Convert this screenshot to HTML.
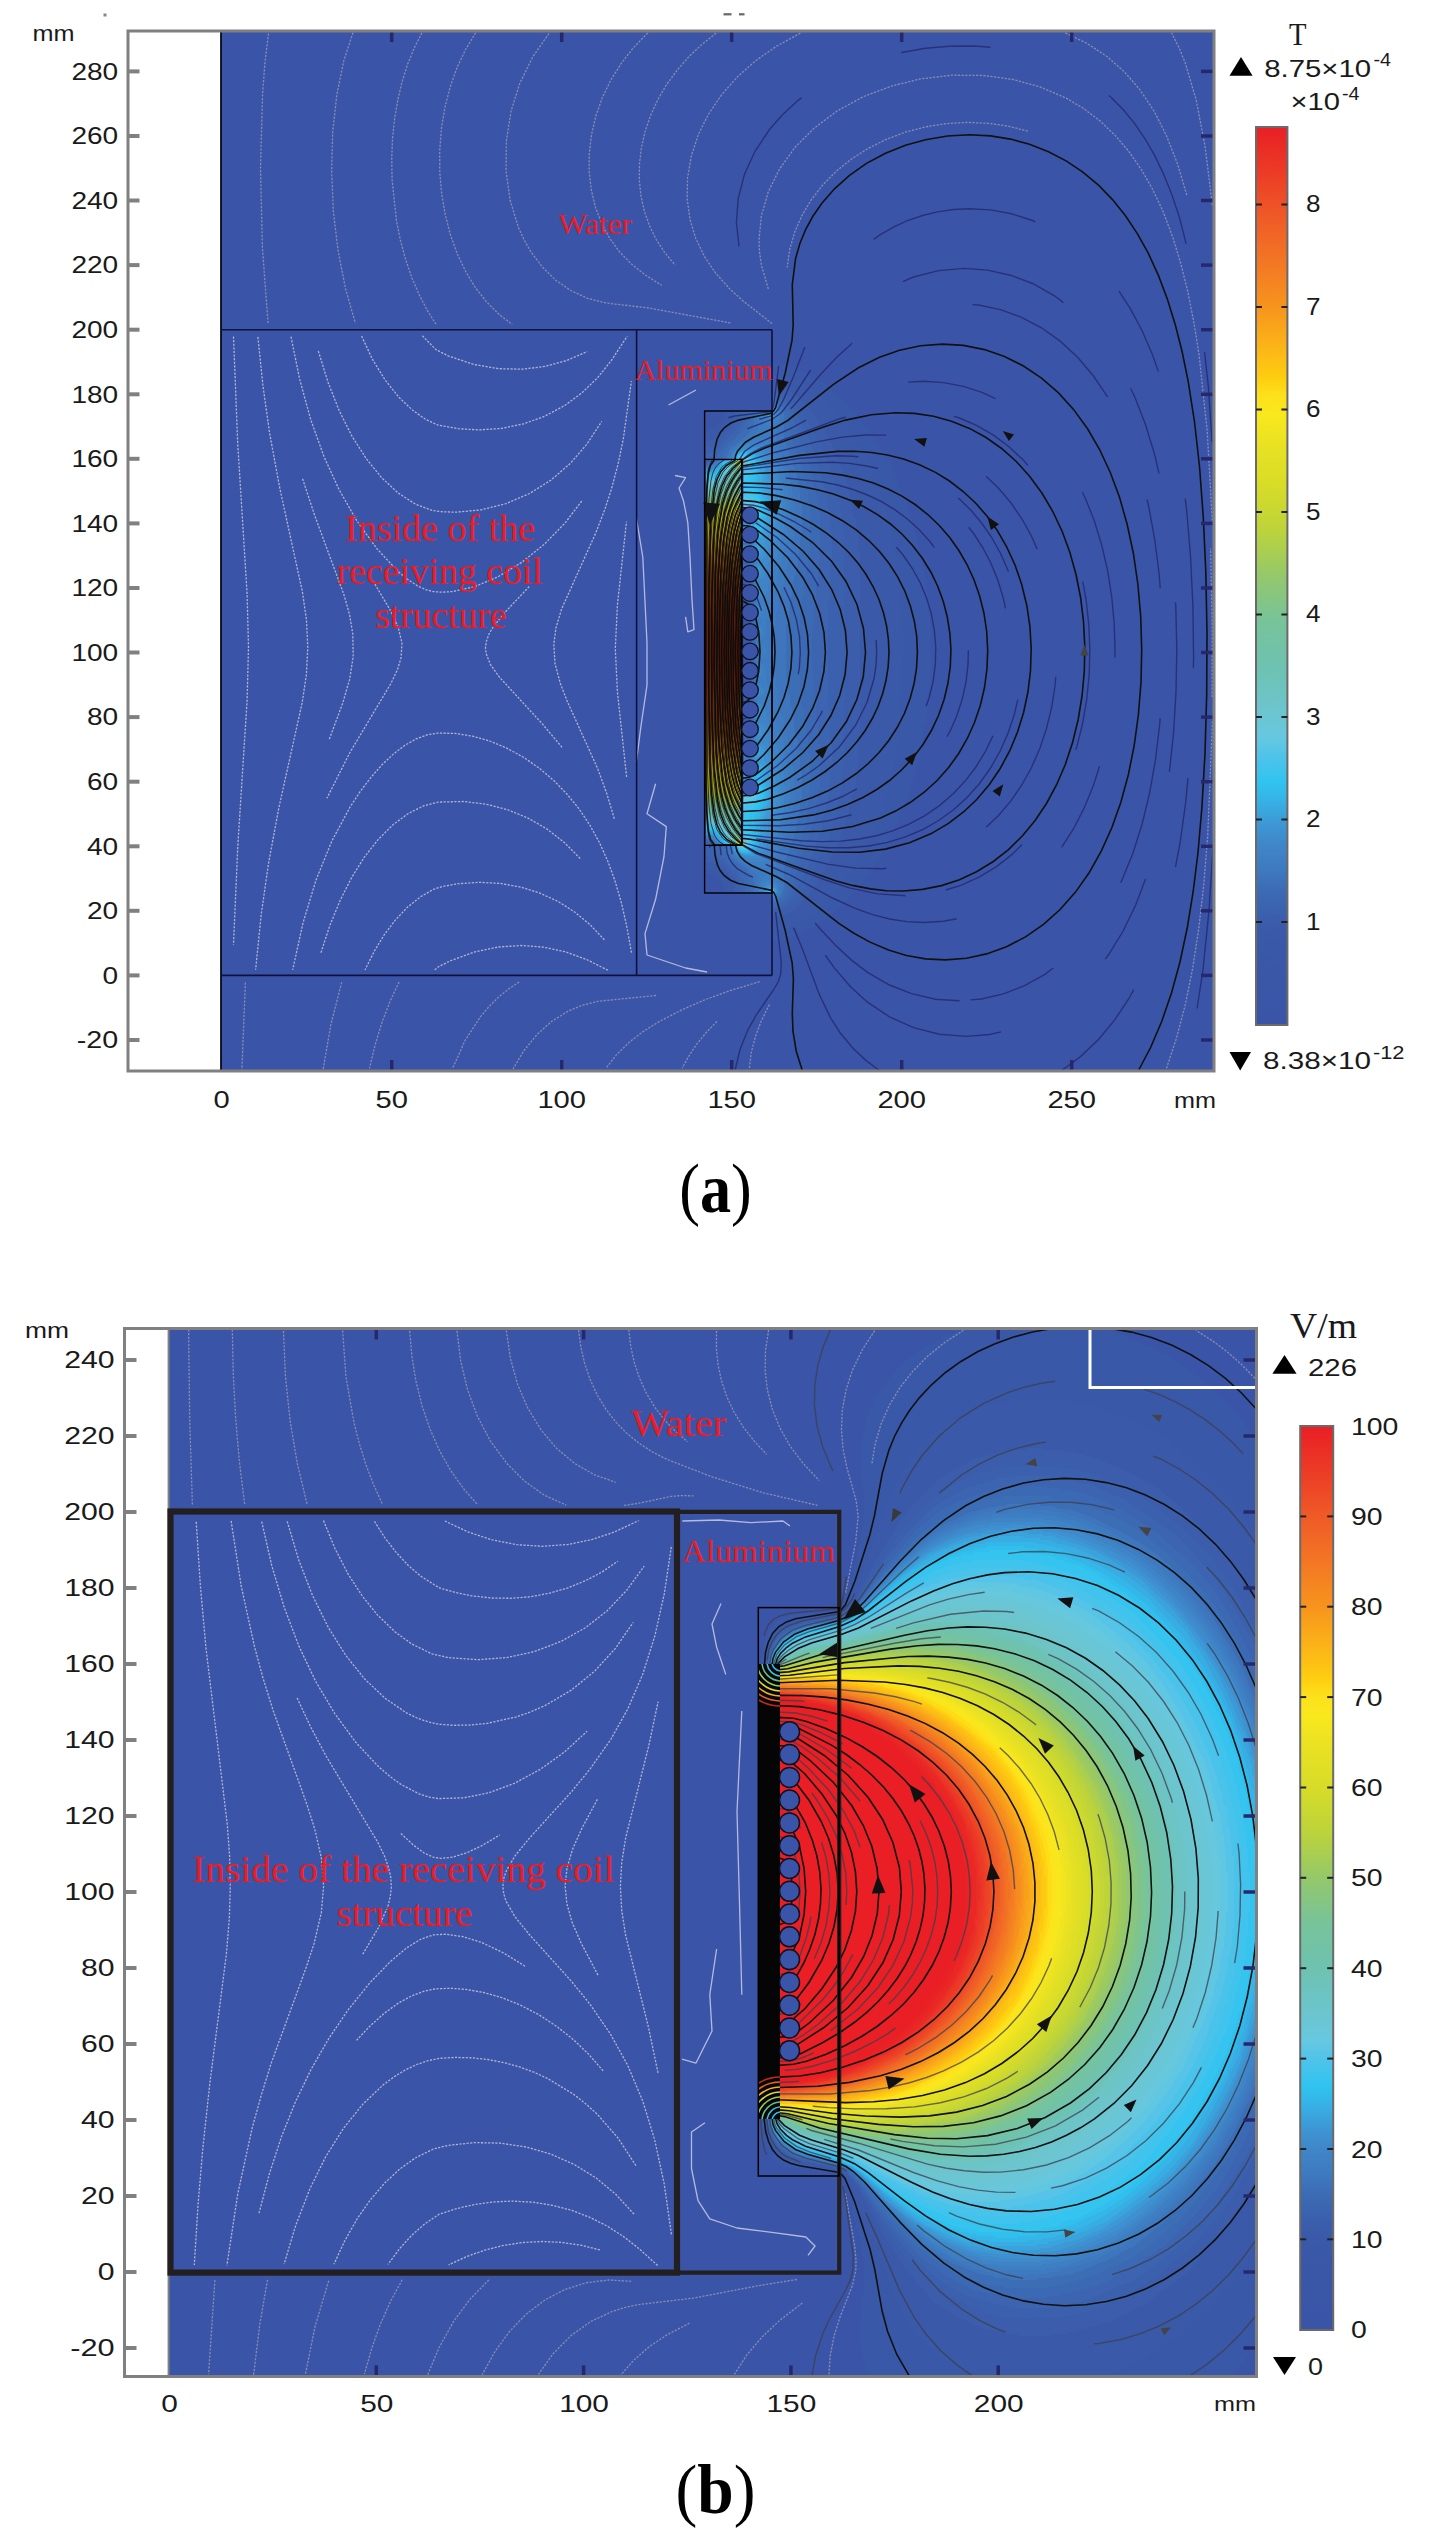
<!DOCTYPE html>
<html><head><meta charset="utf-8"><style>
html,body{margin:0;padding:0;background:#fff;width:1434px;height:2540px;overflow:hidden}
svg{position:absolute;left:0;top:0;display:block}
</style></head><body>
<svg width="1434" height="2540" viewBox="0 0 1434 2540">
<clipPath id="cpa"><rect x="220.5" y="31.0" width="993.5" height="1040.0"/></clipPath>
<rect x="220.5" y="31.0" width="993.5" height="1040.0" fill="#3a55a7" stroke="none" stroke-width="0.0"/>
<g clip-path="url(#cpa)">
<path fill="#3a58a8" fill-rule="evenodd" d="M772 974L772 976 774 976ZM776 362L772 362 772 410 772 412 728 412 724 412 722 420 716 426 706 430 706 434 706 434 706 868 708 874 710 874 720 880 722 884 724 892 732 892 734 892 772 892 772 894 772 942 774 940 780 940 796 936 814 926 832 914 840 908 858 888 868 876 884 850 900 816 908 794 910 792 910 788 916 772 916 768 920 756 920 752 922 746 922 742 922 742 924 726 926 724 928 702 928 702 928 692 930 690 930 676 930 676 930 628 930 626 930 612 928 612 928 594 926 592 926 586 926 584 924 568 922 566 920 552 918 548 916 536 912 524 912 522 906 500 896 480 896 478 886 456 868 430 852 410 836 394 822 382 812 376 794 368ZM744 700L748 702 748 704 746 708 744 706 744 702ZM746 678L748 682 748 686 748 688 744 692 742 688 742 682 744 680ZM746 628L748 630 748 634 748 634 748 642 748 644 748 648 748 650 748 652 748 654 748 668 748 670 748 672 744 676 742 670 742 660 744 660 744 654 742 654 742 650 744 648 742 632 744 630ZM744 612L748 614 748 620 746 624 744 624 742 620 742 616ZM746 596L748 598 748 600 746 602 744 602 744 596ZM772 328L772 332 774 330Z"/>
<path fill="#3a59a8" fill-rule="evenodd" d="M772 374L772 410 772 412 732 412 730 412 728 412 726 418 722 424 716 430 710 432 706 432 706 438 706 440 706 458 706 460 706 462 706 844 706 844 706 846 706 864 706 864 706 870 710 870 714 872 724 882 728 888 728 892 738 892 738 892 772 892 772 894 772 930 778 930 778 930 782 930 792 926 806 920 818 912 836 892 856 864 862 852 864 850 874 832 874 830 880 816 888 792 888 788 892 772 892 768 894 766 894 762 896 756 896 752 896 750 896 744 898 744 898 738 898 736 898 730 900 730 900 722 900 720 902 696 902 696 904 630 902 630 902 608 902 606 900 582 900 582 900 574 898 572 896 552 894 546 892 532 880 490 872 470 872 468 862 450 860 448 856 438 838 414 822 396 808 386 794 378 780 374ZM744 724L744 722 746 722 746 724 744 726ZM744 700L746 700 748 702 748 704 746 708 744 708 742 706ZM744 610L748 612 750 620 746 626 748 630 748 636 750 636 750 642 748 642 748 660 750 662 750 666 748 668 748 672 746 676 750 684 748 686 748 688 746 692 744 692 742 688 742 680 744 680 744 674 742 672 742 658 744 658 742 656 742 648 744 648 742 644 742 632 744 630 742 614ZM744 594L748 598 748 600 746 604 744 604 742 600 742 598ZM744 578L744 578 746 580 744 582Z"/>
<path fill="#3a5aa9" fill-rule="evenodd" d="M772 380L772 410 772 412 736 412 734 412 732 412 730 414 730 418 728 424 718 432 710 436 706 436 706 444 706 446 706 458 706 460 706 462 706 842 706 844 706 846 706 856 706 858 706 866 712 868 720 872 726 878 730 886 730 890 732 892 772 892 772 894 772 922 778 922 792 918 804 912 808 908 824 892 836 874 840 864 842 862 852 842 852 840 856 836 864 814 864 810 866 804 866 800 870 792 870 788 872 782 872 778 872 778 874 760 876 758 876 752 876 750 876 742 878 742 878 732 878 730 880 690 880 690 880 612 880 612 880 588 878 586 878 562 876 560 876 552 876 552 876 544 874 544 872 526 872 524 872 520 870 520 870 512 866 500 866 496 858 476 850 456 850 454 840 438 828 418 820 408 808 396 800 390 788 384ZM744 720L746 720 748 722 746 726 744 726 744 722ZM744 698L750 702 748 706 744 710 742 706 742 702ZM746 610L750 614 750 622 748 626 750 630 750 672 748 674 750 688 748 692 744 694 742 690 742 680 744 678 744 674 742 674 742 630 744 630 742 614 744 610ZM744 592L748 594 750 598 748 602 744 606 742 602 742 596ZM744 576L748 580 746 582 744 582 744 578Z"/>
<path fill="#3b5dab" fill-rule="evenodd" d="M772 386L772 410 772 412 740 412 740 412 734 412 734 420 730 426 718 438 712 440 706 442 706 454 706 456 706 458 710 458 712 460 708 462 706 462 706 464 706 842 706 844 710 844 710 844 710 846 706 846 706 862 716 864 728 874 734 884 734 892 772 892 772 894 772 916 778 916 788 914 798 906 808 896 818 882 836 848 848 816 848 812 852 800 852 796 854 794 854 790 856 784 856 780 856 778 858 764 858 762 860 736 860 734 860 568 860 566 860 552 858 550 858 532 856 530 856 524 856 524 856 518 854 518 852 504 844 472 842 470 838 458 834 450 834 448 824 430 810 408 794 394 784 388ZM748 720L750 722 748 724 744 728 742 724 744 720 744 720ZM744 696L746 698 750 702 748 708 746 712 744 710 742 708 742 700ZM744 608L746 608 748 610 750 614 750 622 748 626 750 630 750 672 750 674 750 688 750 688 750 692 746 696 744 696 742 692 742 678 744 678 742 674 742 630 744 628 744 626 742 624 742 612ZM746 592L750 596 750 600 744 608 742 602 742 596 744 592ZM744 576L746 576 750 580 746 584 744 584 742 580 742 578Z"/>
<path fill="#3b60ad" fill-rule="evenodd" d="M776 392L772 392 772 410 772 412 744 412 744 412 738 412 738 420 732 428 718 442 712 446 706 446 706 458 716 458 718 460 712 462 708 462 706 462 706 464 706 840 706 842 714 844 714 844 714 846 706 846 706 856 716 860 728 870 734 876 736 882 738 892 772 892 772 894 772 912 786 908 798 900 806 888 818 864 818 862 822 854 822 852 828 840 838 810 838 806 838 804 840 796 840 794 840 790 842 788 842 782 842 782 844 758 844 758 844 704 844 702 844 544 844 544 844 530 842 530 842 522 842 520 840 502 830 466 820 446 820 444 808 420 798 406 788 396ZM744 744L744 740 748 742 746 744ZM744 718L748 718 750 722 748 726 744 730 742 726 742 722ZM746 590L750 594 752 598 752 600 748 604 748 608 752 616 752 622 750 626 752 632 752 642 750 644 752 646 752 656 750 656 750 660 752 660 752 672 750 672 752 686 748 696 748 698 750 700 750 706 750 710 744 714 742 708 742 700 744 698 744 694 742 692 742 610 744 610 742 594 744 592ZM746 574L750 580 744 586 742 582 742 578 744 574ZM744 562L744 558 748 560 746 562Z"/>
<path fill="#3c64b0" fill-rule="evenodd" d="M772 396L772 410 772 412 748 412 748 412 742 412 742 420 736 430 718 448 710 454 706 454 706 458 720 458 722 460 716 462 708 462 706 464 706 466 706 838 706 842 712 844 716 844 718 844 716 846 710 846 712 846 714 852 736 874 740 882 742 890 742 892 772 892 772 894 772 908 776 908 784 906 792 898 802 880 802 878 808 868 820 832 820 830 822 826 822 822 826 810 828 800 828 798 830 784 830 782 830 768 832 766 832 742 830 742 830 720 830 720 828 686 828 684 828 620 828 618 828 602 830 600 830 584 830 584 830 564 832 564 832 534 830 532 830 520 830 518 830 510 828 510 826 494 826 492 822 478 808 436 794 408 786 400 776 396ZM744 746L744 740 744 740 748 740 750 742 748 744 744 746ZM744 716L748 718 752 722 750 728 746 730 744 730 742 726 742 720ZM744 588L746 588 750 592 752 600 750 604 752 610 752 614 752 616 752 622 750 626 752 632 752 638 752 638 752 640 752 646 752 648 752 654 752 656 752 660 752 662 752 664 752 666 752 680 752 682 752 682 752 692 750 696 752 700 752 708 746 714 744 714 742 710 742 698 744 696 742 694 742 610 744 608 742 606 742 592ZM744 572L746 572 752 580 752 582 746 586 744 586 742 582 742 576ZM744 562L744 558 744 558 750 560 746 564Z"/>
<path fill="#3c69b3" fill-rule="evenodd" d="M776 398L772 398 772 410 772 412 754 412 752 412 746 412 746 414 746 420 742 428 738 434 722 448 718 454 716 458 724 458 724 460 724 460 710 462 706 464 706 468 706 836 706 838 706 840 708 840 714 844 718 844 720 844 718 846 714 846 718 846 720 846 720 850 722 856 740 874 746 886 746 890 746 892 772 892 772 894 772 906 780 904 788 898 792 888 796 876 796 874 812 828 812 824 816 816 816 812 816 810 816 806 818 798 818 790 820 790 820 744 818 744 818 732 818 732 818 722 816 720 816 712 816 710 816 702 814 700 814 690 814 688 814 674 812 674 812 630 814 630 814 616 814 614 814 604 816 602 816 594 816 592 816 584 818 582 818 572 818 572 818 562 820 560 820 542 820 540 820 512 818 512 818 498 816 496 816 492 816 492 816 488 814 486 812 476 804 448 802 446 792 416 788 406 782 402ZM748 738L750 740 750 742 744 748 742 744 742 742 744 738ZM744 572L746 572 752 576 752 582 748 586 752 594 752 600 754 600 750 606 752 610 752 616 754 616 752 620 754 622 752 624 752 626 752 632 754 632 754 636 752 636 752 640 754 642 752 642 752 648 754 648 754 654 752 654 752 660 754 662 752 664 752 668 754 668 752 670 752 676 752 678 752 680 752 692 750 696 752 700 752 708 748 716 752 720 752 726 750 730 746 732 744 732 742 728 742 718 744 718 744 712 742 712 742 592 744 590 742 576ZM744 556L744 556 746 556 750 562 748 564 744 564 742 562Z"/>
<path fill="#3c6eb6" fill-rule="evenodd" d="M774 400L772 400 772 410 772 412 750 412 750 420 746 428 724 450 722 454 722 458 722 458 726 458 726 460 720 462 714 462 706 466 706 468 706 836 706 836 706 840 708 840 716 844 720 844 722 844 718 846 722 846 724 846 724 852 728 856 746 874 748 880 750 890 750 892 772 892 772 894 772 904 778 902 784 898 788 886 788 882 790 880 790 874 790 874 792 866 802 836 802 834 806 822 806 818 806 816 806 812 808 806 810 788 810 786 810 754 808 754 808 736 806 736 806 730 806 728 806 722 804 722 804 716 804 714 804 708 802 708 802 700 802 700 802 692 800 692 800 682 800 680 800 668 798 666 800 622 800 622 800 612 802 612 802 596 804 596 804 590 804 588 804 582 806 582 806 576 806 574 806 568 808 568 808 552 810 550 810 540 810 538 810 502 808 502 808 496 808 494 808 490 806 490 806 486 806 484 804 474 792 440 790 432 790 430 790 426 788 424 788 418 786 412 784 408 780 404ZM744 736L750 738 752 740 750 744 746 748 744 748 742 746 742 740ZM746 570L750 572 754 580 754 582 750 586 754 594 754 602 752 606 754 610 754 618 754 620 754 622 752 624 754 626 754 632 754 634 754 636 754 640 754 640 754 644 754 648 754 650 754 660 754 662 754 664 754 676 752 676 754 680 754 692 752 696 754 700 754 708 750 716 750 718 752 720 752 726 750 730 746 734 744 734 742 730 742 718 744 716 742 714 742 590 744 590 742 586 742 574ZM746 554L752 560 752 562 744 566 742 564 742 558 744 556ZM744 540L746 540 746 542 744 542Z"/>
<path fill="#3e75bc" fill-rule="evenodd" d="M774 402L772 402 772 410 772 412 754 412 754 424 752 430 744 438 730 448 726 456 726 458 728 460 726 460 714 462 712 464 708 466 706 470 706 834 706 836 706 838 708 838 716 844 722 844 722 844 722 846 726 846 728 848 728 852 732 858 746 868 752 876 754 882 754 892 772 892 772 894 772 902 778 900 782 894 784 888 784 888 784 868 784 868 786 860 796 830 798 814 800 812 800 808 800 806 800 800 802 798 802 768 800 768 800 760 800 758 800 752 798 750 798 740 796 738 794 724 794 722 792 708 790 706 790 702 790 700 790 696 788 694 788 680 786 678 786 668 786 666 786 624 788 624 790 602 790 602 792 592 792 590 792 586 794 580 794 576 796 574 796 570 798 564 800 546 800 546 800 538 802 536 802 502 800 502 800 490 798 488 798 484 798 484 796 472 784 438 784 412 782 408ZM744 764L744 760 744 760 748 760 750 760 746 764ZM748 554L754 560 752 562 746 568 752 572 754 580 754 582 752 586 752 588 754 590 754 600 756 600 754 604 754 618 756 620 756 624 754 626 754 626 754 638 756 640 756 644 754 644 754 648 756 650 754 652 756 664 754 664 754 674 754 676 754 678 756 680 756 682 754 684 754 692 752 696 754 700 754 708 752 716 752 718 754 720 754 722 754 724 752 732 746 736 752 740 752 744 748 750 744 750 742 746 742 738 744 738 744 732 742 732 742 572 744 568 742 564 742 556 744 554ZM744 538L744 538 748 540 750 542 748 544 744 544 744 542Z"/>
<path fill="#3e7ac0" fill-rule="evenodd" d="M772 404L772 410 772 412 756 412 758 420 758 422 758 428 758 430 752 436 738 444 730 452 728 456 728 458 730 460 728 460 714 462 712 466 708 466 706 472 706 834 706 834 706 838 712 840 718 844 724 844 724 844 724 846 728 846 732 854 738 860 750 868 756 874 758 876 756 892 772 892 772 894 772 900 774 900 780 896 782 890 780 882 776 874 776 864 788 832 792 814 792 814 792 808 794 808 794 800 794 800 794 776 794 774 794 766 792 766 792 760 792 760 792 754 788 744 788 740 784 728 784 724 784 722 784 720 780 710 780 706 780 706 780 702 778 700 778 696 778 696 778 690 776 684 776 676 774 676 774 666 774 664 774 640 774 638 776 620 776 618 778 608 778 606 778 602 782 588 782 584 784 584 784 580 788 564 788 560 790 554 792 538 794 538 794 532 794 530 794 500 794 500 792 488 792 486 788 472 776 438 776 432 780 420 780 410 776 404ZM742 764L744 758 750 758 752 760 748 766 744 766ZM744 552L748 552 752 556 754 560 754 564 752 564 750 568 754 572 756 578 756 582 752 586 756 594 756 600 756 600 756 602 754 604 756 618 758 620 758 624 756 626 756 638 758 642 756 646 756 658 758 662 756 666 756 674 754 676 754 678 758 682 756 684 756 692 754 696 754 698 756 700 756 702 756 704 754 712 752 716 756 720 756 724 750 736 750 738 754 740 754 744 752 746 746 752 744 752 742 748 742 738 744 736 744 734 742 732 742 572 744 570 744 568 742 566 742 556ZM742 540L744 536 750 538 752 540 752 542 744 546 742 542Z"/>
<path fill="#3e7fc3" fill-rule="evenodd" d="M766 874L760 882 758 890 760 892 772 892 772 894 772 898 774 898 780 892 778 884 774 878 768 874ZM762 644L756 646 756 656 762 658 766 656 766 652 766 646ZM758 438L740 444 732 452 730 458 730 460 730 460 718 462 712 466 708 468 706 472 706 832 706 832 706 836 712 838 716 842 718 844 724 844 726 846 730 846 732 852 742 860 762 868 766 868 772 862 778 850 782 836 782 832 786 820 788 810 788 810 788 802 790 802 790 778 788 778 788 770 788 770 786 760 786 758 782 740 780 736 778 728 776 722 772 706 770 698 768 686 766 680 766 678 766 668 764 664 758 664 756 666 756 674 756 676 758 678 760 682 756 686 756 690 754 696 758 700 754 716 754 718 756 720 756 722 756 724 756 728 752 736 754 740 754 744 752 748 748 752 744 752 742 750 742 570 744 568 742 568 742 554 746 550 750 552 754 558 754 560 756 562 754 564 752 566 752 568 754 572 756 580 756 582 754 586 754 588 756 590 756 598 758 600 758 602 756 606 756 610 756 610 756 616 762 620 762 622 756 626 756 636 760 638 764 638 766 634 766 620 770 612 770 600 774 594 776 582 782 560 782 558 786 544 788 536 788 534 788 528 790 528 790 498 788 498 788 492 788 490 788 486 786 486 784 470 774 448 772 444 766 438ZM750 758L752 762 748 766 744 768 742 764 742 760 744 756ZM742 538L744 536 748 536 752 540 752 542 750 544 744 546 742 544ZM772 404L772 410 772 412 758 412 760 420 766 426 770 426 772 426 778 420 780 416 778 408Z"/>
<path fill="#3f84c6" fill-rule="evenodd" d="M764 882L762 886 760 892 772 892 772 894 772 898 774 898 778 892 778 886 776 884 770 880ZM758 686L756 696 756 696 760 696 764 694 764 690 760 686ZM758 668L758 674 756 674 760 676 762 674 762 670 760 668ZM760 648L758 648 758 656 760 654 762 652ZM758 626L758 634 760 636 762 634 762 628ZM756 606L758 616 760 616 762 614 764 608 762 606ZM752 442L752 444 744 444 738 448 732 454 732 456 732 458 732 460 732 460 720 462 714 466 710 468 706 468 706 472 706 474 706 830 706 832 706 836 712 838 718 842 726 844 726 846 730 846 732 848 734 852 740 858 750 862 762 862 766 860 770 854 776 840 776 838 778 834 778 830 782 818 782 814 784 812 784 798 786 796 786 786 784 786 784 776 784 776 784 772 782 770 782 766 782 766 782 762 780 758 778 750 774 738 774 734 770 726 768 720 766 710 762 704 758 704 758 706 756 712 754 716 758 720 754 732 752 736 756 740 756 744 752 752 748 754 744 754 742 750 742 554 744 550 748 550 754 556 756 562 752 568 756 572 756 578 760 582 754 588 756 592 758 598 760 598 766 596 768 590 768 584 774 570 774 566 778 556 778 554 780 550 780 546 784 534 784 522 786 520 786 502 784 500 784 494 784 494 784 488 782 484 780 476 778 472 778 466 770 450 762 444ZM744 756L750 758 754 760 754 762 748 768 746 768 744 768 742 766 742 758ZM742 538L744 536 748 536 754 540 754 542 750 546 744 548 742 544ZM772 406L772 410 772 412 760 412 764 420 766 422 772 422 774 420 778 416 778 414 778 412 776 408Z"/>
<path fill="#3f8aca" fill-rule="evenodd" d="M768 884L764 888 762 892 772 892 772 894 772 898 776 894 778 890 776 888 774 884ZM760 708L758 708 756 716 758 716 762 714 762 710ZM758 688L758 694 760 694 760 690ZM758 608L758 612 758 614 760 614 760 608ZM756 586L758 594 760 596 762 594 762 590 762 588 760 586ZM748 446L746 446 744 446 736 450 732 456 734 460 732 460 720 462 714 468 710 470 706 470 706 474 706 476 706 830 706 830 706 834 712 836 716 838 718 842 726 844 728 846 732 846 734 852 738 856 746 858 750 858 752 860 754 858 760 858 764 856 768 850 772 842 776 822 778 820 778 818 778 816 778 812 780 812 782 790 780 788 780 780 780 778 778 770 776 766 774 756 768 742 766 728 762 724 758 724 754 732 754 736 758 740 758 742 756 744 756 748 750 756 750 756 754 760 754 762 754 764 748 768 744 770 742 766 742 758 744 756 744 752 742 752 742 552 744 552 742 536 744 534 748 534 754 540 754 544 748 548 754 554 758 560 758 564 754 566 756 576 760 578 764 578 766 572 768 564 772 556 780 530 780 520 782 518 782 502 780 500 780 494 780 494 780 490 778 488 778 484 778 484 776 472 770 456 762 448 756 446ZM776 408L772 406 772 410 772 412 762 412 764 416 768 420 774 418 776 416 776 410Z"/>
<path fill="#3e90d0" fill-rule="evenodd" d="M766 886L764 892 772 892 772 894 772 896 774 896 776 894 776 888 772 886ZM760 728L758 728 756 732 756 736 760 736 762 734 762 730ZM758 710L758 714 760 712ZM758 588L758 592 760 592 760 590ZM756 566L754 568 758 574 760 576 762 572 762 568 760 566ZM746 448L738 450 734 454 734 458 734 460 734 460 720 462 714 468 710 470 706 470 706 476 706 476 706 828 706 830 706 834 714 836 720 842 728 844 730 846 734 846 734 846 734 850 740 854 744 856 756 856 764 850 770 838 772 826 774 816 776 808 776 806 776 802 778 800 778 788 776 786 776 780 776 780 774 772 766 748 762 744 758 744 752 754 752 756 756 760 756 764 750 770 744 770 742 768 742 756 744 754 742 752 742 552 744 550 744 548 742 546 742 536 744 534 750 534 754 538 756 542 750 548 760 560 762 560 766 556 776 524 776 520 778 518 778 500 776 498 776 494 776 492 776 488 774 488 770 468 766 456 756 448ZM744 782L744 780 748 780 748 780 746 782ZM744 520L744 520 746 520 748 520 750 522 748 524 746 524ZM774 408L772 406 772 410 772 412 764 412 768 418 772 418 776 412 776 410Z"/>
<path fill="#3d99d5" fill-rule="evenodd" d="M770 886L766 890 766 892 772 892 772 894 772 896 776 894 776 890 774 888ZM758 730L756 732 756 734 760 732ZM756 568L758 574 760 572 760 570 758 568ZM744 450L736 454 734 460 720 462 718 466 710 472 706 472 706 476 706 478 706 826 706 828 706 832 714 836 720 842 728 844 730 846 734 846 736 848 736 850 742 854 752 856 758 852 762 848 764 842 766 836 766 832 768 830 768 826 768 826 768 822 772 808 774 792 774 792 774 784 772 784 770 772 764 758 764 750 760 746 758 746 752 756 758 760 756 766 752 770 748 772 744 772 742 768 742 536 744 532 750 532 752 534 758 542 756 546 752 546 752 548 756 552 758 556 760 556 762 554 764 550 764 544 770 532 770 530 774 520 774 502 774 502 774 496 768 478 766 466 762 458 758 452 752 450ZM744 782L744 780 744 778 750 778 752 780 746 784ZM744 520L746 518 752 520 752 522 750 524 744 524 744 524ZM774 408L772 408 772 410 772 412 766 412 768 416 772 416 774 414 776 410Z"/>
<path fill="#3aa3dc" fill-rule="evenodd" d="M768 888L766 892 772 892 772 896 774 894 774 888 772 888ZM760 748L758 748 754 754 756 756 760 754ZM754 548L758 554 760 554 760 554 760 548 758 546ZM744 450L738 454 734 460 720 462 720 466 712 472 706 472 706 478 706 480 706 826 706 826 706 832 714 834 722 842 724 844 730 844 732 846 734 846 740 852 744 854 748 854 756 852 758 848 762 840 764 822 770 802 770 786 770 786 766 770 762 764 758 764 754 770 748 772 746 772 742 770 742 534 744 532 750 532 754 534 758 538 762 538 764 536 770 518 772 502 770 502 768 490 766 486 764 466 760 458 754 452 750 450ZM742 782L744 776 746 778 750 778 752 780 752 782 746 784 744 784ZM742 520L744 518 754 520 754 522 750 526 744 526 742 522ZM772 408L772 410 772 412 766 412 768 416 772 416 774 414 774 410Z"/>
<path fill="#37ade3" fill-rule="evenodd" d="M768 890L766 892 772 892 772 896 774 894 774 890 772 888ZM758 750L756 754 758 754 758 752ZM756 548L756 550 758 552 758 550ZM742 452L736 456 736 458 736 460 736 460 722 462 720 466 712 472 706 474 706 480 706 480 706 824 706 824 706 830 712 832 716 834 722 842 724 844 730 844 732 846 736 846 740 852 744 854 748 854 752 852 756 848 758 844 760 834 760 834 760 824 768 802 768 790 766 784 764 780 762 768 760 766 750 774 744 774 742 770 742 534 744 530 748 530 752 532 758 538 762 534 764 528 764 524 768 514 768 502 762 484 762 472 760 470 760 466 758 460 754 454 748 452ZM742 778L744 776 750 776 754 780 754 782 750 784 744 786 742 784ZM742 518L744 518 752 518 756 520 756 524 750 526 744 526 742 524ZM774 408L772 408 772 412 768 412 768 414 772 414 774 412Z"/>
<path fill="#34b6e8" fill-rule="evenodd" d="M768 892L772 892 772 894 774 894 774 892 772 890 768 890ZM742 452L738 454 736 460 722 462 722 466 714 472 710 474 706 474 706 480 706 482 706 822 706 824 706 830 716 832 722 838 724 842 726 844 732 844 734 846 736 846 740 852 748 852 752 850 756 844 756 840 758 840 758 830 756 828 758 820 764 804 764 800 766 800 766 788 764 784 760 780 760 770 758 768 750 776 758 778 758 780 758 782 754 784 748 786 746 786 744 786 742 784 742 778 744 776 744 772 742 772 742 532 744 530 750 528 754 530 758 536 762 532 762 528 760 524 752 526 748 526 744 528 742 526 742 518 744 516 750 516 756 518 760 522 766 516 766 506 758 482 758 468 758 466 758 462 754 456 748 452ZM772 408L772 412 768 412 770 414 772 414 774 410Z"/>
<path fill="#31c0ee" fill-rule="evenodd" d="M770 890L768 892 772 892 772 894 774 892 772 890ZM758 770L758 770 752 776 758 776ZM752 528L752 528 758 534 760 530 758 528 756 526ZM742 454L738 456 736 460 724 462 722 466 718 472 710 476 706 476 706 482 706 484 706 820 706 822 706 828 716 832 722 838 724 842 732 844 734 846 736 846 740 850 742 852 748 852 750 850 754 844 754 818 764 798 764 790 760 784 758 784 752 786 744 786 742 784 742 776 744 774 742 772 742 532 744 530 742 528 742 518 744 516 748 516 750 516 754 516 758 518 760 518 764 514 764 506 762 500 756 486 756 480 754 480 756 476 756 462 754 458 748 454ZM774 410L768 412 772 414 774 412Z"/>
<path fill="#35c4ef" fill-rule="evenodd" d="M770 890L768 892 772 892 772 894 774 892 772 890ZM754 528L758 532 758 530ZM744 454L740 454 738 458 736 460 724 462 722 468 716 474 710 476 706 476 706 484 706 484 706 820 706 820 706 828 712 828 718 832 724 838 724 842 734 844 734 846 736 846 740 850 742 850 748 850 752 848 754 842 752 834 748 826 748 822 750 814 756 808 762 798 762 788 758 786 754 788 744 788 742 786 742 516 744 516 754 516 758 518 762 512 762 506 758 496 754 490 750 482 750 480 754 470 754 460 748 454ZM774 410L772 410 772 412 768 412 772 414Z"/>
<path fill="#40c4ed" fill-rule="evenodd" d="M770 890L770 892 774 894 772 890ZM742 454L738 458 738 460 726 462 722 468 716 476 710 478 706 478 706 486 706 486 706 818 706 818 706 826 710 826 716 830 722 836 726 842 734 844 736 846 738 846 740 850 746 850 750 848 752 846 752 838 750 834 744 828 744 814 750 810 756 804 760 798 760 790 758 788 756 788 754 788 744 788 742 786 742 516 744 514 754 514 756 516 758 516 760 514 760 506 756 498 744 484 744 482 748 476 752 466 752 458 746 454ZM772 410L772 410 770 412 770 414 772 412 774 410Z"/>
<path fill="#4ac3eb" fill-rule="evenodd" d="M770 890L770 892 772 894 772 892ZM744 454L740 456 738 460 726 462 726 464 722 470 718 476 712 478 708 478 706 480 706 486 706 488 706 816 706 818 706 826 710 826 718 830 724 836 726 842 728 844 734 844 736 846 738 846 742 850 746 850 750 844 750 840 748 834 742 830 742 812 744 808 754 804 758 796 758 790 758 788 756 790 744 790 742 788 742 516 744 514 756 514 758 514 760 512 760 508 758 504 750 496 744 492 744 488 742 488 742 478 744 474 750 470 752 464 750 458ZM774 410L772 410 772 410 770 412 772 412Z"/>
<path fill="#56c4e8" fill-rule="evenodd" d="M770 890L770 892 772 894ZM742 456L738 460 726 462 726 464 724 470 716 478 706 480 706 488 706 490 706 814 706 816 706 824 710 824 718 828 724 834 726 840 726 842 734 844 736 846 738 846 740 848 746 850 750 846 750 840 748 838 742 834 742 808 746 804 750 804 756 798 758 796 758 790 744 790 742 788 742 514 746 512 758 512 758 510 756 504 750 500 746 498 742 494 742 474 750 466 750 458 746 456ZM772 410L770 412 772 412Z"/>
<path fill="#60c7e2" fill-rule="evenodd" d="M744 456L740 456 738 460 728 462 724 472 718 478 712 480 706 482 706 490 706 492 706 812 706 814 706 822 708 824 714 824 720 828 726 834 728 842 736 844 736 846 738 846 740 848 742 848 746 848 748 846 748 840 744 838 742 834 742 806 744 802 752 800 756 796 756 792 746 792 742 788 742 514 748 512 758 512 758 510 754 504 748 500 746 500 742 496 742 472 744 470 748 466 750 462 748 458ZM772 410L770 412 770 412 772 412Z"/>
<path fill="#67c8dd" fill-rule="evenodd" d="M770 892L772 892 772 894 772 892ZM742 456L738 460 728 462 728 466 726 470 726 472 718 480 710 482 706 482 706 492 706 492 706 812 706 812 706 822 716 824 722 828 726 834 728 842 730 844 736 844 742 848 746 848 748 846 748 840 742 836 742 802 746 800 752 798 756 794 756 792 746 792 742 790 742 514 748 510 756 510 756 510 754 506 744 502 742 500 742 470 746 466 748 464 748 460 746 456ZM742 822L742 822 742 830 742 830 740 830 740 822Z"/>
<path fill="#69c6d7" fill-rule="evenodd" d="M742 456L740 460 736 462 728 462 728 466 726 474 720 480 710 484 706 484 706 494 706 494 706 810 706 810 706 820 714 822 720 824 726 830 730 842 732 844 736 844 738 846 740 848 744 848 748 846 748 842 746 840 742 838 742 828 742 832 742 834 740 832 740 816 742 816 742 816 742 820 742 800 744 798 752 796 754 794 752 794 746 794 742 790 742 514 746 510 754 510 754 508 750 506 744 504 742 502 742 468 748 464 748 458 744 456ZM742 472L742 474 742 484 742 486 740 484 740 474Z"/>
<path fill="#6bc6d2" fill-rule="evenodd" d="M742 456L736 462 730 462 728 472 726 476 722 480 714 484 706 484 706 496 706 496 706 808 706 808 706 820 714 820 720 824 726 830 728 834 730 842 736 844 738 846 740 846 740 848 744 848 746 846 746 842 742 838 742 832 742 834 742 836 740 834 740 814 742 812 742 814 742 798 744 796 746 796 750 796 750 794 746 794 744 794 742 790 742 512 746 510 752 508 750 506 744 506 742 504 742 486 742 488 742 490 740 488 740 472 742 470 742 472 742 474 742 468 748 462 746 458Z"/>
<path fill="#6cc5cc" fill-rule="evenodd" d="M742 458L736 462 730 462 728 472 724 480 716 484 708 486 706 486 706 496 706 498 706 806 706 808 706 818 716 820 722 824 728 830 730 842 736 844 742 848 744 848 746 846 746 842 742 840 742 834 742 836 740 836 740 810 742 810 742 810 742 796 744 796 742 792 742 512 744 510 744 508 742 506 742 492 742 494 740 492 740 470 742 468 742 472 742 466 746 462 746 458 746 458Z"/>
<path fill="#6dc4c6" fill-rule="evenodd" d="M742 458L738 462 730 462 730 472 728 476 722 482 714 486 706 488 706 498 706 500 706 804 706 806 706 816 716 818 724 822 730 830 730 832 730 842 738 844 738 846 742 848 744 848 746 844 742 840 742 836 742 838 740 836 740 808 742 808 742 542 742 542 742 540 742 494 742 496 740 494 740 468 742 468 742 470 742 466 746 464 746 460 744 458Z"/>
<path fill="#6dc4c0" fill-rule="evenodd" d="M742 458L738 462 730 462 730 474 728 478 722 484 714 488 706 488 706 500 706 502 706 802 706 804 706 816 714 816 724 822 730 828 732 832 732 842 738 844 738 846 742 848 744 848 746 846 746 844 742 840 742 838 742 838 740 838 740 806 742 804 742 806 742 782 742 782 742 780 742 764 742 764 742 760 742 758 742 746 742 744 742 740 742 740 742 724 742 724 742 720 742 684 742 684 742 682 742 664 742 662 742 662 742 622 742 620 742 618 742 602 742 600 742 598 742 582 742 582 742 578 742 564 742 562 742 560 742 558 742 544 742 544 742 540 742 538 742 524 742 522 742 520 742 498 740 496 740 468 742 468 742 468 742 466 746 462 746 458 744 458Z"/>
<path fill="#6dc3b9" fill-rule="evenodd" d="M742 458L738 462 732 462 732 474 730 478 724 484 716 488 706 490 706 502 706 504 706 800 706 802 706 814 716 816 726 820 730 826 732 830 732 842 738 844 740 846 744 848 746 846 746 844 742 840 742 838 742 840 740 838 740 804 742 802 742 804 742 784 742 784 742 778 742 778 742 766 742 766 742 758 742 756 742 746 742 746 742 738 742 738 742 726 742 726 742 720 742 718 742 706 742 706 742 700 742 700 742 688 742 686 742 680 742 680 742 666 742 664 742 660 742 658 742 644 742 644 742 638 742 638 742 624 742 622 742 616 742 616 742 604 742 602 742 598 742 596 742 584 742 584 742 578 742 576 742 566 742 564 742 558 742 556 742 546 742 546 742 538 742 536 742 526 742 524 742 518 742 518 742 500 740 498 740 468 742 466 742 468 742 464 746 462 746 460Z"/>
<path fill="#6ec2b3" fill-rule="evenodd" d="M742 458L738 462 732 462 732 476 724 486 716 490 708 490 706 492 706 504 706 504 706 798 706 800 706 812 708 814 714 814 726 818 734 828 732 842 738 844 744 848 746 844 742 840 740 838 740 802 742 802 742 786 742 784 742 778 742 776 742 768 742 768 742 756 742 756 742 748 742 748 742 738 742 736 742 728 742 728 742 718 742 716 742 708 742 708 742 698 742 698 742 690 742 688 742 678 742 678 742 672 742 670 742 658 742 656 742 654 742 652 742 646 742 646 742 634 742 632 742 626 742 624 742 614 742 614 742 606 742 604 742 596 742 594 742 586 742 586 742 576 742 574 742 566 742 566 742 556 742 554 742 548 742 546 742 536 742 536 742 526 742 526 742 502 740 500 740 466 742 466 742 466 742 464 746 460Z"/>
<path fill="#6fc2ae" fill-rule="evenodd" d="M742 458L738 462 732 462 734 474 734 476 734 478 728 484 720 490 706 492 706 506 706 506 706 798 706 798 706 812 718 814 730 820 734 824 736 828 736 832 734 836 732 842 738 844 740 846 744 846 744 844 742 842 742 840 742 840 740 840 740 832 740 830 740 824 740 822 740 800 742 800 742 786 742 786 742 776 742 774 742 770 742 770 742 756 742 754 742 752 742 750 742 736 742 734 742 732 742 730 742 716 742 716 742 712 742 710 742 696 742 696 742 692 742 692 742 676 742 676 742 674 742 630 742 628 742 626 742 612 742 610 742 608 742 606 742 592 742 592 742 588 742 586 742 572 742 572 742 568 742 568 742 554 742 552 742 548 742 548 742 534 742 534 742 518 742 516 742 502 742 504 740 502 740 466 742 466 744 462 744 458Z"/>
<path fill="#71c2a9" fill-rule="evenodd" d="M742 458L738 462 734 462 734 468 736 472 736 478 734 480 728 486 722 490 712 494 706 494 706 508 706 508 706 796 706 796 706 810 712 810 722 814 732 820 738 826 738 830 734 836 734 842 738 844 740 846 742 846 744 846 744 844 742 840 740 840 740 834 740 832 740 800 742 798 742 788 742 786 742 774 742 772 742 772 742 532 742 532 742 528 742 516 742 514 742 504 740 504 740 474 740 472 740 466 742 464 742 466 742 464 744 462 744 458Z"/>
<path fill="#72c2a5" fill-rule="evenodd" d="M740 830L736 834 734 842 738 844 740 846 744 846 744 844 742 840 740 840ZM744 458L742 458 738 462 734 462 734 466 738 478 738 480 732 486 718 494 706 494 706 510 706 510 706 794 706 794 706 808 708 810 714 810 724 812 734 818 740 824 740 798 742 796 742 790 742 788 742 514 742 514 742 506 740 506 740 472 740 470 740 466 742 464 744 462Z"/>
<path fill="#74c3a1" fill-rule="evenodd" d="M740 834L736 838 734 842 738 844 740 846 744 846 744 844 742 840 742 842 740 840ZM740 482L732 488 722 494 706 496 706 512 706 512 706 792 706 792 706 808 712 808 712 808 716 808 734 816 740 820 740 796 742 796 742 790 742 790 742 514 742 512 742 508 740 506 740 490 740 488ZM744 458L742 458 738 462 734 462 736 470 740 474 740 466 742 464 744 462Z"/>
<path fill="#76c39c" fill-rule="evenodd" d="M738 836L736 838 734 842 738 844 740 846 744 846 744 844 742 842 740 840 740 838 740 836ZM740 486L726 494 712 498 706 498 706 514 706 514 706 790 706 790 706 806 714 806 714 808 722 808 740 816 740 812 740 810 740 796 742 794 742 784 740 782 740 780 742 778 742 524 740 524 740 520 742 518 742 510 740 508ZM744 458L742 458 738 462 734 462 736 468 740 472 740 464 742 464 742 464 744 460Z"/>
<path fill="#7ac495" fill-rule="evenodd" d="M738 836L736 840 734 842 738 844 740 846 744 846 744 844 742 842 740 840 740 838ZM724 496L714 498 708 498 706 500 706 516 706 516 706 788 706 788 706 804 720 806 740 814 740 810 740 808 740 794 742 792 742 786 740 786 740 778 742 776 742 526 740 526 740 518 742 516 742 510 740 510 740 494 740 494 740 488ZM744 458L742 458 740 460 734 462 736 466 738 470 740 470 740 468 740 464 742 464 744 460Z"/>
<path fill="#80c48c" fill-rule="evenodd" d="M740 836L736 840 736 842 738 844 740 846 744 846 744 844 742 842 740 840ZM740 490L716 500 706 500 706 518 706 518 706 786 706 786 706 804 712 804 714 804 722 806 740 812 740 808 740 806 740 776 742 774 742 528 740 528 740 496 740 494ZM744 458L736 462 736 464 738 468 740 468 740 464 742 464 744 460Z"/>
<path fill="#85c682" fill-rule="evenodd" d="M740 838L736 840 736 842 742 846 744 844 740 842 740 838ZM722 500L718 500 714 502 706 502 706 520 706 520 706 784 706 784 706 802 720 804 740 810 740 806 740 806 740 774 742 774 742 764 740 762 740 760 742 758 742 544 740 544 740 540 742 540 742 530 740 528 740 498 740 496 740 492ZM742 458L740 460 736 462 736 464 740 468 740 464 742 464 744 462Z"/>
<path fill="#8bc678" fill-rule="evenodd" d="M738 838L736 840 736 842 740 846 744 846 744 844 742 842 740 840ZM740 494L732 496 720 502 706 504 706 522 706 522 706 780 706 782 706 800 718 802 738 808 740 808 740 804 740 804 740 772 742 770 742 768 740 766 740 758 742 756 742 546 740 546 740 536 742 536 742 532 740 530 740 500 740 498ZM744 460L742 460 736 462 736 466 740 468 740 464 742 464Z"/>
<path fill="#91c86f" fill-rule="evenodd" d="M740 838L736 842 740 846 744 846ZM736 496L718 504 706 504 706 524 706 524 706 778 706 780 706 800 714 800 732 806 740 806 740 804 740 802 740 756 742 754 742 548 740 548 740 500 740 500 740 496ZM744 460L738 462 736 464 740 466 740 464 744 462Z"/>
<path fill="#98c965" fill-rule="evenodd" d="M738 840L736 842 740 846 744 846 742 842 740 842 740 840ZM720 504L706 506 706 526 706 528 706 776 706 778 706 798 716 798 740 806 740 802 740 802 740 754 742 754 742 744 740 742 740 740 742 738 742 564 740 564 740 560 742 560 742 550 740 548 740 502 740 500 740 498ZM744 460L742 460 736 462 738 466 740 466 740 464 744 462Z"/>
<path fill="#a0cb5c" fill-rule="evenodd" d="M738 840L736 842 740 846 744 846 742 842 742 842 740 840ZM736 500L718 506 706 508 706 528 706 530 706 774 706 776 706 796 714 796 736 804 740 804 740 800 740 800 740 752 742 750 742 746 740 746 740 738 742 736 742 566 740 566 740 558 742 556 742 552 740 552 740 504 740 502 740 500ZM744 460L742 460 736 462 738 464 740 466 740 464 742 462Z"/>
<path fill="#a8ce52" fill-rule="evenodd" d="M740 840L738 842 740 844 740 846 742 846 744 844ZM738 500L722 506 706 510 706 530 706 532 706 772 706 772 706 794 716 796 734 802 740 802 740 800 740 798 740 736 742 734 742 568 740 568 740 504 740 504 740 500ZM744 460L736 462 738 464 740 466 740 464 742 462Z"/>
<path fill="#b0d049" fill-rule="evenodd" d="M738 840L738 842 740 844 740 846 742 846 744 844 742 842 742 842 740 840ZM718 510L706 510 706 534 706 534 706 770 706 770 706 794 714 794 740 802 740 798 740 798 740 734 742 734 742 726 740 724 740 718 742 718 742 586 740 584 742 570 740 570 740 506 740 504 740 502ZM742 460L738 462 740 466 740 464 742 462 744 460Z"/>
<path fill="#b8d240" fill-rule="evenodd" d="M740 840L738 842 740 844 740 846 742 846 744 844 742 842ZM740 502L726 508 722 510 706 512 706 536 706 538 706 766 706 768 706 792 712 792 712 792 720 794 740 800 740 798 740 796 740 716 742 716 742 588 740 586 740 506 740 506ZM744 460L742 460 738 462 738 464 740 464Z"/>
<path fill="#bfd439" fill-rule="evenodd" d="M740 840L738 842 738 842 740 846 742 846 744 844 742 842ZM736 504L726 510 718 512 706 514 706 538 706 540 706 764 706 764 706 790 722 792 726 794 740 800 740 796 740 796 740 714 742 714 742 706 740 704 740 698 742 698 742 606 740 606 742 590 740 588 740 508 740 504ZM744 460L742 460 738 462 740 464Z"/>
<path fill="#c4d635" fill-rule="evenodd" d="M740 840L738 842 740 846 742 846 742 842ZM738 506L720 514 706 516 706 542 706 542 706 760 706 762 706 788 718 790 740 798 740 796 740 794 740 696 742 696 742 684 740 684 740 680 742 678 742 626 740 624 740 620 742 618 742 608 740 608 740 508 740 506ZM744 460L742 460 738 462 740 464 742 462Z"/>
<path fill="#c9d832" fill-rule="evenodd" d="M740 842L738 842 742 846 742 842ZM738 506L722 514 718 514 714 516 706 516 706 544 706 546 706 758 706 758 706 786 720 788 740 798 740 794 740 794 740 694 742 694 742 688 740 686 740 676 742 676 742 666 740 664 740 658 742 658 742 646 740 644 742 628 740 626 740 616 742 616 742 610 740 610 740 510 740 506ZM742 460L738 462 740 464 742 462Z"/>
<path fill="#cfd92e" fill-rule="evenodd" d="M740 842L738 842 742 846 742 842ZM740 506L726 514 716 518 706 518 706 548 706 548 706 754 706 756 706 786 718 786 724 790 726 790 740 796 740 794 740 674 742 674 742 668 740 668 740 656 742 656 742 648 740 648 740 636 742 634 742 630 740 630 740 510 740 510ZM742 460L740 460 738 464 742 462Z"/>
<path fill="#d4db2a" fill-rule="evenodd" d="M740 842L738 842 742 846 742 844ZM740 508L724 516 714 520 706 520 706 550 706 552 706 752 706 752 706 784 712 784 712 784 716 784 724 786 740 796 740 792 740 510ZM742 460L738 462 740 464 742 462Z"/>
<path fill="#d9dd27" fill-rule="evenodd" d="M740 842L738 842 742 846 742 844ZM740 508L724 518 714 522 706 522 706 554 706 556 706 748 706 750 706 782 722 784 740 794 740 792 740 512 740 512ZM742 460L738 462 740 464 742 462Z"/>
<path fill="#ddde26" fill-rule="evenodd" d="M740 842L740 844 742 846 742 844ZM740 510L726 520 712 524 706 524 706 558 706 558 706 744 706 746 706 780 708 780 714 780 726 784 740 794 740 790 740 790 740 514 740 512ZM742 460L738 462 740 464 742 462Z"/>
<path fill="#e1df25" fill-rule="evenodd" d="M740 842L740 844 742 846 742 844ZM740 510L730 518 722 522 716 524 712 524 710 526 706 526 706 562 706 562 706 740 706 742 706 778 714 778 724 782 732 786 740 792 740 788 740 786 740 784 740 782 740 778 740 778 740 526 740 524ZM742 460L740 462 740 464 742 462Z"/>
<path fill="#e5e024" fill-rule="evenodd" d="M740 842L742 846 742 844ZM740 512L730 520 724 524 716 526 706 528 706 566 706 566 706 736 706 738 706 776 712 776 714 778 724 780 732 784 740 792 740 778 740 776 740 528 740 526ZM742 460L740 462 740 462 742 462Z"/>
<path fill="#e9e123" fill-rule="evenodd" d="M740 842L742 846 742 844ZM740 512L736 518 730 522 718 528 706 530 706 570 706 572 706 732 706 734 706 774 716 776 726 778 732 782 740 790 740 776 740 774 740 528 740 528ZM742 460L740 462 740 462 742 462Z"/>
<path fill="#ede321" fill-rule="evenodd" d="M740 842L742 846 742 844ZM740 514L738 518 732 524 718 530 708 530 706 532 706 574 706 576 706 728 706 728 706 772 716 774 730 778 738 786 740 790 740 774 740 774 740 530 740 528ZM742 460L740 462 740 462 742 462Z"/>
<path fill="#f2e520" fill-rule="evenodd" d="M740 842L742 844 742 844ZM740 516L738 522 734 524 718 532 706 532 706 580 706 580 706 722 706 724 706 770 716 772 732 778 738 784 740 788 740 774 740 772 740 530 740 530ZM742 460L740 462 742 462Z"/>
<path fill="#f7e71e" fill-rule="evenodd" d="M740 842L742 844 742 844 742 844 740 842ZM724 532L714 534 708 534 706 536 706 586 706 586 706 718 706 718 706 768 716 770 726 772 740 780 740 772 740 772 740 532 740 530 740 524ZM742 460L740 462 742 462Z"/>
<path fill="#fae61c" fill-rule="evenodd" d="M740 842L742 844 742 844 742 844 740 842ZM740 526L736 528 724 534 714 536 708 536 706 538 706 592 706 592 706 766 712 766 712 768 720 768 736 776 740 776 740 770 740 770 740 764 740 762 740 760 740 758 740 546 740 544 740 534 740 532ZM742 460L740 462 740 462 742 460 742 462Z"/>
<path fill="#fce31c" fill-rule="evenodd" d="M738 528L722 536 706 540 706 704 706 706 706 764 718 766 740 776 740 758 740 756 740 548 740 546 740 528ZM742 460L740 462 740 462 742 460 742 462Z"/>
<path fill="#fddc18" fill-rule="evenodd" d="M724 538L716 540 712 540 712 542 706 542 706 696 706 698 706 762 714 762 724 766 740 774 740 756 740 754 740 548 740 548 740 530Z"/>
<path fill="#fed313" fill-rule="evenodd" d="M738 530L730 538 724 540 714 542 714 544 706 544 706 686 706 688 706 760 716 760 726 764 732 768 736 772 740 772 740 754 740 754 740 550 740 548 740 530Z"/>
<path fill="#feca11" fill-rule="evenodd" d="M740 532L732 540 726 542 716 546 706 546 706 630 706 632 706 758 712 758 726 762 734 766 740 772 740 754 740 752 740 550 740 550Z"/>
<path fill="#fdc314" fill-rule="evenodd" d="M740 532L736 540 732 542 718 548 706 548 706 754 708 756 716 756 726 758 734 762 740 770 740 752 740 752 740 742 740 742 740 740 740 564 740 564 740 560 740 552 740 552Z"/>
<path fill="#fcbc16" fill-rule="evenodd" d="M734 544L720 550 706 552 706 752 718 754 734 760 738 762 740 768 740 750 740 748 740 746 740 744 740 738 740 736 740 566 740 566 740 558 740 556 740 554 740 544 738 544Z"/>
<path fill="#fcb418" fill-rule="evenodd" d="M734 546L718 552 706 554 706 750 716 750 734 758 738 758 740 756 740 736 740 736 740 568 740 568 740 546Z"/>
<path fill="#faad19" fill-rule="evenodd" d="M740 548L734 548 722 554 714 556 712 556 706 556 706 746 720 748 736 756 740 756 740 736 740 734 740 570 740 568Z"/>
<path fill="#faa61a" fill-rule="evenodd" d="M738 550L722 558 714 558 712 560 706 560 706 744 708 744 720 746 740 754 740 734 740 732 740 722 740 722 740 720 740 584 740 582 740 580 740 570 740 570 740 550Z"/>
<path fill="#f89f1b" fill-rule="evenodd" d="M738 550L732 556 724 560 718 562 714 562 712 562 706 562 706 740 708 742 716 742 726 744 740 752 740 732 740 730 740 726 740 724 740 718 740 716 740 586 740 586 740 580 740 578 740 572 740 572 740 550Z"/>
<path fill="#f8981c" fill-rule="evenodd" d="M740 552L732 560 728 562 714 566 706 566 706 738 716 738 726 742 732 744 740 752 740 716 740 716 740 588 740 586Z"/>
<path fill="#f7911e" fill-rule="evenodd" d="M740 554L738 560 734 562 730 564 724 566 706 570 706 734 718 736 730 740 738 744 738 746 740 750 740 716 740 714 740 604 740 602 740 600 740 590 740 588 740 564 738 562 740 560Z"/>
<path fill="#f68b1f" fill-rule="evenodd" d="M734 566L722 570 718 570 714 572 706 572 706 730 724 734 732 738 738 738 740 736 740 714 740 712 740 706 740 704 740 698 740 698 740 606 740 606 740 590 740 590 740 566Z"/>
<path fill="#f58520" fill-rule="evenodd" d="M738 568L720 574 712 576 712 576 706 576 706 728 714 728 716 728 722 730 736 736 740 736 740 696 740 696 740 624 740 622 740 620 740 596 740 594 740 594 740 568Z"/>
<path fill="#f47f22" fill-rule="evenodd" d="M738 570L726 576 716 580 706 580 706 724 714 724 716 724 722 726 732 730 738 734 740 734 740 696 740 694 740 686 740 684 740 678 740 678 740 662 740 662 740 660 740 642 740 642 740 640 740 626 740 626 740 618 740 618 740 610 740 608 740 570Z"/>
<path fill="#f37923" fill-rule="evenodd" d="M740 570L732 578 728 580 714 584 706 584 706 718 716 720 728 724 740 732 740 694 740 692 740 688 740 686 740 676 740 676 740 666 740 664 740 658 740 658 740 646 740 644 740 638 740 638 740 628 740 626 740 616 740 616 740 612 740 610Z"/>
<path fill="#f37324" fill-rule="evenodd" d="M738 724L740 730 740 724ZM734 582L720 588 706 590 706 714 718 716 736 722 740 718 740 676 740 674 740 668 740 666 740 656 740 656 740 638 740 636 740 630 740 628 740 586 736 582ZM740 572L738 576 740 580Z"/>
<path fill="#f26e25" fill-rule="evenodd" d="M734 586L720 592 712 594 712 594 706 594 706 710 718 710 734 716 740 716 740 654 740 654 740 650 740 648 740 588 738 586Z"/>
<path fill="#f16826" fill-rule="evenodd" d="M738 588L724 596 714 600 706 600 706 704 716 704 728 708 734 714 740 714 740 588Z"/>
<path fill="#f06226" fill-rule="evenodd" d="M740 590L736 594 734 598 730 600 716 606 706 606 706 698 712 698 726 702 732 706 740 714 740 604 738 602 740 600Z"/>
<path fill="#ef5d27" fill-rule="evenodd" d="M740 706L738 706 740 712ZM732 606L720 612 706 614 706 690 714 690 728 696 736 698 740 698 740 606 738 606ZM740 592L738 594 740 598Z"/>
<path fill="#ef5727" fill-rule="evenodd" d="M736 608L726 618 712 624 706 624 706 680 710 680 718 682 726 688 734 694 740 696 740 608Z"/>
<path fill="#ee5127" fill-rule="evenodd" d="M738 684L736 686 736 688 738 692 740 694 740 686ZM732 624L714 636 706 640 706 666 712 666 730 680 734 680 740 678 740 626ZM740 610L736 614 736 616 738 618 740 618Z"/>
<path fill="#ee4a26" fill-rule="evenodd" d="M740 628L736 628 734 632 732 634 734 640 728 648 728 654 732 662 732 670 734 672 738 676 740 676 740 666 736 664 734 662 740 658 740 646 738 644 734 640 738 638 740 638Z"/>
<path fill="#ed4426" fill-rule="evenodd" d="M740 668L738 670 740 674ZM740 648L738 648 736 652 738 656 740 656ZM740 630L738 630 740 636Z"/>
<path d="M257.9 336.9L263.0 386.2 269.7 433.7 279.8 488.3 302.5 592.3 306.5 620.5 307.8 647.5 306.4 674.4 302.2 702.6 278.8 808.0 268.4 864.1 261.2 914.6 255.6 969.8M631.5 952.7L626.7 926.2 621.4 902.8 615.1 881.2 607.9 861.4 599.3 842.3 589.9 825.2 579.1 809.0 567.8 795.0 554.3 781.0 539.4 768.3 523.4 757.2 506.3 747.9 489.7 741.0 472.4 736.1 454.6 733.4 438.1 733.1 427.8 734.7 416.5 738.7 404.8 745.4 394.0 753.5 382.0 764.8 371.1 777.2 360.2 791.5 350.3 806.6 331.9 840.9 316.1 879.8 303.0 922.9 292.7 969.8M614.3 818.7L607.0 794.2 597.8 768.9 567.5 701.9 560.4 683.8 555.0 663.5 553.8 644.0 556.0 627.7 561.6 609.0 596.0 532.4 604.6 510.0 611.6 488.6 618.1 464.0 623.3 439.0 631.4 381.1M291.0 336.7L299.7 379.4 310.8 419.9 324.0 456.6 338.9 489.3 356.7 520.6 376.8 548.6 398.2 571.6 408.7 580.2 417.5 585.9 425.7 589.6 432.9 591.6 441.8 592.2 452.3 591.6 474.3 586.8 497.8 576.9 522.1 562.1 544.3 544.3 565.2 522.8 582.4 500.1M604.4 939.8L590.0 924.6 574.9 912.2 558.5 901.7 539.4 892.9 520.8 887.1 500.2 883.4 479.2 882.3 458.3 883.7 442.0 886.6 433.5 889.3 420.5 896.8 407.6 907.1 395.3 920.1 384.4 934.5 374.3 951.2 365.0 970.0M361.6 336.1L372.4 359.2 384.9 379.7 398.9 397.3 413.1 410.6 425.4 419.2 437.5 425.0 458.2 428.7 479.1 429.9 501.6 428.4 523.6 423.9 544.7 416.2 564.6 405.6 581.5 393.2 597.7 377.6 611.7 360.0 627.2 336.2M422.4 335.8L436.0 349.7 448.0 355.8 473.6 364.4 498.7 368.7 522.7 369.2 545.0 366.4 566.7 360.5 587.3 351.5M580.2 858.5L564.3 842.5 546.6 828.8 528.4 818.3 507.6 809.7 485.8 804.1 463.5 801.5 438.0 802.1 423.5 805.9 408.8 813.2 393.0 824.7 378.2 839.5 364.3 857.2 351.6 877.6 340.2 900.3 329.9 925.3 320.6 953.8M318.3 351.0L328.1 382.5 339.1 410.4 351.8 435.9 366.3 458.7 381.3 477.3 397.7 492.7 415.3 504.1 432.2 510.4 441.1 511.7 456.0 512.2 481.4 509.8 506.1 503.6 529.5 493.5 551.1 480.0 570.4 463.3 587.0 444.0 601.7 421.4M373.1 581.1L389.9 609.5 398.1 627.1 402.0 643.1 401.0 658.0 397.5 669.5 391.1 683.1 349.8 752.7 326.9 798.3M233.5 336.5L237.7 443.0 247.1 594.2 248.5 646.6 247.1 700.6 237.8 845.8 233.5 944.7M302.6 478.8L314.8 515.8 343.9 594.6 349.6 614.8 352.8 634.0 353.2 656.5 349.8 678.7 342.7 703.2 329.1 739.7M607.9 970.2L586.4 959.4 565.3 951.8 543.3 947.1 520.8 945.5 498.4 947.0 474.9 951.9 451.0 960.5 438.9 966.5 434.2 970.2M562.0 747.3L542.7 724.3 499.1 676.8 490.5 664.6 486.1 653.5 485.5 647.5 486.3 641.6 488.8 634.5 492.5 628.0 504.6 612.7 529.3 586.5M626.6 776.9L617.4 691.9 615.3 648.4 617.4 605.0 626.5 521.5" fill="none" stroke="#cfc8e0" stroke-width="1.3" stroke-dasharray="2.2 1.4" opacity="0.8"/><path d="M341.7 982.3L330.9 1024.4 323.2 1068.8M800.4 33.1L776.7 46.1 755.8 60.6 737.8 76.5 721.9 94.4 708.4 114.3 698.4 134.4 691.4 155.7 687.5 177.9 687.2 198.9 690.0 219.6 695.7 238.3 704.8 257.2 715.8 273.3 729.8 288.9 743.1 301.0 772.7 324.0M268.5 33.5L265.0 61.8 262.6 93.2 260.5 168.1 262.4 247.6 268.1 323.9M548.9 33.5L532.7 56.9 519.6 83.8 511.1 111.0 506.4 140.6 506.0 170.6 510.1 200.3 518.5 227.5 524.1 239.8 530.7 251.5 542.4 267.1 556.3 280.7 571.2 290.8 587.6 298.3 606.4 303.1 648.1 307.9 730.8 323.0M1212.5 524.0L1207.2 431.1 1199.1 355.1 1193.9 322.5 1187.8 291.6 1180.5 262.5 1172.6 236.7 1163.0 211.4 1152.8 189.7 1141.7 170.1 1129.0 151.6 1115.4 135.6 1100.2 121.1 1083.5 108.4 1066.7 98.4 1040.6 87.1 1013.2 79.5 983.5 75.5 952.0 75.2 920.7 78.9 891.6 86.0 863.6 96.6 837.2 110.9 814.4 127.9 795.3 147.0 779.6 168.9 768.3 191.8 761.3 216.2 759.0 240.1 759.5 252.1 761.5 265.4 768.6 289.9M421.9 32.9L414.4 47.6 407.6 64.2 402.2 81.4 398.0 98.9 394.7 118.1 392.6 137.5 391.7 158.5 392.1 179.5 396.3 219.7 400.4 240.3 405.5 259.1 411.8 277.6 418.9 294.1 427.1 310.1 435.9 324.1M759.6 981.7L729.5 990.8 705.5 999.5 682.1 1009.7 659.5 1021.4 642.9 1031.7 628.7 1042.7 615.9 1055.4 605.9 1068.4M519.1 982.1L509.1 988.6 498.5 997.1 489.0 1006.6 480.3 1016.9 464.9 1040.8 452.7 1068.2M1166.5 1068.3L1176.4 1038.4 1185.2 1005.1 1192.7 968.3 1198.8 928.3 1203.7 885.1 1207.7 835.8 1212.5 720.4M353.0 32.6L343.7 61.1 336.8 94.9 332.7 132.2 331.6 171.2 333.4 211.6 338.0 250.3 345.5 288.6 355.4 323.2M656.0 995.5L597.8 1001.3 581.8 1005.4 568.0 1011.2 551.5 1021.5 537.0 1034.5 523.8 1050.8 513.1 1068.8M1212.4 205.3L1205.0 145.8 1196.2 100.1 1185.2 62.7 1178.9 47.4 1171.5 32.7M647.8 32.9L633.2 48.0 621.2 63.4 610.9 79.9 602.4 97.4 595.9 115.8 591.5 134.8 589.2 154.2 589.2 172.1 591.3 190.0 595.5 207.5 602.0 224.3 609.9 238.7 619.7 252.0 631.2 263.8 645.3 275.0 661.8 285.4M475.6 32.8L465.6 49.5 457.2 67.1 450.2 86.9 445.0 107.2 441.5 127.9 439.7 150.4 439.8 172.9 441.7 193.8 445.2 214.5 450.4 234.8 457.5 254.5 466.0 272.1 475.3 287.5 486.4 301.7 499.1 314.4 512.2 324.4M769.4 1004.6L761.4 1020.8 755.5 1036.2 751.4 1052.1 749.3 1068.5M245.4 982.5L241.9 1069.5M399.1 982.0L390.2 1001.0 382.1 1022.0 375.1 1044.9 369.5 1068.3M1212.0 697.0L1212.2 625.0 1210.6 548.5M716.0 33.2L701.9 44.4 688.8 56.8 677.0 70.3 666.4 84.9 657.4 100.4 650.6 115.5 645.2 131.1 641.5 147.1 639.5 163.5 639.3 180.0 641.0 196.4 644.3 211.0 649.8 226.6 656.5 240.0 664.7 252.5 675.2 265.2M1027.8 131.2L1009.0 126.3 988.2 123.3 967.2 122.4 946.3 123.6 925.5 126.9 905.2 132.2 885.6 139.6 868.2 148.4 851.7 158.8 836.5 171.0 822.8 184.9 810.9 200.3 801.8 215.8 794.6 232.3 789.7 249.6 787.2 267.4M716.9 1021.5L706.4 1032.3 696.9 1043.9 688.6 1056.3 682.2 1068.2M1186.8 195.1L1177.4 163.5 1166.4 135.6 1154.3 111.5 1140.3 90.2 1124.6 72.0 1106.6 56.2 1086.5 43.1 1064.9 32.8" fill="none" stroke="#a8a2bc" stroke-width="1.3" stroke-dasharray="2.2 1.4" opacity="0.7"/>
<path d="M668.5 405.0 L696.0 390.0M675.0 475.5 L685.6 477.7 L679.0 488.0 L683.5 501.0 L687.8 522.6 L690.0 557.0 L692.0 599.7 L694.0 629.6 L687.8 631.8 L685.6 616.8M636.4 518.0 L642.8 557.0 L647.0 642.5 L647.0 685.0 L640.7 728.0 L636.4 762.0M655.6 783.7 L647.0 813.7 L666.3 826.6 L664.0 856.5 L655.6 899.3 L645.0 933.6 L647.0 955.0 L685.6 968.0 L707.0 972.0" fill="none" stroke="#d4d2ec" stroke-width="1.3" stroke-linejoin="round" opacity="0.8"/>
<linearGradient id="coreA" x1="0" y1="0" x2="0" y2="1"><stop offset="0" stop-color="#000" stop-opacity="0"/><stop offset="0.09" stop-color="#000" stop-opacity="0.05"/><stop offset="0.2" stop-color="#000" stop-opacity="0.3"/><stop offset="0.35" stop-color="#000" stop-opacity="0.42"/><stop offset="0.7" stop-color="#000" stop-opacity="0.38"/><stop offset="0.85" stop-color="#000" stop-opacity="0.22"/><stop offset="0.93" stop-color="#000" stop-opacity="0.05"/><stop offset="1" stop-color="#000" stop-opacity="0"/></linearGradient>
<rect x="704.6" y="459.4" width="37.4" height="386.0" fill="url(#coreA)" stroke="none" stroke-width="0.0"/>
<path d="M742.5 702.8L741.2 692.5 740.2 651.5 741.2 610.5 742.5 601.5 743.5 601.4 750.5 605.7 754.6 612.5 758.7 631.5 760.0 651.5 758.7 671.5 755.1 689.5 750.5 698.0 746.5 701.7Z" fill="none" stroke="#111" stroke-width="1.6"/>
<path d="M742.5 733.2L741.5 730.1 739.7 709.5 737.8 651.5 739.7 593.5 741.5 573.3 742.5 570.3 748.5 571.5 753.1 575.5 764.2 597.5 768.8 610.5 772.3 624.5 774.3 637.5 775.0 651.5 774.3 665.5 772.4 678.5 769.2 691.5 764.4 705.5 753.5 727.5 748.5 732.0Z" fill="none" stroke="#111" stroke-width="1.6"/>
<path d="M742.5 753.3L741.2 749.5 737.3 713.5 735.3 652.5 737.4 589.5 741.1 554.5 742.5 550.2 750.5 551.8 755.5 555.9 767.9 573.5 777.9 591.5 784.1 606.5 788.5 621.5 791.0 636.5 791.9 652.5 790.9 668.5 788.1 683.5 784.0 697.5 777.7 712.5 768.3 729.5 755.6 747.5 750.5 751.6Z" fill="none" stroke="#111" stroke-width="1.6"/>
<path d="M742.5 768.2L741.3 765.5 736.0 728.5 733.7 691.5 733.0 652.5 733.7 612.5 736.0 575.5 741.5 537.5 742.5 535.3 748.5 536.2 752.5 538.1 764.5 549.5 778.9 566.5 790.6 584.5 798.4 600.5 804.1 617.5 807.5 634.5 808.6 652.5 807.4 669.5 804.0 686.5 798.2 703.5 790.3 719.5 778.5 737.5 764.0 754.5 752.5 765.4 748.5 767.3Z" fill="none" stroke="#111" stroke-width="1.6"/>
<path d="M743.5 778.1L741.5 776.8 739.1 767.5 734.1 733.5 731.6 694.5 730.8 652.5 731.6 609.5 734.1 570.5 739.2 535.5 741.5 526.8 743.5 525.5 748.5 526.0 754.5 528.1 769.2 539.5 787.6 557.5 802.9 577.5 812.4 594.5 819.7 613.5 824.0 632.5 825.4 652.5 823.9 671.5 819.6 690.5 812.6 708.5 802.6 726.5 788.9 744.5 770.9 762.5 755.5 774.7 749.5 777.3Z" fill="none" stroke="#111" stroke-width="1.6"/>
<path d="M743.5 789.5L741.5 788.5 737.2 773.5 732.4 744.5 729.4 703.5 728.3 652.5 729.3 600.5 732.4 559.5 737.1 530.5 741.5 515.0 743.5 513.9 750.5 514.7 755.5 516.5 783.4 534.5 803.4 551.5 819.1 569.5 831.7 589.5 840.2 609.5 845.4 630.5 847.1 652.5 845.1 674.5 839.7 695.5 830.9 715.5 818.8 734.5 802.9 752.5 782.7 769.5 755.5 786.9 750.5 788.7Z" fill="none" stroke="#111" stroke-width="1.6"/>
<path d="M743.5 795.7L741.3 794.5 736.8 782.5 733.4 767.5 730.7 749.5 727.5 707.5 726.3 652.5 727.5 596.5 730.8 553.5 733.7 534.5 737.0 520.5 741.5 508.5 743.5 507.7 752.5 508.4 759.0 510.5 776.2 518.5 790.4 526.5 812.7 542.5 831.8 561.5 846.0 581.5 857.0 604.5 863.5 628.5 865.5 652.5 863.3 676.5 856.9 699.5 846.4 721.5 831.4 742.5 812.1 761.5 789.7 777.5 775.2 785.5 759.5 792.7 751.5 795.1Z" fill="none" stroke="#111" stroke-width="1.6"/>
<path d="M743.5 803.0L741.5 802.2 735.4 788.5 731.8 774.5 729.0 757.5 725.3 712.5 724.1 652.5 725.3 592.5 728.8 547.5 731.5 530.5 735.2 515.5 741.4 501.5 743.5 500.6 755.5 501.6 767.5 504.4 783.5 509.8 799.5 516.9 813.5 524.5 826.5 533.1 838.3 542.5 848.8 552.5 858.3 563.5 866.1 574.5 873.0 586.5 879.0 599.5 883.4 612.5 886.5 625.5 888.4 639.5 889.0 652.5 888.2 666.5 886.0 680.5 882.7 693.5 878.0 706.5 872.3 718.5 865.2 730.5 857.1 741.5 847.4 752.5 836.7 762.5 825.1 771.5 812.5 779.7 798.5 787.2 783.5 793.7 767.5 799.2 755.5 801.9Z" fill="none" stroke="#111" stroke-width="1.6"/>
<path d="M743.5 811.5L741.5 810.8 733.3 793.5 729.7 780.5 726.9 764.5 723.0 718.5 721.6 652.5 723.0 586.5 726.8 539.5 729.6 523.5 733.1 510.5 741.5 492.8 743.5 492.2 759.5 493.0 776.5 495.6 794.5 500.0 812.5 506.0 827.5 512.5 842.5 520.7 856.5 530.2 868.5 540.3 879.5 551.5 889.1 563.5 897.5 576.6 905.0 591.5 910.5 606.5 914.4 621.5 916.7 636.5 917.4 652.5 916.5 668.5 914.1 683.5 910.1 698.5 904.4 713.5 897.2 727.5 888.8 740.5 879.1 752.5 868.3 763.5 856.3 773.5 842.5 782.9 827.5 791.1 812.5 797.6 795.5 803.3 777.5 807.8 760.5 810.5Z" fill="none" stroke="#111" stroke-width="1.6"/>
<path d="M813.5 814.9L780.5 819.7 742.5 820.8 738.5 815.1 732.8 803.5 726.7 783.5 722.2 750.5 719.8 702.5 719.2 634.5 720.9 573.5 723.5 540.5 727.5 516.5 733.5 498.5 739.2 487.5 742.5 483.0 782.5 484.2 800.5 486.4 817.5 489.7 833.5 494.1 849.5 499.9 863.6 506.5 877.5 514.6 890.5 524.0 902.4 534.5 912.6 545.5 922.5 558.5 931.1 572.5 937.8 586.5 943.3 601.5 947.2 616.5 949.9 633.5 950.9 649.5 950.3 666.5 947.9 683.5 944.1 699.5 938.5 715.5 931.4 730.5 923.0 744.5 913.2 757.5 902.0 769.5 889.5 780.5 876.8 789.5 863.0 797.5 847.5 804.6 831.5 810.2Z" fill="none" stroke="#111" stroke-width="1.6"/>
<path d="M880.5 817.9L852.7 826.5 822.5 831.2 789.5 832.2 742.5 829.8 736.0 820.5 730.1 808.5 725.8 795.5 722.6 780.5 718.6 738.5 716.7 663.5 717.9 581.5 720.4 540.5 724.6 512.5 731.7 491.5 737.1 481.5 742.5 474.3 791.5 471.5 825.5 472.8 842.5 475.1 858.2 478.5 873.5 483.1 887.5 488.8 901.5 495.9 915.1 504.5 927.8 514.5 939.3 525.5 949.7 537.5 958.9 550.5 967.0 564.5 973.9 579.5 979.8 596.5 984.0 613.5 986.7 631.5 987.7 650.5 987.0 668.5 984.5 687.5 980.3 705.5 974.5 722.5 967.3 738.5 958.7 753.5 948.6 767.5 937.1 780.5 924.5 792.0 910.5 802.3 895.5 811.1Z" fill="none" stroke="#111" stroke-width="1.6"/>
<path d="M932.5 832.9L909.5 842.8 885.5 849.1 859.5 852.2 832.5 852.0 798.5 848.2 750.5 839.2 742.5 838.4 735.3 829.5 729.9 820.5 724.6 807.5 720.8 792.5 718.2 774.5 716.3 751.5 714.2 668.5 715.4 573.5 717.9 531.5 722.5 503.5 725.9 492.5 729.9 483.5 734.8 475.5 742.5 465.9 799.5 455.4 837.5 451.4 854.5 451.3 871.5 452.5 887.5 455.0 903.5 459.0 919.5 464.7 935.5 472.4 949.5 481.0 963.2 491.5 976.0 503.5 987.3 516.5 997.5 530.9 1006.5 546.5 1015.2 565.5 1021.7 584.5 1026.8 605.5 1029.9 626.5 1031.2 648.5 1030.5 670.5 1028.0 691.5 1023.6 712.5 1017.7 731.5 1009.9 750.5 1000.2 768.5 989.4 784.5 976.7 799.5 963.5 812.0 948.5 823.4Z" fill="none" stroke="#111" stroke-width="1.6"/>
<path d="M903.5 891.0L886.5 890.7 870.5 888.9 852.5 885.4 835.5 880.7 758.5 853.4 743.5 845.5 735.4 838.5 729.0 831.5 724.2 823.5 720.5 813.5 717.5 800.8 713.8 767.5 711.9 711.5 711.6 610.5 713.7 537.5 715.5 516.3 718.2 499.5 721.7 486.5 726.5 476.5 732.8 468.5 743.5 459.1 753.5 452.9 765.5 447.7 823.5 427.0 845.5 420.1 871.5 414.7 895.5 412.7 914.5 413.4 933.5 416.3 951.5 421.2 969.5 428.4 986.1 437.5 1001.6 448.5 1016.3 461.5 1029.8 476.5 1042.2 493.5 1052.8 511.5 1062.2 531.5 1069.9 552.5 1076.0 574.5 1080.6 597.5 1083.5 621.5 1084.8 646.5 1084.3 671.5 1082.1 695.5 1078.2 719.5 1072.6 742.5 1065.3 764.5 1056.7 784.5 1046.5 803.5 1035.1 820.5 1022.5 835.8 1008.5 849.6 993.3 861.5 976.5 871.8 959.5 879.7 941.5 885.6 922.5 889.4Z" fill="none" stroke="#111" stroke-width="1.6"/>
<path d="M945.5 959.9L925.5 958.9 906.5 955.5 888.5 950.1 869.5 941.9 853.5 933.0 838.5 923.1 786.8 882.5 776.5 876.7 751.5 865.5 745.5 861.6 740.5 856.9 737.1 851.5 735.4 844.5 726.8 839.5 720.5 832.4 716.9 824.5 714.2 813.5 711.8 795.5 710.2 770.5 708.7 684.5 709.0 583.5 710.7 523.5 714.3 489.5 717.0 479.5 720.9 471.5 726.4 465.5 734.9 460.5 735.6 455.5 737.5 451.1 745.5 442.2 753.5 437.2 776.5 427.0 787.7 420.5 833.5 384.3 858.5 367.8 879.5 357.3 899.5 350.3 920.5 345.7 942.5 344.1 963.5 345.4 984.5 349.6 1004.5 356.5 1023.5 366.0 1041.5 378.1 1058.5 392.9 1073.5 409.4 1087.4 428.5 1099.6 449.5 1110.3 472.5 1119.6 497.5 1127.2 524.5 1133.4 553.5 1137.9 584.5 1140.7 616.5 1141.7 649.5 1141.0 682.5 1138.4 714.5 1134.2 745.5 1128.4 774.5 1120.8 802.5 1111.9 827.5 1101.5 850.7 1089.3 872.5 1075.5 892.1 1060.1 909.5 1043.5 924.4 1025.5 936.9 1006.5 946.7 986.5 953.9 966.5 958.3Z" fill="none" stroke="#111" stroke-width="1.6"/>
<path d="M802.3 1070.5L796.3 1051.5 793.0 1031.5 792.3 1013.5 793.4 978.5 792.1 962.5 785.2 930.5 775.8 896.5 773.7 892.5 770.5 890.1 738.5 883.5 730.5 880.2 724.1 875.5 720.1 870.5 717.3 864.5 715.1 855.5 714.2 844.5 710.6 839.5 708.5 831.5 707.0 814.5 706.1 783.5 705.5 646.5 706.1 517.5 707.0 488.5 708.5 472.5 710.5 465.4 713.9 460.5 714.7 449.5 717.0 439.5 720.4 432.5 724.5 427.6 730.5 423.3 738.5 420.1 770.5 413.4 773.5 411.2 775.6 407.5 785.1 373.5 792.0 340.5 793.2 324.5 792.3 284.5 795.6 258.5 799.9 243.5 805.5 229.9 812.7 216.5 821.7 203.5 834.5 188.8 849.5 175.3 866.5 163.4 885.5 153.2 905.5 145.2 925.5 139.7 947.5 136.0 969.5 134.8 990.5 135.9 1010.5 139.1 1029.5 144.3 1048.5 151.7 1066.5 161.1 1082.5 171.8 1098.5 185.2 1112.5 199.6 1125.5 215.8 1137.5 233.8 1148.5 253.7 1158.5 275.6 1167.5 299.5 1175.2 324.5 1182.1 351.5 1188.2 381.5 1194.6 422.5 1199.6 467.5 1203.3 517.5 1205.8 571.5 1207.0 632.5 1206.7 694.5 1205.0 753.5 1201.9 807.5 1198.1 851.5 1193.2 891.5 1187.3 927.5 1180.1 961.5 1171.5 992.9 1161.7 1021.5 1150.6 1047.5 1138.5 1070.5" fill="none" stroke="#111" stroke-width="1.6"/>
<path d="M742.5 719.2L742.4 651.5 742.5 584.3 750.5 586.9 753.5 590.0 756.0 594.5 761.8 611.5 765.0 625.5 767.5 651.5 765.1 677.5 761.9 691.5 756.6 707.5 754.1 712.5 750.6 716.5Z" fill="none" stroke="#262a70" stroke-width="1.4" stroke-dasharray="170 110 90 130" opacity="0.85"/>
<path d="M742.5 760.5L742.3 652.5 742.5 543.1 751.5 545.4 759.1 551.5 773.9 570.5 784.1 587.5 791.0 602.5 796.4 619.5 799.5 636.5 800.3 652.5 799.3 668.5 796.0 685.5 790.8 701.5 783.9 716.5 773.5 733.5 759.5 751.5 750.5 758.8Z" fill="none" stroke="#262a70" stroke-width="1.4" stroke-dasharray="170 110 90 130" opacity="0.85"/>
<path d="M742.5 784.7L742.2 651.5 742.5 519.0 748.5 519.4 753.5 521.2 777.0 537.5 795.6 554.5 811.2 573.5 821.9 591.5 830.1 611.5 834.8 631.5 836.4 652.5 834.8 672.5 830.0 692.5 821.7 712.5 810.9 730.5 796.1 748.5 777.6 765.5 753.5 782.3 748.5 784.1Z" fill="none" stroke="#262a70" stroke-width="1.4" stroke-dasharray="170 110 90 130" opacity="0.85"/>
<path d="M742.5 799.2L742.0 652.5 742.5 504.3 753.5 505.2 763.5 507.9 778.5 513.8 794.0 521.5 807.3 529.5 819.5 538.3 830.3 547.5 840.0 557.5 855.7 578.5 861.9 589.5 867.6 602.5 874.3 626.5 876.1 639.5 876.7 652.5 876.0 665.5 874.0 678.5 867.0 702.5 855.5 725.5 839.5 746.7 819.3 765.5 806.7 774.5 793.5 782.3 778.9 789.5 763.7 795.5 753.5 798.3Z" fill="none" stroke="#262a70" stroke-width="1.4" stroke-dasharray="170 110 90 130" opacity="0.85"/>
<path d="M742.5 816.7L742.5 487.0 762.5 487.6 782.5 489.7 801.5 493.3 819.5 498.2 836.5 504.5 851.5 511.7 866.1 520.5 879.5 530.5 891.5 541.7 902.7 554.5 912.4 568.5 920.1 582.5 926.4 597.5 931.2 613.5 934.4 630.5 935.8 647.5 935.3 664.5 933.1 681.5 929.2 697.5 923.5 713.5 916.3 728.5 906.9 743.5 896.6 756.5 884.8 768.5 871.5 779.4 857.6 788.5 842.4 796.5 826.5 803.0 808.5 808.6 789.5 812.8 770.5 815.4Z" fill="none" stroke="#262a70" stroke-width="1.4" stroke-dasharray="170 110 90 130" opacity="0.85"/>
<path d="M851.5 814.7L828.5 820.7 803.5 824.3 778.5 825.7 742.5 825.3 741.8 651.5 742.5 478.7 787.5 478.3 821.5 481.7 837.5 485.0 853.1 489.5 867.5 495.0 881.5 501.7 895.5 510.2 908.0 519.5 919.5 530.0 929.9 541.5 939.5 554.4 947.4 567.5 954.2 581.5 959.8 596.5 964.2 612.5 967.1 629.5 968.4 647.5 968.0 664.5 966.1 681.5 962.4 698.5 956.9 715.5 950.4 730.5 942.6 744.5 932.9 758.5 921.6 771.5 909.9 782.5 896.9 792.5 882.5 801.4 867.5 808.7Z" fill="none" stroke="#262a70" stroke-width="1.4" stroke-dasharray="170 110 90 130" opacity="0.85"/>
<path d="M908.5 824.4L892.5 830.9 876.5 835.7 859.5 839.0 840.5 841.1 821.5 841.6 801.5 840.8 742.5 834.5 741.8 652.5 742.5 469.7 796.5 463.4 832.5 462.3 849.5 463.4 865.5 465.7 881.5 469.3 896.5 474.2 911.5 480.7 925.6 488.5 938.7 497.5 951.7 508.5 963.3 520.5 973.6 533.5 982.7 547.5 990.6 562.5 998.0 580.5 1003.4 598.5 1007.4 617.5 1009.6 637.5 1010.0 657.5 1008.7 676.5 1005.5 696.5 1000.5 715.5 994.0 733.5 985.9 750.5 976.2 766.5 965.5 780.6 953.5 793.5 939.5 805.6 924.5 815.9Z" fill="none" stroke="#262a70" stroke-width="1.4" stroke-dasharray="170 110 90 130" opacity="0.85"/>
<path d="M922.8 829.5L905.5 836.9 887.5 842.4 868.5 846.0 848.5 847.7 828.5 847.7 806.5 846.1 742.5 836.9 741.8 652.5 742.5 467.3 798.5 458.5 835.5 455.8 852.5 456.2 869.5 457.8 885.5 460.8 901.5 465.4 917.1 471.5 931.5 478.8 945.5 487.8 958.9 498.5 971.2 510.5 982.0 523.5 991.7 537.5 1000.6 553.5 1008.4 571.5 1014.6 590.5 1019.2 610.5 1022.0 631.5 1022.9 652.5 1021.9 673.5 1019.0 694.5 1014.3 714.5 1007.9 733.5 999.9 751.5 990.2 768.5 979.5 783.5 967.0 797.5 953.5 809.8 938.7 820.5Z" fill="none" stroke="#262a70" stroke-width="1.4" stroke-dasharray="170 110 90 130" opacity="0.85"/>
<path d="M882.5 868.7L855.5 868.1 827.5 864.1 775.5 851.7 742.5 842.3 741.7 633.5 742.5 462.3 775.5 452.2 816.5 441.9 842.5 437.1 865.5 435.0 884.5 435.1 903.5 437.2 921.5 441.2 938.5 447.0 954.7 454.5 970.5 464.1 985.3 475.5 998.8 488.5 1011.4 503.5 1022.3 519.5 1031.6 536.5 1039.9 555.5 1046.5 575.5 1051.6 596.5 1055.1 618.5 1056.8 640.5 1056.8 663.5 1055.1 685.5 1051.6 707.5 1046.5 728.5 1039.8 748.5 1031.5 767.5 1021.5 785.5 1010.5 801.4 998.5 815.5 984.5 828.9 969.5 840.3 953.5 849.9 937.5 857.2 919.5 863.1 901.5 866.8Z" fill="none" stroke="#262a70" stroke-width="1.4" stroke-dasharray="170 110 90 130" opacity="0.85"/>
<path d="M905.5 895.7L877.5 893.9 849.5 887.9 825.5 880.0 755.5 853.3 742.5 845.2 742.0 820.5 741.7 535.5 742.5 459.4 749.5 454.0 760.5 448.4 838.5 419.1 870.5 411.0 886.5 408.8 901.5 408.1 921.5 409.1 940.5 412.3 959.5 418.0 976.5 425.3 993.5 435.2 1008.7 446.5 1023.5 460.3 1036.5 475.4 1048.5 492.5 1058.7 510.5 1067.7 530.5 1075.5 552.5 1081.6 575.5 1086.1 599.5 1088.8 624.5 1089.8 649.5 1089.2 674.5 1086.7 699.5 1082.6 723.5 1076.9 746.5 1069.6 768.5 1060.5 789.5 1050.2 808.5 1038.7 825.5 1025.5 841.4 1011.5 854.9 996.5 866.6 979.5 876.9 961.5 885.1 943.5 890.7 925.5 894.2Z" fill="none" stroke="#262a70" stroke-width="1.4" stroke-dasharray="170 110 90 130" opacity="0.85"/>
<path d="M923.5 922.5L906.5 921.6 889.5 919.0 872.5 914.6 854.5 908.2 832.5 898.0 789.1 874.5 754.5 859.4 745.5 853.4 740.8 847.5 740.3 845.5 742.3 844.5 741.6 632.5 742.3 459.5 740.0 458.5 744.5 451.5 753.5 445.1 790.5 428.5 830.5 406.7 852.5 396.3 870.5 389.7 888.5 385.0 906.5 382.2 923.5 381.3 943.5 382.6 963.5 386.4 982.5 392.6 1000.5 401.1 1017.5 411.7 1033.5 424.7 1048.5 439.9 1062.3 457.5 1074.3 476.5 1085.0 497.5 1094.2 520.5 1101.5 544.2 1107.4 569.5 1111.7 596.5 1114.2 623.5 1115.1 652.5 1114.2 680.5 1111.5 708.5 1107.1 735.5 1101.0 761.5 1093.4 785.5 1084.4 807.5 1073.7 828.5 1061.5 847.5 1048.0 864.5 1033.5 879.2 1017.5 892.1 1000.5 902.8 982.5 911.3 963.5 917.5 943.5 921.3Z" fill="none" stroke="#262a70" stroke-width="1.4" stroke-dasharray="170 110 90 130" opacity="0.85"/>
<path d="M959.5 1000.8L935.5 999.2 911.5 993.7 889.5 985.0 867.5 972.3 851.5 960.1 835.5 945.2 820.5 929.2 793.3 897.5 783.5 887.8 772.5 880.7 748.5 870.7 739.5 864.5 732.7 855.5 730.4 845.5 742.0 844.5 742.0 459.5 729.7 458.5 731.9 449.5 737.2 441.5 744.5 435.3 753.5 430.6 773.5 422.4 783.9 415.5 793.9 405.5 820.5 374.5 836.5 357.5 852.5 342.9 869.5 330.3 889.5 319.0 911.5 310.4 933.5 305.4 956.5 303.6 978.5 305.0 1000.5 309.6 1021.5 317.3 1041.5 327.8 1060.5 341.4 1077.8 357.5 1093.5 376.0 1108.0 397.5 1120.5 420.9 1131.5 447.0 1140.9 475.5 1148.5 505.5 1154.6 538.5 1159.1 573.5 1161.9 610.5 1163.0 648.5 1162.2 686.5 1159.7 724.5 1155.4 760.5 1149.5 793.5 1142.0 824.5 1132.8 853.5 1122.2 879.5 1109.8 903.5 1096.2 924.5 1080.5 943.8 1063.5 960.3 1044.5 974.6 1024.5 985.7 1003.5 993.9 981.5 999.0Z" fill="none" stroke="#262a70" stroke-width="1.4" stroke-dasharray="170 110 90 130" opacity="0.85"/>
<path d="M966.5 1036.4L939.5 1034.3 913.5 1027.7 889.5 1016.9 867.5 1002.2 850.5 986.8 834.5 968.1 818.5 945.7 790.3 902.5 781.9 891.5 772.5 884.4 748.5 875.4 737.5 868.9 732.5 863.8 729.2 858.5 727.0 852.5 726.2 845.5 741.9 844.5 741.9 459.5 725.5 458.5 727.9 447.5 732.7 439.5 740.5 432.5 749.5 427.8 772.5 419.2 781.5 412.5 790.8 400.5 818.5 357.9 835.5 334.3 852.5 315.1 869.5 300.4 890.5 287.0 913.5 277.0 938.5 270.6 964.5 268.4 987.5 270.1 1010.5 275.2 1032.5 283.5 1054.5 295.8 1073.5 310.2 1091.5 327.9 1107.5 348.0 1122.2 371.5 1134.6 396.5 1145.5 424.5 1154.9 455.5 1162.5 488.9 1168.6 525.5 1173.0 564.5 1175.8 606.5 1176.8 649.5 1176.0 692.5 1173.4 734.5 1169.1 774.5 1163.2 811.5 1155.6 845.5 1146.5 876.5 1135.9 904.5 1123.4 930.5 1108.7 954.5 1092.5 975.4 1074.5 993.5 1055.5 1008.2 1034.5 1020.3 1012.5 1029.1 989.5 1034.5Z" fill="none" stroke="#262a70" stroke-width="1.4" stroke-dasharray="170 110 90 130" opacity="0.85"/>
<path d="M879.4 1070.5L865.5 1060.1 852.5 1047.7 840.5 1033.3 830.9 1018.5 819.5 994.9 802.6 949.5 788.7 915.5 777.8 893.5 774.5 889.8 770.5 887.4 745.5 880.3 734.5 875.0 729.5 870.9 725.9 866.5 721.2 855.5 720.0 845.5 741.7 844.5 741.8 459.5 719.5 458.5 721.1 447.5 723.8 440.5 727.5 434.8 732.5 430.0 744.5 423.7 770.5 416.1 774.7 413.5 778.2 409.5 783.6 399.5 793.5 376.5 817.5 313.8 825.1 296.5 838.5 274.2 855.5 254.4 867.5 243.8 879.5 235.2 893.5 227.1 907.5 220.7 922.5 215.5 937.5 211.9 953.5 209.5 969.5 208.7 990.5 209.9 1011.5 213.8 1032.5 220.5 1051.5 229.3 1069.5 240.5 1087.0 254.5 1102.5 270.1 1117.5 288.8 1130.5 308.8 1142.0 330.5 1152.4 354.5 1161.5 380.5 1169.5 408.9 1176.3 439.5 1182.0 473.5 1186.6 509.5 1190.5 555.5 1192.9 605.5 1193.6 657.5 1192.5 709.5 1189.9 757.5 1185.7 802.5 1180.0 843.5 1172.7 881.5 1164.3 914.5 1154.4 944.5 1142.7 972.5 1129.6 997.5 1114.5 1020.2 1098.5 1039.5 1080.5 1056.6 1061.6 1070.5" fill="none" stroke="#262a70" stroke-width="1.4" stroke-dasharray="170 110 90 130" opacity="0.85"/>
<path d="M735.0 1070.5L740.0 1049.5 747.6 1030.5 756.5 1014.5 773.5 990.0 778.5 981.3 780.8 973.5 781.3 962.5 775.7 912.5 773.4 897.5 771.7 892.5 767.5 891.2 736.5 887.8 723.5 883.9 718.5 880.4 714.8 875.5 712.4 869.5 710.7 861.5 709.6 845.5 741.6 844.5 741.6 459.5 709.5 458.5 710.5 442.5 712.5 433.5 715.5 426.7 719.5 422.2 725.9 418.5 734.5 416.0 770.5 411.8 772.3 410.5 773.9 403.5 780.6 350.5 781.2 337.5 780.3 329.5 776.5 320.0 756.7 290.5 746.0 269.5 739.0 246.5 736.4 222.5 738.2 198.5 744.4 174.5 754.9 151.5 769.5 129.5 782.7 114.5 798.5 100.1 816.5 87.0 835.5 75.9 856.5 66.2 878.5 58.4 901.5 52.5 925.5 48.3 949.5 46.2 974.5 46.0 998.5 47.9 1020.5 51.7 1041.5 57.3 1061.5 64.9 1080.5 74.6 1097.5 86.0 1110.5 96.8 1123.1 109.5 1134.5 123.4 1144.9 138.5 1154.5 155.2 1163.5 173.9 1171.8 194.5 1179.2 216.5 1191.5 265.0 1201.2 321.5 1208.5 387.7 1213.5 464.5M1213.5 839.4L1209.2 908.5 1203.0 969.5 1194.8 1023.5 1184.5 1070.5" fill="none" stroke="#262a70" stroke-width="1.4" stroke-dasharray="170 110 90 130" opacity="0.85"/>
<clipPath id="coreClipA"><rect x="704.6" y="459.4" width="37.4" height="386"/></clipPath>
<path d="M741.5 845.4L712.5 844.5 710.4 841.5 708.9 837.5 707.0 823.5 705.9 790.5 705.4 728.5 706.1 502.5 707.0 480.5 708.5 468.6 712.3 459.5 741.5 458.6 742.4 459.5 742.4 844.5ZM741.5 845.2L723.8 844.5 720.5 842.5 717.2 839.5 714.6 835.5 711.0 823.5 708.9 804.5 707.6 773.5 706.7 652.5 707.6 529.5 708.9 499.5 711.0 480.5 712.7 473.5 714.9 468.5 717.8 464.5 723.3 460.5 723.5 459.5 741.5 458.9 742.1 459.5 742.4 649.5 742.2 844.5ZM741.5 844.9L732.4 844.5 726.8 841.5 722.5 838.0 716.9 829.5 713.1 815.5 710.7 794.5 709.2 765.5 708.1 652.5 709.2 539.5 710.6 510.5 712.9 489.5 716.3 476.5 721.6 467.5 726.3 463.5 731.9 460.5 732.1 459.5 741.5 459.1 742.2 482.5 742.3 820.5ZM741.5 844.7L738.4 844.5 732.8 841.5 727.6 837.5 723.5 832.9 718.3 822.5 714.8 807.5 712.3 786.5 710.7 757.5 709.4 652.5 710.6 547.5 712.2 518.5 714.6 497.5 718.1 482.5 722.8 472.5 726.1 468.5 730.8 464.5 738.0 460.5 738.2 459.5 741.5 459.3 742.2 494.5 742.2 809.5ZM741.5 844.5L731.3 836.5 724.4 827.5 719.5 815.5 716.1 799.5 713.7 778.5 712.1 749.5 710.8 652.5 712.1 554.5 713.6 525.5 716.0 504.5 719.5 488.5 724.5 476.6 730.8 468.5 741.5 459.6 742.2 507.5 742.2 795.5ZM741.5 843.1L731.0 831.5 725.6 822.5 720.8 809.5 717.3 792.5 715.0 771.5 713.4 742.5 712.1 652.5 713.4 560.5 715.0 531.5 717.4 510.5 720.8 494.5 725.6 481.5 731.3 472.5 741.5 461.7 742.3 650.5ZM741.5 840.1L732.0 827.5 726.6 817.5 722.2 804.5 718.7 787.5 716.4 766.5 714.8 738.5 713.4 652.5 714.8 566.5 716.4 537.5 718.7 516.5 722.1 499.5 726.6 486.5 732.1 476.5 741.5 464.4 742.3 650.5ZM741.5 836.0L733.0 823.5 727.6 812.5 723.1 798.5 720.0 782.5 717.7 761.5 716.1 733.5 714.8 652.5 716.1 570.5 717.7 542.5 720.0 521.5 723.0 505.5 727.5 491.5 733.0 480.5 741.5 468.3 742.2 650.5ZM741.5 831.4L734.0 819.5 728.5 807.5 724.2 793.5 721.3 777.5 719.0 756.5 717.4 728.5 716.1 652.5 717.4 575.5 719.0 547.5 721.2 526.5 724.1 510.5 728.4 496.5 733.9 484.5 741.5 472.7 742.2 650.5ZM741.5 826.6L734.4 814.5 729.2 802.5 725.4 789.5 722.5 773.5 720.3 752.5 718.8 725.5 717.4 652.5 718.8 578.5 720.3 551.5 722.5 530.5 725.3 514.5 729.1 501.5 734.3 489.5 741.5 477.4 742.2 651.5ZM741.5 821.6L734.7 809.5 729.9 797.5 726.3 784.5 723.8 769.5 721.6 748.5 720.1 722.5 718.8 652.5 720.1 581.5 721.6 555.5 723.7 534.5 726.5 518.5 730.1 505.5 735.1 493.5 741.5 482.3 742.1 651.5ZM741.5 816.6L735.0 804.5 730.8 793.5 727.7 781.5 725.0 765.5 721.4 718.5 720.1 652.5 721.3 585.5 724.9 538.5 727.6 522.5 730.9 509.5 735.3 498.5 741.5 487.1 742.1 651.5ZM741.5 811.7L735.7 800.5 731.9 790.5 728.7 777.5 726.2 761.5 722.6 715.5 721.4 652.5 722.6 588.5 726.1 542.5 728.6 526.5 731.8 513.5 735.9 502.5 741.5 492.0 742.1 651.5ZM741.5 807.0L736.2 796.5 732.7 786.5 729.7 773.5 727.3 757.5 723.9 712.5 722.7 652.5 723.9 591.5 727.3 546.5 729.7 530.5 732.9 516.5 736.5 506.5 741.5 496.6 742.0 651.5ZM741.5 802.4L737.1 793.5 733.8 783.5 730.7 769.5 728.3 752.5 725.1 708.5 724.0 652.5 725.1 594.5 728.3 551.5 730.7 534.5 733.7 520.5 736.9 510.5 741.5 501.1ZM741.5 798.1L737.6 789.5 734.4 778.5 729.4 748.5 726.4 706.5 725.3 652.5 726.4 597.5 729.4 555.5 734.3 525.5 737.8 513.5 741.5 505.4ZM741.5 794.0L738.4 786.5 735.0 773.5 730.5 744.5 727.6 703.5 726.6 652.5 727.6 600.5 730.4 559.5 734.7 531.5 738.3 517.5 741.5 509.4ZM741.5 789.8L735.6 768.5 731.4 738.5 728.8 699.5 727.9 652.5 728.8 605.5 731.3 565.5 735.5 535.5 741.5 513.6ZM741.5 784.7L736.5 764.5 732.3 733.5 729.9 694.5 729.2 652.5 730.0 608.5 732.3 570.5 736.4 539.5 741.5 518.9ZM741.5 778.4L736.5 755.5 733.4 729.5 731.2 692.5 730.5 652.5 731.2 611.5 733.4 574.5 736.4 548.5 741.5 525.3ZM741.5 772.6L737.2 750.5 734.5 725.5 732.4 691.5 731.7 652.5 732.4 612.5 734.4 578.5 737.2 553.5 741.5 530.9ZM741.5 765.9L738.2 746.5 735.1 715.5 733.6 687.5 733.0 652.5 733.6 616.5 735.0 588.5 738.1 557.5 741.5 537.6ZM741.5 757.1L737.9 732.5 736.0 710.5 734.3 652.5 736.1 592.5 738.0 570.5 741.5 546.4ZM741.5 749.6L737.2 708.5 735.5 652.5 737.3 594.5 741.5 554.0ZM741.5 738.1L737.7 693.5 736.8 651.5 737.8 609.5 741.5 565.5ZM741.5 727.7L738.8 690.5 738.0 651.5 738.9 612.5 741.5 575.8ZM741.5 712.8L740.1 689.5 739.3 651.5 740.1 614.5 741.5 590.6ZM741.5 693.0L740.5 651.5 741.5 610.8Z" fill="none" stroke="#120806" stroke-width="1.0" opacity="0.7" clip-path="url(#coreClipA)"/>
<path d="M778.9 395.9 L777.0 378.9 L788.7 381.9 Z" fill="#111"/><path d="M709.8 525.1 L703.3 502.4 L720.0 503.8 Z" fill="#111"/><path d="M759.8 501.5 L781.2 500.3 L776.6 514.8 Z" fill="#111"/><path d="M850.1 499.7 L862.9 500.7 L859.0 508.9 Z" fill="#111"/><path d="M914.1 439.1 L926.9 437.9 L924.4 446.7 Z" fill="#111"/><path d="M1002.8 431.0 L1014.0 434.4 L1008.9 441.0 Z" fill="#111"/><path d="M987.4 516.6 L999.0 524.3 L990.9 530.0 Z" fill="#111"/><path d="M828.7 744.8 L822.6 758.5 L815.1 751.0 Z" fill="#111"/><path d="M916.9 752.1 L912.2 765.2 L904.7 758.8 Z" fill="#111"/><path d="M1003.3 784.2 L999.8 796.6 L992.5 791.1 Z" fill="#111"/><path d="M1084.3 644.4 L1088.5 655.4 L1080.2 655.4 Z" fill="#444"/>
</g>
<line x1="221.0" y1="31.0" x2="221.0" y2="1071.0" stroke="#000" stroke-width="1.6"/>
<line x1="221.0" y1="329.7" x2="772.0" y2="329.7" stroke="#10103a" stroke-width="1.6"/>
<line x1="221.0" y1="975.4" x2="772.0" y2="975.4" stroke="#10103a" stroke-width="1.8"/>
<line x1="636.6" y1="329.7" x2="636.6" y2="975.4" stroke="#10103a" stroke-width="1.6"/>
<line x1="772.0" y1="329.7" x2="772.0" y2="975.4" stroke="#10103a" stroke-width="1.6"/>
<rect x="704.6" y="411.0" width="67.4" height="482.0" fill="none" stroke="#000" stroke-width="1.4"/>
<rect x="704.6" y="459.4" width="37.4" height="386.0" fill="none" stroke="#000" stroke-width="1.2"/>
<circle cx="750" cy="515.2" r="8.3" fill="#3a55a7" stroke="#101020" stroke-width="1.3"/>
<circle cx="750" cy="534.7" r="8.3" fill="#3a55a7" stroke="#101020" stroke-width="1.3"/>
<circle cx="750" cy="554.1" r="8.3" fill="#3a55a7" stroke="#101020" stroke-width="1.3"/>
<circle cx="750" cy="573.6" r="8.3" fill="#3a55a7" stroke="#101020" stroke-width="1.3"/>
<circle cx="750" cy="593.0" r="8.3" fill="#3a55a7" stroke="#101020" stroke-width="1.3"/>
<circle cx="750" cy="612.5" r="8.3" fill="#3a55a7" stroke="#101020" stroke-width="1.3"/>
<circle cx="750" cy="631.9" r="8.3" fill="#3a55a7" stroke="#101020" stroke-width="1.3"/>
<circle cx="750" cy="651.4" r="8.3" fill="#3a55a7" stroke="#101020" stroke-width="1.3"/>
<circle cx="750" cy="670.8" r="8.3" fill="#3a55a7" stroke="#101020" stroke-width="1.3"/>
<circle cx="750" cy="690.2" r="8.3" fill="#3a55a7" stroke="#101020" stroke-width="1.3"/>
<circle cx="750" cy="709.7" r="8.3" fill="#3a55a7" stroke="#101020" stroke-width="1.3"/>
<circle cx="750" cy="729.2" r="8.3" fill="#3a55a7" stroke="#101020" stroke-width="1.3"/>
<circle cx="750" cy="748.6" r="8.3" fill="#3a55a7" stroke="#101020" stroke-width="1.3"/>
<circle cx="750" cy="768.1" r="8.3" fill="#3a55a7" stroke="#101020" stroke-width="1.3"/>
<circle cx="750" cy="787.5" r="8.3" fill="#3a55a7" stroke="#101020" stroke-width="1.3"/>
<line x1="391.7" y1="32.0" x2="391.7" y2="42.0" stroke="#26286e" stroke-width="3.5"/>
<line x1="391.7" y1="1060.0" x2="391.7" y2="1070.0" stroke="#26286e" stroke-width="3.5"/>
<line x1="561.7" y1="32.0" x2="561.7" y2="42.0" stroke="#26286e" stroke-width="3.5"/>
<line x1="561.7" y1="1060.0" x2="561.7" y2="1070.0" stroke="#26286e" stroke-width="3.5"/>
<line x1="731.7" y1="32.0" x2="731.7" y2="42.0" stroke="#26286e" stroke-width="3.5"/>
<line x1="731.7" y1="1060.0" x2="731.7" y2="1070.0" stroke="#26286e" stroke-width="3.5"/>
<line x1="901.7" y1="32.0" x2="901.7" y2="42.0" stroke="#26286e" stroke-width="3.5"/>
<line x1="901.7" y1="1060.0" x2="901.7" y2="1070.0" stroke="#26286e" stroke-width="3.5"/>
<line x1="1071.7" y1="32.0" x2="1071.7" y2="42.0" stroke="#26286e" stroke-width="3.5"/>
<line x1="1071.7" y1="1060.0" x2="1071.7" y2="1070.0" stroke="#26286e" stroke-width="3.5"/>
<line x1="1201.0" y1="1040.0" x2="1213.0" y2="1040.0" stroke="#26286e" stroke-width="3.5"/>
<line x1="1201.0" y1="975.4" x2="1213.0" y2="975.4" stroke="#26286e" stroke-width="3.5"/>
<line x1="1201.0" y1="910.8" x2="1213.0" y2="910.8" stroke="#26286e" stroke-width="3.5"/>
<line x1="1201.0" y1="846.3" x2="1213.0" y2="846.3" stroke="#26286e" stroke-width="3.5"/>
<line x1="1201.0" y1="781.7" x2="1213.0" y2="781.7" stroke="#26286e" stroke-width="3.5"/>
<line x1="1201.0" y1="717.1" x2="1213.0" y2="717.1" stroke="#26286e" stroke-width="3.5"/>
<line x1="1201.0" y1="652.5" x2="1213.0" y2="652.5" stroke="#26286e" stroke-width="3.5"/>
<line x1="1201.0" y1="588.0" x2="1213.0" y2="588.0" stroke="#26286e" stroke-width="3.5"/>
<line x1="1201.0" y1="523.4" x2="1213.0" y2="523.4" stroke="#26286e" stroke-width="3.5"/>
<line x1="1201.0" y1="458.8" x2="1213.0" y2="458.8" stroke="#26286e" stroke-width="3.5"/>
<line x1="1201.0" y1="394.3" x2="1213.0" y2="394.3" stroke="#26286e" stroke-width="3.5"/>
<line x1="1201.0" y1="329.7" x2="1213.0" y2="329.7" stroke="#26286e" stroke-width="3.5"/>
<line x1="1201.0" y1="265.1" x2="1213.0" y2="265.1" stroke="#26286e" stroke-width="3.5"/>
<line x1="1201.0" y1="200.5" x2="1213.0" y2="200.5" stroke="#26286e" stroke-width="3.5"/>
<line x1="1201.0" y1="136.0" x2="1213.0" y2="136.0" stroke="#26286e" stroke-width="3.5"/>
<line x1="1201.0" y1="71.4" x2="1213.0" y2="71.4" stroke="#26286e" stroke-width="3.5"/>
<path d="M128.0 31.0 H1214.0 V1071.0 H128.0 Z" fill="none" stroke="#808080" stroke-width="3"/>
<line x1="128.0" y1="1040.0" x2="139.5" y2="1040.0" stroke="#808080" stroke-width="4.0"/>
<text x="76.8" y="1048.3" font-family='"Liberation Sans", sans-serif' font-size="23.6" fill="#1a1a1a" text-anchor="start" font-weight="normal" textLength="41.4" lengthAdjust="spacingAndGlyphs">-20</text>
<line x1="128.0" y1="975.4" x2="139.5" y2="975.4" stroke="#808080" stroke-width="4.0"/>
<text x="102.6" y="983.7" font-family='"Liberation Sans", sans-serif' font-size="23.6" fill="#1a1a1a" text-anchor="start" font-weight="normal" textLength="15.6" lengthAdjust="spacingAndGlyphs">0</text>
<line x1="128.0" y1="910.8" x2="139.5" y2="910.8" stroke="#808080" stroke-width="4.0"/>
<text x="87.0" y="919.1" font-family='"Liberation Sans", sans-serif' font-size="23.6" fill="#1a1a1a" text-anchor="start" font-weight="normal" textLength="31.2" lengthAdjust="spacingAndGlyphs">20</text>
<line x1="128.0" y1="846.3" x2="139.5" y2="846.3" stroke="#808080" stroke-width="4.0"/>
<text x="87.0" y="854.6" font-family='"Liberation Sans", sans-serif' font-size="23.6" fill="#1a1a1a" text-anchor="start" font-weight="normal" textLength="31.2" lengthAdjust="spacingAndGlyphs">40</text>
<line x1="128.0" y1="781.7" x2="139.5" y2="781.7" stroke="#808080" stroke-width="4.0"/>
<text x="87.0" y="790.0" font-family='"Liberation Sans", sans-serif' font-size="23.6" fill="#1a1a1a" text-anchor="start" font-weight="normal" textLength="31.2" lengthAdjust="spacingAndGlyphs">60</text>
<line x1="128.0" y1="717.1" x2="139.5" y2="717.1" stroke="#808080" stroke-width="4.0"/>
<text x="87.0" y="725.4" font-family='"Liberation Sans", sans-serif' font-size="23.6" fill="#1a1a1a" text-anchor="start" font-weight="normal" textLength="31.2" lengthAdjust="spacingAndGlyphs">80</text>
<line x1="128.0" y1="652.5" x2="139.5" y2="652.5" stroke="#808080" stroke-width="4.0"/>
<text x="71.4" y="660.8" font-family='"Liberation Sans", sans-serif' font-size="23.6" fill="#1a1a1a" text-anchor="start" font-weight="normal" textLength="46.8" lengthAdjust="spacingAndGlyphs">100</text>
<line x1="128.0" y1="588.0" x2="139.5" y2="588.0" stroke="#808080" stroke-width="4.0"/>
<text x="71.4" y="596.3" font-family='"Liberation Sans", sans-serif' font-size="23.6" fill="#1a1a1a" text-anchor="start" font-weight="normal" textLength="46.8" lengthAdjust="spacingAndGlyphs">120</text>
<line x1="128.0" y1="523.4" x2="139.5" y2="523.4" stroke="#808080" stroke-width="4.0"/>
<text x="71.4" y="531.7" font-family='"Liberation Sans", sans-serif' font-size="23.6" fill="#1a1a1a" text-anchor="start" font-weight="normal" textLength="46.8" lengthAdjust="spacingAndGlyphs">140</text>
<line x1="128.0" y1="458.8" x2="139.5" y2="458.8" stroke="#808080" stroke-width="4.0"/>
<text x="71.4" y="467.1" font-family='"Liberation Sans", sans-serif' font-size="23.6" fill="#1a1a1a" text-anchor="start" font-weight="normal" textLength="46.8" lengthAdjust="spacingAndGlyphs">160</text>
<line x1="128.0" y1="394.3" x2="139.5" y2="394.3" stroke="#808080" stroke-width="4.0"/>
<text x="71.4" y="402.6" font-family='"Liberation Sans", sans-serif' font-size="23.6" fill="#1a1a1a" text-anchor="start" font-weight="normal" textLength="46.8" lengthAdjust="spacingAndGlyphs">180</text>
<line x1="128.0" y1="329.7" x2="139.5" y2="329.7" stroke="#808080" stroke-width="4.0"/>
<text x="71.4" y="338.0" font-family='"Liberation Sans", sans-serif' font-size="23.6" fill="#1a1a1a" text-anchor="start" font-weight="normal" textLength="46.8" lengthAdjust="spacingAndGlyphs">200</text>
<line x1="128.0" y1="265.1" x2="139.5" y2="265.1" stroke="#808080" stroke-width="4.0"/>
<text x="71.4" y="273.4" font-family='"Liberation Sans", sans-serif' font-size="23.6" fill="#1a1a1a" text-anchor="start" font-weight="normal" textLength="46.8" lengthAdjust="spacingAndGlyphs">220</text>
<line x1="128.0" y1="200.5" x2="139.5" y2="200.5" stroke="#808080" stroke-width="4.0"/>
<text x="71.4" y="208.8" font-family='"Liberation Sans", sans-serif' font-size="23.6" fill="#1a1a1a" text-anchor="start" font-weight="normal" textLength="46.8" lengthAdjust="spacingAndGlyphs">240</text>
<line x1="128.0" y1="136.0" x2="139.5" y2="136.0" stroke="#808080" stroke-width="4.0"/>
<text x="71.4" y="144.3" font-family='"Liberation Sans", sans-serif' font-size="23.6" fill="#1a1a1a" text-anchor="start" font-weight="normal" textLength="46.8" lengthAdjust="spacingAndGlyphs">260</text>
<line x1="128.0" y1="71.4" x2="139.5" y2="71.4" stroke="#808080" stroke-width="4.0"/>
<text x="71.4" y="79.7" font-family='"Liberation Sans", sans-serif' font-size="23.6" fill="#1a1a1a" text-anchor="start" font-weight="normal" textLength="46.8" lengthAdjust="spacingAndGlyphs">280</text>
<text x="32.6" y="40.6" font-family='"Liberation Sans", sans-serif' font-size="22.5" fill="#1a1a1a" text-anchor="start" font-weight="normal" textLength="42.0" lengthAdjust="spacingAndGlyphs">mm</text>
<text x="213.6" y="1107.8" font-family='"Liberation Sans", sans-serif' font-size="24.8" fill="#1a1a1a" text-anchor="start" font-weight="normal" textLength="16.2" lengthAdjust="spacingAndGlyphs">0</text>
<text x="375.5" y="1107.8" font-family='"Liberation Sans", sans-serif' font-size="24.8" fill="#1a1a1a" text-anchor="start" font-weight="normal" textLength="32.4" lengthAdjust="spacingAndGlyphs">50</text>
<text x="537.4" y="1107.8" font-family='"Liberation Sans", sans-serif' font-size="24.8" fill="#1a1a1a" text-anchor="start" font-weight="normal" textLength="48.6" lengthAdjust="spacingAndGlyphs">100</text>
<text x="707.4" y="1107.8" font-family='"Liberation Sans", sans-serif' font-size="24.8" fill="#1a1a1a" text-anchor="start" font-weight="normal" textLength="48.6" lengthAdjust="spacingAndGlyphs">150</text>
<text x="877.4" y="1107.8" font-family='"Liberation Sans", sans-serif' font-size="24.8" fill="#1a1a1a" text-anchor="start" font-weight="normal" textLength="48.6" lengthAdjust="spacingAndGlyphs">200</text>
<text x="1047.4" y="1107.8" font-family='"Liberation Sans", sans-serif' font-size="24.8" fill="#1a1a1a" text-anchor="start" font-weight="normal" textLength="48.6" lengthAdjust="spacingAndGlyphs">250</text>
<text x="1174.0" y="1107.5" font-family='"Liberation Sans", sans-serif' font-size="22.5" fill="#1a1a1a" text-anchor="start" font-weight="normal" textLength="42.0" lengthAdjust="spacingAndGlyphs">mm</text>
<rect x="103.5" y="13.5" width="3.0" height="3.0" fill="#888" stroke="none" stroke-width="0.0"/>
<rect x="723.5" y="13.2" width="8.0" height="2.2" fill="#666" stroke="none" stroke-width="0.0"/>
<rect x="739.0" y="13.2" width="5.5" height="2.2" fill="#666" stroke="none" stroke-width="0.0"/>
<text x="558.0" y="233.5" font-family='"Liberation Serif", serif' font-size="29.8" fill="#ec1c24" text-anchor="start" font-weight="normal" textLength="74.0" lengthAdjust="spacingAndGlyphs">Water</text>
<text x="634.5" y="379.5" font-family='"Liberation Serif", serif' font-size="29.0" fill="#ec1c24" text-anchor="start" font-weight="normal" textLength="138.0" lengthAdjust="spacingAndGlyphs">Aluminium</text>
<text x="345.1" y="540.5" font-family='"Liberation Serif", serif' font-size="37.7" fill="#ec1c24" text-anchor="start" font-weight="normal" textLength="190.0" lengthAdjust="spacingAndGlyphs">Inside of the</text>
<text x="336.7" y="583.7" font-family='"Liberation Serif", serif' font-size="37.7" fill="#ec1c24" text-anchor="start" font-weight="normal" textLength="206.0" lengthAdjust="spacingAndGlyphs">receiving coil</text>
<text x="375.2" y="628.0" font-family='"Liberation Serif", serif' font-size="37.7" fill="#ec1c24" text-anchor="start" font-weight="normal" textLength="131.4" lengthAdjust="spacingAndGlyphs">structure</text>
<linearGradient id="cba" x1="0" y1="0" x2="0" y2="1"><stop offset="0.000" stop-color="#e91f25"/><stop offset="0.050" stop-color="#ec3b26"/><stop offset="0.100" stop-color="#ef5a27"/><stop offset="0.150" stop-color="#f37624"/><stop offset="0.200" stop-color="#f7941d"/><stop offset="0.250" stop-color="#fcb817"/><stop offset="0.280" stop-color="#fece10"/><stop offset="0.300" stop-color="#fde11b"/><stop offset="0.320" stop-color="#f9e81d"/><stop offset="0.350" stop-color="#ebe222"/><stop offset="0.400" stop-color="#d7dc28"/><stop offset="0.450" stop-color="#bcd33b"/><stop offset="0.500" stop-color="#94c86a"/><stop offset="0.550" stop-color="#77c39a"/><stop offset="0.600" stop-color="#6ec2b0"/><stop offset="0.650" stop-color="#6cc5cf"/><stop offset="0.680" stop-color="#66c8e0"/><stop offset="0.700" stop-color="#50c3ea"/><stop offset="0.730" stop-color="#2fc4f0"/><stop offset="0.750" stop-color="#36b2e6"/><stop offset="0.780" stop-color="#3e94d2"/><stop offset="0.800" stop-color="#3f86c8"/><stop offset="0.830" stop-color="#3e78be"/><stop offset="0.850" stop-color="#3c6bb4"/><stop offset="0.880" stop-color="#3b5eac"/><stop offset="0.900" stop-color="#3a59a8"/><stop offset="0.950" stop-color="#3a56a7"/><stop offset="1.000" stop-color="#3a55a7"/></linearGradient>
<rect x="1256.0" y="127.0" width="31.4" height="898.0" fill="url(#cba)" stroke="#6a6a6a" stroke-width="2.0"/>
<line x1="1256.0" y1="922.0" x2="1262.0" y2="922.0" stroke="#222" stroke-width="2.0"/>
<line x1="1281.4" y1="922.0" x2="1287.4" y2="922.0" stroke="#222" stroke-width="2.0"/>
<text x="1306.0" y="929.5" font-family='"Liberation Sans", sans-serif' font-size="23.6" fill="#1a1a1a" text-anchor="start" font-weight="normal" textLength="14.5" lengthAdjust="spacingAndGlyphs">1</text>
<line x1="1256.0" y1="819.5" x2="1262.0" y2="819.5" stroke="#222" stroke-width="2.0"/>
<line x1="1281.4" y1="819.5" x2="1287.4" y2="819.5" stroke="#222" stroke-width="2.0"/>
<text x="1306.0" y="827.0" font-family='"Liberation Sans", sans-serif' font-size="23.6" fill="#1a1a1a" text-anchor="start" font-weight="normal" textLength="14.5" lengthAdjust="spacingAndGlyphs">2</text>
<line x1="1256.0" y1="717.0" x2="1262.0" y2="717.0" stroke="#222" stroke-width="2.0"/>
<line x1="1281.4" y1="717.0" x2="1287.4" y2="717.0" stroke="#222" stroke-width="2.0"/>
<text x="1306.0" y="724.5" font-family='"Liberation Sans", sans-serif' font-size="23.6" fill="#1a1a1a" text-anchor="start" font-weight="normal" textLength="14.5" lengthAdjust="spacingAndGlyphs">3</text>
<line x1="1256.0" y1="614.5" x2="1262.0" y2="614.5" stroke="#222" stroke-width="2.0"/>
<line x1="1281.4" y1="614.5" x2="1287.4" y2="614.5" stroke="#222" stroke-width="2.0"/>
<text x="1306.0" y="622.0" font-family='"Liberation Sans", sans-serif' font-size="23.6" fill="#1a1a1a" text-anchor="start" font-weight="normal" textLength="14.5" lengthAdjust="spacingAndGlyphs">4</text>
<line x1="1256.0" y1="512.0" x2="1262.0" y2="512.0" stroke="#222" stroke-width="2.0"/>
<line x1="1281.4" y1="512.0" x2="1287.4" y2="512.0" stroke="#222" stroke-width="2.0"/>
<text x="1306.0" y="519.5" font-family='"Liberation Sans", sans-serif' font-size="23.6" fill="#1a1a1a" text-anchor="start" font-weight="normal" textLength="14.5" lengthAdjust="spacingAndGlyphs">5</text>
<line x1="1256.0" y1="409.5" x2="1262.0" y2="409.5" stroke="#222" stroke-width="2.0"/>
<line x1="1281.4" y1="409.5" x2="1287.4" y2="409.5" stroke="#222" stroke-width="2.0"/>
<text x="1306.0" y="417.0" font-family='"Liberation Sans", sans-serif' font-size="23.6" fill="#1a1a1a" text-anchor="start" font-weight="normal" textLength="14.5" lengthAdjust="spacingAndGlyphs">6</text>
<line x1="1256.0" y1="307.0" x2="1262.0" y2="307.0" stroke="#222" stroke-width="2.0"/>
<line x1="1281.4" y1="307.0" x2="1287.4" y2="307.0" stroke="#222" stroke-width="2.0"/>
<text x="1306.0" y="314.5" font-family='"Liberation Sans", sans-serif' font-size="23.6" fill="#1a1a1a" text-anchor="start" font-weight="normal" textLength="14.5" lengthAdjust="spacingAndGlyphs">7</text>
<line x1="1256.0" y1="204.5" x2="1262.0" y2="204.5" stroke="#222" stroke-width="2.0"/>
<line x1="1281.4" y1="204.5" x2="1287.4" y2="204.5" stroke="#222" stroke-width="2.0"/>
<text x="1306.0" y="212.0" font-family='"Liberation Sans", sans-serif' font-size="23.6" fill="#1a1a1a" text-anchor="start" font-weight="normal" textLength="14.5" lengthAdjust="spacingAndGlyphs">8</text>
<text x="1289.0" y="45.4" font-family='"Liberation Serif", serif' font-size="31.5" fill="#1a1a1a" text-anchor="start" font-weight="normal" textLength="17.5" lengthAdjust="spacingAndGlyphs">T</text>
<path d="M1229.5 75.7 L1241 57 L1252.6 75.7 Z" fill="#000"/>
<text x="1264.2" y="77.3" font-family='"Liberation Sans", sans-serif' font-size="23.6" fill="#1a1a1a" text-anchor="start" font-weight="normal" textLength="107.0" lengthAdjust="spacingAndGlyphs">8.75×10</text>
<text x="1373.5" y="66.4" font-family='"Liberation Sans", sans-serif' font-size="19.0" fill="#1a1a1a" text-anchor="start" font-weight="normal" textLength="17.5" lengthAdjust="spacingAndGlyphs">-4</text>
<text x="1290.5" y="109.5" font-family='"Liberation Sans", sans-serif' font-size="23.6" fill="#1a1a1a" text-anchor="start" font-weight="normal" textLength="49.5" lengthAdjust="spacingAndGlyphs">×10</text>
<text x="1342.0" y="100.0" font-family='"Liberation Sans", sans-serif' font-size="19.0" fill="#1a1a1a" text-anchor="start" font-weight="normal" textLength="17.5" lengthAdjust="spacingAndGlyphs">-4</text>
<path d="M1229.5 1052 L1251 1052 L1240.2 1070.5 Z" fill="#000"/>
<text x="1263.0" y="1069.3" font-family='"Liberation Sans", sans-serif' font-size="23.6" fill="#1a1a1a" text-anchor="start" font-weight="normal" textLength="108.0" lengthAdjust="spacingAndGlyphs">8.38×10</text>
<text x="1373.0" y="1058.7" font-family='"Liberation Sans", sans-serif' font-size="19.0" fill="#1a1a1a" text-anchor="start" font-weight="normal" textLength="31.5" lengthAdjust="spacingAndGlyphs">-12</text>
<text x="679.3" y="1212.0" font-family='"Liberation Serif", serif' font-size="69.5" fill="#000" text-anchor="start" font-weight="normal" textLength="72.5" lengthAdjust="spacingAndGlyphs">(<tspan font-weight="bold">a</tspan>)</text>
<clipPath id="cpb"><rect x="168.8" y="1328.5" width="1087.7" height="1047.9"/></clipPath>
<rect x="168.8" y="1328.5" width="1087.7" height="1047.9" fill="#3a55a7" stroke="none" stroke-width="0.0"/>
<g clip-path="url(#cpb)">
<path fill="#3a58a8" fill-rule="evenodd" d="M964 1328L956 1332 950 1334 934 1342 914 1354 906 1360 886 1382 878 1394 870 1410 866 1422 864 1434 862 1434 862 1440 862 1442 862 1478 862 1478 864 1498 864 1500 864 1518 864 1520 864 1526 862 1528 860 1542 858 1548 858 1552 858 1552 850 1584 844 1606 838 1610 836 1612 798 1614 798 1616 792 1616 792 1616 788 1616 778 1620 770 1628 764 1642 764 1652 762 1654 762 1714 760 1714 760 2068 762 2068 762 2130 764 2130 764 2142 768 2150 772 2158 776 2162 782 2166 792 2168 794 2168 798 2168 800 2170 836 2172 840 2174 844 2180 848 2192 848 2196 850 2196 850 2200 850 2200 850 2204 852 2204 852 2208 852 2208 852 2212 860 2240 862 2256 864 2256 864 2264 864 2264 864 2284 864 2286 864 2294 862 2296 862 2314 860 2316 860 2344 862 2344 862 2358 864 2358 866 2370 868 2376 1232 2376 1246 2358 1256 2344 1256 1440 1242 1420 1228 1404 1216 1392 1194 1374 1168 1356 1154 1350 1152 1348 1120 1334 1104 1328Z"/>
<path fill="#3a58a8" fill-rule="evenodd" d="M1000 1362L1000 1362 982 1366 964 1372 946 1380 924 1394 916 1402 904 1414 892 1432 888 1442 882 1460 882 1462 878 1472 878 1482 876 1484 874 1504 874 1506 874 1512 872 1512 870 1526 866 1538 866 1542 864 1546 864 1548 860 1558 860 1562 846 1604 840 1610 836 1612 822 1614 822 1614 812 1614 812 1616 804 1616 802 1616 798 1616 796 1618 792 1618 786 1620 780 1622 774 1628 770 1632 766 1640 766 1644 764 1648 764 1654 764 1656 764 1668 762 1668 762 1678 762 1678 762 1732 760 1732 760 2050 762 2050 762 2104 762 2104 762 2114 764 2114 764 2134 766 2136 768 2146 772 2154 780 2162 798 2168 836 2172 840 2174 846 2180 858 2212 858 2216 864 2232 864 2234 870 2252 870 2256 870 2258 872 2266 872 2266 872 2272 874 2272 876 2294 876 2294 876 2302 878 2302 878 2308 878 2308 878 2314 880 2314 882 2326 888 2344 894 2358 900 2366 908 2376 1184 2376 1204 2360 1224 2340 1240 2322 1256 2298 1256 1488 1250 1476 1232 1454 1204 1426 1192 1414 1164 1396 1136 1380 1134 1380 1130 1378 1104 1368 1102 1368 1098 1366 1094 1366 1086 1364 1070 1362 1068 1360 1048 1360 1046 1358 1028 1358 1026 1360 1014 1360 1014 1360Z"/>
<path fill="#3a59a8" fill-rule="evenodd" d="M1016 1400L1016 1400 1008 1400 1008 1402 994 1404 972 1410 950 1422 932 1434 916 1450 904 1468 900 1474 898 1476 898 1480 890 1494 878 1530 874 1538 874 1544 872 1546 868 1558 864 1564 864 1566 856 1586 856 1588 852 1592 852 1594 844 1608 840 1612 832 1614 798 1618 784 1624 776 1628 772 1634 768 1642 766 1652 764 1666 762 1672 762 1686 762 1688 762 1762 760 1762 760 2020 762 2022 762 2094 762 2096 762 2110 764 2116 766 2132 768 2142 772 2150 778 2156 784 2160 800 2166 820 2168 820 2168 828 2168 828 2170 840 2172 846 2176 854 2194 854 2196 858 2200 864 2218 866 2222 866 2224 874 2242 876 2248 878 2250 878 2256 880 2258 890 2286 902 2314 916 2336 938 2356 956 2368 976 2376 1104 2376 1114 2372 1118 2372 1124 2368 1126 2368 1150 2356 1168 2344 1192 2326 1212 2306 1226 2290 1242 2270 1256 2248 1256 1536 1238 1508 1220 1486 1188 1456 1172 1442 1150 1428 1118 1414 1112 1412 1104 1408 1100 1408 1096 1406 1094 1406 1084 1404 1070 1402 1068 1400 1062 1400 1060 1400 1050 1400 1048 1398Z"/>
<path fill="#3a5aa9" fill-rule="evenodd" d="M1026 1430L1026 1432 1016 1432 1014 1432 1002 1434 978 1440 958 1450 936 1464 926 1474 916 1484 900 1506 892 1522 890 1524 874 1560 872 1562 854 1596 846 1608 842 1612 834 1616 804 1620 788 1624 780 1630 776 1634 770 1642 766 1654 766 1664 764 1670 764 1676 762 1678 762 1696 762 1698 762 1806 760 1806 762 2084 762 2086 762 2106 764 2106 764 2112 766 2116 766 2128 770 2142 776 2150 780 2154 792 2160 802 2164 806 2164 806 2164 812 2164 812 2166 818 2166 820 2166 834 2168 844 2172 848 2176 858 2192 882 2244 884 2246 894 2266 896 2268 902 2280 916 2300 930 2316 952 2332 976 2344 990 2348 1002 2350 1004 2352 1008 2352 1010 2352 1030 2354 1030 2354 1044 2354 1044 2354 1058 2354 1058 2352 1072 2352 1082 2348 1086 2348 1100 2344 1102 2344 1106 2342 1120 2336 1142 2326 1164 2312 1190 2290 1216 2264 1234 2242 1250 2216 1256 2204 1256 1580 1250 1566 1236 1546 1226 1532 1210 1512 1184 1488 1154 1466 1122 1448 1086 1436 1082 1436 1082 1436 1074 1434 1072 1434 1068 1434 1066 1432 1060 1432 1058 1432Z"/>
<path fill="#3b5dab" fill-rule="evenodd" d="M1028 1448L1026 1450 1014 1450 1014 1450 1002 1452 976 1458 954 1470 938 1480 916 1502 902 1518 876 1560 874 1566 872 1568 854 1602 844 1612 834 1616 812 1620 812 1620 806 1620 806 1622 802 1622 798 1624 792 1624 782 1630 774 1638 770 1644 768 1654 766 1664 764 1672 764 1680 762 1680 762 1704 762 1704 762 1864 760 1866 760 1918 762 1918 762 2078 762 2080 762 2102 764 2102 764 2110 766 2118 768 2128 772 2140 778 2150 790 2158 804 2162 830 2166 844 2172 852 2180 858 2188 882 2232 902 2264 918 2284 932 2300 942 2308 956 2316 968 2322 988 2330 990 2330 1000 2332 1004 2332 1004 2334 1018 2334 1020 2336 1050 2336 1052 2334 1060 2334 1060 2334 1066 2334 1068 2332 1076 2332 1078 2330 1088 2328 1092 2326 1096 2326 1102 2324 1110 2322 1146 2304 1172 2284 1188 2272 1202 2256 1220 2236 1240 2206 1256 2178 1256 1606 1240 1576 1230 1560 1212 1538 1186 1512 1160 1490 1144 1480 1120 1468 1090 1456 1088 1456 1084 1454 1080 1454 1074 1452 1070 1452 1070 1452 1064 1452 1064 1450 1044 1450 1042 1448Z"/>
<path fill="#3b60ad" fill-rule="evenodd" d="M1026 1464L1026 1466 1006 1466 1004 1468 996 1468 984 1472 980 1472 970 1478 968 1478 954 1484 940 1494 930 1502 912 1520 902 1530 872 1576 870 1578 858 1598 848 1610 838 1616 804 1622 794 1626 782 1632 776 1638 770 1648 768 1654 768 1658 768 1658 768 1664 766 1666 764 1674 764 1674 764 1684 762 1684 762 1710 762 1710 762 2072 762 2074 762 2098 764 2100 764 2108 766 2116 768 2118 768 2130 770 2136 776 2144 784 2152 798 2160 814 2162 816 2164 830 2166 840 2168 846 2172 852 2178 858 2186 864 2196 872 2206 872 2210 904 2256 916 2268 928 2280 946 2294 956 2300 978 2310 994 2316 998 2316 1004 2318 1010 2318 1012 2318 1042 2320 1044 2318 1054 2318 1056 2318 1062 2318 1062 2316 1072 2316 1106 2306 1136 2290 1164 2272 1194 2244 1218 2218 1236 2192 1256 2154 1256 1630 1240 1598 1226 1578 1212 1558 1198 1544 1182 1528 1156 1506 1134 1492 1112 1482 1088 1472 1084 1472 1072 1468 1054 1466 1052 1466Z"/>
<path fill="#3c64b0" fill-rule="evenodd" d="M1024 1476L1022 1476 1010 1476 1010 1478 998 1478 996 1480 986 1482 982 1484 978 1484 976 1486 966 1488 952 1496 938 1504 928 1512 906 1534 886 1558 854 1604 846 1612 834 1618 804 1624 792 1628 778 1636 770 1650 768 1656 768 1664 766 1668 764 1674 764 1676 762 1714 762 1716 762 2068 762 2068 762 2096 764 2096 764 2112 766 2116 768 2118 768 2126 772 2136 778 2146 782 2150 790 2156 792 2156 796 2158 806 2160 810 2160 810 2162 826 2164 826 2164 838 2166 846 2172 860 2186 882 2220 910 2254 932 2274 948 2286 968 2296 994 2304 998 2304 1004 2306 1010 2306 1010 2308 1038 2308 1040 2308 1052 2308 1052 2306 1058 2306 1060 2306 1070 2304 1070 2304 1082 2302 1086 2300 1088 2300 1098 2296 1102 2294 1134 2280 1162 2260 1188 2238 1214 2208 1236 2174 1244 2160 1246 2158 1256 2134 1256 1648 1238 1614 1220 1586 1212 1574 1194 1554 1180 1538 1156 1520 1126 1500 1108 1492 1088 1484 1086 1484 1074 1480 1058 1478 1058 1478 1052 1478 1050 1476Z"/>
<path fill="#3c69b3" fill-rule="evenodd" d="M1026 1486L1024 1486 1010 1486 1008 1488 1002 1488 1002 1488 996 1488 996 1490 984 1492 962 1500 944 1508 920 1526 904 1544 884 1568 858 1602 846 1614 832 1620 828 1620 828 1620 824 1620 818 1622 812 1622 794 1628 784 1634 776 1640 772 1650 770 1656 768 1664 766 1668 764 1676 764 1678 762 1718 762 1720 762 2062 762 2064 762 2092 764 2094 764 2110 766 2116 768 2118 768 2122 770 2124 770 2128 772 2134 776 2142 784 2150 798 2158 802 2158 806 2160 814 2160 814 2162 830 2164 840 2166 850 2174 860 2184 878 2210 900 2236 924 2260 938 2270 948 2278 974 2290 992 2294 996 2294 1002 2296 1010 2296 1010 2298 1046 2298 1048 2296 1054 2296 1056 2296 1060 2296 1062 2294 1074 2292 1106 2282 1138 2264 1164 2246 1194 2216 1218 2188 1236 2158 1256 2118 1256 1666 1238 1630 1236 1628 1228 1612 1214 1590 1198 1570 1186 1558 1158 1534 1136 1518 1124 1512 1122 1510 1092 1496 1070 1490 1062 1490 1060 1488 1048 1488 1046 1486 1032 1486 1030 1486Z"/>
<path fill="#3c6eb6" fill-rule="evenodd" d="M1012 1496L1010 1496 1002 1496 1002 1498 996 1498 996 1498 982 1500 962 1508 940 1520 920 1534 902 1552 880 1576 858 1604 846 1614 836 1620 804 1626 788 1632 778 1640 772 1652 770 1658 770 1664 766 1670 764 1678 764 1680 762 1724 762 1724 762 2058 762 2060 762 2090 764 2090 764 2110 766 2116 770 2118 770 2126 772 2132 778 2144 786 2150 796 2156 810 2160 832 2164 842 2166 850 2172 862 2184 878 2206 896 2226 916 2246 932 2258 956 2274 984 2284 996 2286 998 2286 1004 2286 1004 2288 1012 2288 1014 2288 1038 2288 1038 2288 1048 2288 1048 2286 1054 2286 1056 2286 1066 2284 1078 2280 1080 2280 1102 2272 1132 2258 1146 2248 1166 2232 1178 2222 1194 2204 1212 2180 1234 2148 1238 2138 1240 2136 1256 2100 1256 1684 1236 1640 1214 1604 1188 1574 1170 1556 1146 1536 1122 1520 1108 1514 1106 1514 1100 1510 1090 1508 1088 1506 1074 1502 1070 1500 1066 1500 1066 1500 1056 1498 1056 1498 1050 1498 1050 1496 1040 1496 1040 1496Z"/>
<path fill="#3e75bc" fill-rule="evenodd" d="M1006 1504L1006 1506 998 1506 998 1506 988 1508 970 1512 966 1514 962 1516 936 1528 912 1548 886 1572 866 1596 846 1616 834 1620 818 1624 816 1624 812 1624 812 1626 808 1626 792 1630 784 1636 778 1642 772 1650 770 1656 770 1664 766 1668 764 1674 764 1680 764 1682 762 1728 762 1728 762 2054 762 2054 762 2086 764 2088 764 2108 766 2114 770 2118 772 2130 778 2140 786 2148 796 2154 810 2158 814 2158 814 2160 818 2160 824 2162 836 2164 850 2170 862 2182 894 2218 914 2238 928 2250 954 2264 980 2274 994 2276 994 2278 1000 2278 1000 2278 1008 2278 1010 2280 1036 2280 1038 2278 1046 2278 1048 2278 1052 2278 1054 2276 1058 2276 1060 2276 1072 2274 1076 2272 1078 2272 1088 2268 1102 2262 1104 2262 1134 2246 1162 2224 1174 2212 1190 2196 1214 2166 1234 2132 1244 2110 1244 2108 1250 2100 1250 2098 1256 2082 1256 1702 1248 1682 1248 1680 1236 1656 1212 1616 1202 1602 1186 1582 1168 1564 1154 1552 1142 1544 1122 1532 1094 1518 1072 1510 1056 1508 1054 1506 1050 1506 1048 1506 1040 1506 1040 1504Z"/>
<path fill="#3e7ac0" fill-rule="evenodd" d="M1010 1508L1010 1510 994 1510 992 1512 988 1512 988 1512 984 1512 976 1516 972 1516 958 1522 956 1522 932 1534 922 1542 904 1558 852 1612 842 1618 832 1622 810 1626 796 1630 786 1636 776 1644 772 1652 770 1658 770 1664 768 1666 764 1674 764 1698 762 1698 762 1730 762 1732 762 2052 762 2052 764 2100 764 2102 766 2112 766 2114 770 2118 770 2126 774 2132 774 2134 776 2138 786 2148 796 2154 808 2158 826 2160 840 2164 850 2170 864 2182 882 2204 908 2230 928 2246 942 2254 962 2264 986 2272 990 2272 996 2274 1002 2274 1002 2274 1028 2276 1028 2274 1040 2274 1042 2274 1048 2274 1050 2272 1060 2272 1060 2270 1072 2268 1076 2266 1078 2266 1088 2262 1092 2262 1120 2248 1142 2234 1154 2224 1186 2194 1206 2168 1220 2148 1230 2128 1232 2126 1250 2090 1250 2088 1256 2072 1256 1710 1254 1708 1248 1690 1246 1686 1246 1684 1238 1670 1238 1668 1234 1662 1228 1650 1216 1630 1214 1626 1212 1624 1202 1610 1182 1584 1168 1570 1152 1558 1140 1548 1116 1534 1102 1526 1100 1526 1096 1524 1086 1520 1082 1518 1062 1514 1060 1512 1056 1512 1050 1510 1044 1510 1044 1510Z"/>
<path fill="#3e7fc3" fill-rule="evenodd" d="M1014 1512L1014 1514 994 1514 992 1516 976 1518 954 1526 934 1536 908 1556 894 1568 872 1592 850 1614 834 1622 816 1624 812 1626 808 1626 796 1630 784 1638 778 1642 772 1652 770 1660 770 1664 768 1666 764 1676 764 1698 762 1700 762 1734 762 1734 762 2048 762 2050 764 2098 764 2100 766 2112 770 2118 770 2124 774 2134 784 2146 792 2152 800 2154 806 2156 810 2158 814 2158 818 2160 836 2162 848 2168 858 2176 880 2200 910 2228 936 2248 954 2258 974 2264 976 2264 986 2268 990 2268 990 2268 996 2268 996 2270 1004 2270 1004 2270 1036 2270 1038 2270 1044 2270 1046 2268 1052 2268 1062 2266 1066 2266 1088 2258 1098 2254 1100 2254 1128 2238 1160 2214 1184 2190 1204 2164 1218 2144 1228 2126 1230 2124 1248 2086 1248 2084 1250 2082 1256 2062 1256 1720 1246 1696 1246 1694 1244 1690 1244 1688 1238 1676 1238 1674 1226 1654 1214 1634 1212 1630 1200 1614 1180 1588 1156 1566 1126 1544 1116 1540 1114 1538 1094 1528 1088 1526 1086 1524 1074 1520 1070 1520 1062 1518 1054 1516 1052 1516 1040 1514 1040 1514Z"/>
<path fill="#3f84c6" fill-rule="evenodd" d="M1000 1518L1000 1518 994 1518 992 1520 988 1520 986 1520 974 1522 954 1530 936 1538 922 1548 904 1562 850 1614 842 1620 836 1622 832 1622 824 1624 820 1624 818 1626 814 1626 794 1632 784 1638 778 1644 772 1654 770 1664 768 1668 764 1676 764 1700 762 1702 762 1736 762 1738 762 2046 762 2046 762 2082 764 2082 764 2106 766 2114 770 2118 772 2126 774 2134 778 2140 786 2146 798 2154 816 2158 834 2162 850 2168 860 2176 896 2214 912 2228 932 2242 954 2254 972 2260 976 2260 984 2264 988 2264 990 2264 1004 2266 1004 2266 1032 2266 1034 2266 1042 2266 1042 2264 1048 2264 1050 2264 1058 2262 1060 2262 1070 2260 1090 2252 1116 2240 1134 2228 1150 2216 1184 2184 1202 2160 1214 2144 1224 2124 1226 2122 1244 2088 1244 2086 1246 2082 1246 2080 1248 2078 1248 2076 1250 2072 1254 2060 1256 2054 1256 1730 1252 1718 1250 1716 1250 1710 1244 1700 1242 1694 1238 1684 1238 1682 1214 1640 1202 1622 1180 1594 1154 1570 1136 1556 1120 1546 1098 1534 1096 1534 1086 1530 1064 1522 1052 1520 1050 1520 1046 1520 1044 1518 1038 1518 1036 1518Z"/>
<path fill="#3f8aca" fill-rule="evenodd" d="M1000 1522L998 1522 992 1522 990 1524 982 1524 960 1530 950 1536 948 1536 932 1544 920 1552 900 1568 852 1614 842 1620 834 1622 804 1628 792 1634 786 1636 778 1646 772 1654 772 1664 768 1668 764 1678 764 1702 762 1704 762 1738 762 1740 762 2042 762 2044 762 2080 764 2080 764 2096 764 2098 766 2110 770 2118 772 2126 776 2134 786 2146 798 2152 818 2158 832 2160 840 2164 850 2168 860 2176 904 2218 932 2240 948 2248 950 2248 954 2250 972 2256 974 2256 984 2260 988 2260 988 2260 1002 2262 1004 2262 1030 2262 1032 2262 1040 2262 1042 2260 1046 2260 1048 2260 1052 2260 1058 2258 1062 2258 1094 2246 1116 2236 1126 2228 1128 2228 1154 2208 1174 2188 1188 2172 1202 2156 1224 2120 1242 2082 1256 2044 1256 1740 1250 1720 1248 1716 1242 1700 1238 1692 1238 1690 1226 1666 1224 1664 1220 1658 1210 1642 1210 1640 1194 1618 1180 1602 1150 1572 1134 1560 1114 1548 1094 1538 1080 1532 1076 1530 1074 1530 1066 1528 1064 1528 1054 1524 1050 1524 1042 1522 1036 1522 1034 1522Z"/>
<path fill="#3e90d0" fill-rule="evenodd" d="M1010 1524L1010 1526 990 1526 988 1528 984 1528 982 1528 968 1532 954 1536 938 1544 936 1546 926 1550 906 1566 854 1614 848 1618 836 1622 802 1630 794 1634 792 1634 784 1640 780 1644 772 1656 772 1664 768 1668 764 1678 764 1704 762 1704 762 1742 762 1742 762 2040 762 2040 762 2078 764 2078 764 2104 766 2106 766 2112 772 2118 772 2124 776 2134 780 2140 788 2146 802 2154 836 2162 850 2168 862 2176 882 2198 912 2222 928 2234 944 2242 946 2242 952 2246 970 2252 972 2252 982 2256 986 2256 986 2256 1000 2258 1002 2258 1030 2258 1032 2258 1040 2258 1040 2256 1052 2256 1052 2254 1068 2252 1088 2244 1118 2230 1144 2212 1156 2200 1176 2180 1196 2158 1216 2128 1234 2092 1234 2090 1238 2082 1238 2080 1246 2066 1256 2034 1256 1750 1246 1720 1238 1700 1238 1698 1216 1658 1190 1620 1164 1590 1134 1564 1110 1550 1088 1540 1066 1532 1062 1532 1054 1528 1050 1528 1048 1528 1036 1526 1034 1526Z"/>
<path fill="#3d99d5" fill-rule="evenodd" d="M1004 1528L1002 1530 986 1530 986 1532 968 1534 946 1542 934 1548 904 1568 882 1588 866 1604 848 1618 834 1624 816 1626 798 1632 786 1638 778 1646 774 1652 774 1654 772 1656 772 1664 768 1666 766 1674 764 1688 764 1688 764 1706 762 1706 762 1746 762 1746 762 2036 762 2038 762 2076 764 2078 764 2094 764 2096 764 2104 766 2104 766 2112 772 2118 772 2126 778 2138 786 2144 792 2148 806 2154 834 2160 850 2168 862 2176 886 2200 906 2216 928 2232 944 2240 970 2250 982 2252 984 2252 996 2254 998 2254 1032 2254 1032 2254 1040 2254 1040 2252 1046 2252 1046 2252 1060 2250 1082 2242 1094 2236 1096 2236 1122 2222 1150 2200 1162 2190 1178 2172 1198 2148 1218 2116 1234 2084 1234 2082 1238 2076 1238 2074 1240 2070 1244 2060 1246 2056 1256 2022 1256 1760 1246 1730 1244 1726 1244 1722 1242 1718 1238 1706 1216 1664 1206 1650 1206 1646 1190 1626 1176 1608 1154 1586 1138 1572 1118 1560 1106 1554 1104 1552 1082 1542 1064 1536 1062 1536 1052 1532 1048 1532 1048 1532 1044 1532 1042 1530 1026 1530 1024 1528Z"/>
<path fill="#3aa3dc" fill-rule="evenodd" d="M998 1532L996 1534 988 1534 988 1534 982 1534 982 1536 978 1536 976 1536 966 1538 946 1546 928 1554 912 1566 886 1586 860 1610 850 1618 832 1624 828 1624 822 1626 818 1626 818 1628 806 1630 790 1636 778 1648 772 1658 772 1664 770 1666 766 1670 766 1678 764 1680 764 1688 764 1690 762 1748 762 1750 762 2034 762 2034 762 2074 764 2076 764 2104 766 2104 766 2112 772 2118 772 2122 774 2130 778 2136 786 2144 800 2152 820 2158 832 2160 846 2164 858 2172 890 2200 906 2214 924 2226 946 2238 968 2246 984 2248 986 2250 1004 2250 1004 2252 1020 2252 1022 2250 1032 2250 1034 2250 1040 2250 1040 2248 1050 2248 1052 2246 1062 2244 1066 2242 1070 2242 1076 2240 1086 2236 1104 2228 1106 2226 1116 2220 1144 2200 1174 2172 1194 2146 1214 2116 1232 2082 1232 2080 1236 2074 1236 2072 1242 2058 1242 2054 1244 2050 1256 2012 1256 1772 1254 1768 1254 1760 1250 1754 1250 1750 1246 1736 1244 1732 1242 1728 1240 1724 1234 1708 1216 1670 1206 1654 1188 1628 1170 1606 1156 1594 1142 1580 1118 1564 1094 1550 1092 1550 1076 1544 1064 1540 1062 1540 1052 1536 1048 1536 1048 1536 1044 1536 1042 1534 1038 1534 1036 1534 1028 1534 1028 1532Z"/>
<path fill="#37ade3" fill-rule="evenodd" d="M998 1536L998 1538 988 1538 988 1538 982 1538 982 1540 964 1542 948 1548 930 1556 928 1558 918 1564 898 1578 866 1606 850 1618 834 1624 808 1630 796 1634 788 1638 782 1642 778 1648 774 1656 772 1664 768 1668 766 1674 764 1690 764 1690 762 1752 762 1754 762 2030 762 2030 762 2072 764 2074 764 2102 766 2104 766 2112 770 2116 772 2118 772 2124 778 2134 790 2146 798 2150 810 2154 834 2160 850 2166 862 2174 890 2198 910 2214 924 2224 946 2234 966 2242 974 2242 980 2244 984 2244 986 2246 992 2246 994 2246 1028 2246 1030 2246 1036 2246 1038 2244 1042 2244 1044 2244 1048 2244 1048 2242 1060 2240 1088 2230 1106 2222 1120 2212 1144 2194 1168 2172 1192 2144 1210 2114 1230 2076 1230 2074 1240 2054 1242 2046 1244 2042 1256 1998 1256 1786 1256 1786 1256 1782 1252 1774 1252 1766 1250 1762 1250 1760 1240 1732 1238 1730 1232 1712 1228 1706 1228 1704 1216 1680 1214 1678 1204 1658 1188 1634 1174 1618 1148 1592 1136 1582 1116 1568 1106 1562 1076 1548 1062 1544 1058 1544 1050 1540 1046 1540 1044 1540 1040 1540 1040 1538 1024 1538 1022 1536Z"/>
<path fill="#34b6e8" fill-rule="evenodd" d="M994 1542L994 1542 986 1542 984 1544 974 1544 972 1546 962 1548 944 1554 938 1558 936 1558 906 1574 886 1590 864 1610 848 1620 836 1624 808 1630 790 1638 784 1642 778 1650 774 1654 772 1664 768 1668 766 1672 766 1680 764 1682 764 1692 764 1692 762 1758 762 1758 762 2024 762 2026 762 2070 764 2072 764 2090 764 2092 764 2100 766 2102 766 2110 768 2114 772 2118 772 2122 778 2134 782 2138 788 2144 800 2150 822 2156 834 2158 842 2162 852 2166 862 2172 882 2190 908 2210 924 2220 942 2228 960 2236 964 2236 968 2238 976 2238 976 2240 988 2240 990 2242 1014 2242 1014 2242 1028 2242 1028 2240 1040 2240 1042 2238 1050 2238 1070 2232 1074 2230 1086 2226 1104 2216 1126 2202 1144 2188 1172 2160 1190 2136 1212 2102 1228 2072 1228 2070 1236 2050 1238 2042 1240 2038 1244 2030 1244 2026 1246 2020 1246 2016 1248 2012 1250 2006 1252 2002 1252 1998 1252 1996 1256 1980 1256 1978 1256 1804 1256 1804 1254 1790 1252 1790 1248 1770 1246 1766 1246 1764 1238 1736 1236 1734 1230 1716 1226 1710 1226 1708 1214 1684 1212 1682 1200 1662 1184 1638 1168 1620 1148 1598 1124 1580 1104 1568 1084 1558 1060 1548 1056 1548 1052 1546 1048 1546 1044 1544 1038 1544 1032 1542 1024 1542 1022 1542Z"/>
<path fill="#31c0ee" fill-rule="evenodd" d="M988 1546L986 1548 980 1548 980 1548 974 1548 974 1550 962 1552 936 1560 916 1572 898 1584 866 1608 854 1618 844 1622 834 1626 806 1632 794 1636 784 1642 780 1648 774 1656 774 1664 770 1666 768 1670 766 1676 766 1682 764 1682 764 1694 764 1694 764 1714 762 1714 762 1762 762 1764 762 2018 762 2020 762 2068 764 2070 764 2100 766 2100 766 2106 768 2112 772 2118 774 2124 778 2132 784 2140 792 2146 808 2152 832 2158 844 2162 852 2166 864 2174 898 2200 918 2214 940 2224 950 2228 954 2230 956 2230 960 2232 964 2232 972 2234 976 2234 978 2236 994 2236 994 2238 1018 2238 1018 2236 1028 2236 1028 2236 1034 2236 1036 2234 1040 2234 1046 2232 1050 2232 1074 2224 1104 2210 1124 2198 1142 2182 1168 2156 1188 2132 1204 2106 1218 2080 1218 2078 1224 2068 1224 2066 1234 2046 1244 2016 1244 2012 1246 2008 1246 2006 1250 1988 1250 1984 1252 1980 1252 1974 1254 1974 1256 1958 1256 1956 1256 1828 1256 1826 1256 1820 1254 1820 1254 1814 1254 1814 1250 1794 1250 1794 1246 1774 1244 1770 1244 1768 1234 1740 1232 1738 1232 1732 1226 1722 1226 1720 1224 1716 1224 1714 1210 1686 1198 1666 1180 1642 1166 1624 1146 1604 1128 1590 1104 1574 1080 1562 1058 1554 1056 1554 1048 1550 1038 1550 1038 1548 1032 1548 1032 1548 1024 1548 1024 1546Z"/>
<path fill="#35c4ef" fill-rule="evenodd" d="M990 1550L990 1552 982 1552 980 1552 974 1552 974 1554 964 1554 960 1556 950 1558 948 1560 942 1562 932 1566 930 1566 914 1576 896 1586 866 1610 852 1620 834 1626 806 1632 792 1638 786 1642 780 1648 774 1656 774 1664 768 1670 766 1678 764 1694 764 1696 764 1716 762 1716 762 1768 762 1770 762 2014 762 2014 762 2066 764 2068 764 2098 766 2100 766 2110 770 2116 774 2118 774 2124 778 2132 784 2140 792 2144 808 2152 834 2158 850 2164 860 2170 906 2204 916 2210 942 2222 960 2228 972 2230 972 2230 978 2230 978 2232 984 2232 986 2232 1022 2232 1022 2232 1030 2232 1030 2230 1040 2230 1042 2228 1056 2226 1068 2220 1074 2220 1098 2208 1120 2194 1140 2178 1166 2152 1182 2132 1196 2112 1206 2092 1208 2090 1226 2054 1238 2018 1238 2016 1242 2008 1242 2006 1248 1984 1248 1980 1248 1980 1248 1976 1250 1970 1250 1964 1252 1964 1252 1958 1252 1958 1252 1952 1254 1950 1254 1944 1254 1944 1254 1934 1256 1934 1256 1924 1256 1922 1256 1862 1256 1860 1256 1850 1254 1848 1252 1826 1252 1824 1252 1820 1250 1818 1246 1794 1246 1794 1242 1778 1240 1774 1240 1772 1238 1764 1238 1762 1234 1750 1232 1746 1230 1742 1228 1738 1228 1734 1216 1710 1216 1708 1202 1680 1184 1654 1170 1636 1142 1608 1126 1594 1100 1576 1080 1566 1064 1562 1062 1560 1058 1560 1052 1556 1040 1554 1038 1554 1034 1554 1026 1552 1018 1552 1018 1550Z"/>
<path fill="#40c4ed" fill-rule="evenodd" d="M982 1560L982 1560 974 1560 974 1562 968 1562 968 1562 954 1564 932 1572 908 1584 880 1602 858 1618 846 1624 834 1628 810 1632 792 1640 786 1644 778 1652 776 1656 774 1664 770 1668 768 1672 766 1678 766 1680 764 1698 764 1700 764 1720 762 1722 762 1782 762 1784 762 2000 762 2000 762 2062 764 2062 764 2096 766 2096 766 2108 770 2114 774 2118 774 2124 778 2130 786 2140 792 2144 804 2148 824 2154 826 2154 828 2154 830 2156 832 2156 834 2156 836 2156 848 2160 862 2168 878 2180 908 2200 936 2212 954 2218 970 2222 972 2222 990 2224 992 2224 1006 2224 1008 2224 1018 2224 1020 2222 1032 2222 1032 2220 1036 2220 1038 2220 1048 2218 1056 2214 1058 2214 1062 2212 1072 2210 1078 2206 1080 2206 1106 2192 1122 2180 1146 2160 1166 2136 1184 2112 1200 2086 1214 2058 1214 2056 1218 2052 1218 2050 1220 2044 1224 2034 1226 2032 1232 2014 1232 2010 1234 2004 1234 2000 1240 1980 1242 1966 1244 1964 1246 1946 1246 1944 1246 1938 1248 1936 1248 1912 1250 1912 1250 1872 1248 1870 1248 1856 1248 1856 1246 1838 1246 1838 1246 1832 1244 1830 1242 1808 1240 1808 1240 1800 1238 1798 1236 1784 1234 1780 1234 1776 1224 1746 1214 1724 1214 1722 1198 1692 1182 1666 1166 1646 1136 1616 1124 1606 1098 1588 1078 1576 1048 1566 1030 1562 1030 1562 1016 1560 1014 1560Z"/>
<path fill="#4ac3eb" fill-rule="evenodd" d="M978 1568L978 1568 970 1568 968 1570 958 1570 928 1580 902 1592 866 1616 850 1624 832 1630 808 1634 798 1638 782 1648 776 1658 776 1664 770 1668 768 1672 766 1680 766 1682 766 1688 764 1690 764 1702 764 1704 764 1724 762 1726 762 1798 762 1798 762 1984 762 1986 762 2058 764 2058 764 2094 766 2094 766 2106 768 2112 774 2118 776 2124 778 2130 788 2138 800 2146 814 2150 834 2154 852 2160 874 2174 882 2180 902 2190 904 2192 930 2204 948 2210 960 2212 962 2214 974 2214 974 2216 998 2216 1000 2216 1020 2214 1022 2214 1026 2214 1028 2212 1032 2212 1032 2212 1044 2210 1068 2200 1096 2186 1110 2176 1130 2162 1154 2136 1176 2108 1194 2080 1208 2052 1208 2050 1212 2044 1212 2042 1218 2030 1218 2024 1220 2022 1224 2010 1224 2006 1228 2000 1228 1996 1234 1976 1236 1960 1238 1954 1238 1942 1240 1940 1240 1920 1242 1920 1242 1886 1242 1886 1240 1852 1240 1852 1240 1844 1238 1842 1238 1836 1238 1834 1236 1818 1234 1816 1234 1812 1232 1808 1232 1804 1232 1802 1228 1788 1218 1754 1216 1750 1212 1738 1208 1732 1208 1730 1196 1706 1194 1704 1186 1688 1164 1658 1152 1644 1132 1624 1120 1614 1096 1598 1074 1586 1072 1586 1066 1582 1046 1574 1042 1574 1038 1572 1034 1572 1030 1570 1026 1570 1024 1570 1010 1568 1010 1568Z"/>
<path fill="#56c4e8" fill-rule="evenodd" d="M980 1574L978 1576 968 1576 968 1576 956 1578 954 1578 942 1580 936 1584 932 1584 930 1586 914 1590 892 1602 870 1616 850 1626 838 1630 810 1636 796 1640 786 1648 780 1654 776 1658 776 1664 770 1668 768 1674 766 1682 766 1684 766 1692 764 1692 764 1730 762 1730 762 1818 762 1818 762 2052 764 2054 764 2090 766 2092 766 2100 766 2100 766 2104 768 2112 770 2114 776 2118 776 2124 780 2130 794 2142 810 2148 840 2154 862 2164 886 2178 910 2190 912 2190 918 2194 942 2202 958 2206 960 2206 964 2206 966 2208 974 2208 974 2208 1002 2208 1004 2208 1012 2208 1012 2206 1018 2206 1020 2206 1028 2204 1052 2198 1056 2196 1062 2194 1092 2178 1116 2162 1130 2148 1152 2126 1170 2104 1186 2078 1202 2048 1202 2046 1206 2038 1210 2024 1212 2020 1222 1992 1222 1990 1226 1976 1226 1972 1228 1968 1228 1964 1228 1962 1228 1958 1230 1956 1230 1952 1232 1944 1232 1938 1232 1936 1232 1928 1234 1928 1234 1916 1234 1914 1234 1868 1234 1868 1234 1856 1232 1856 1232 1846 1232 1846 1230 1832 1230 1832 1230 1826 1228 1826 1226 1806 1224 1806 1222 1794 1220 1790 1220 1788 1218 1784 1218 1780 1210 1758 1208 1754 1204 1742 1200 1736 1200 1734 1186 1706 1174 1686 1150 1656 1124 1628 1112 1620 1092 1606 1068 1592 1066 1592 1062 1590 1042 1582 1040 1582 1036 1580 1028 1580 1022 1578 1010 1576 1010 1576 1000 1576 998 1574Z"/>
<path fill="#60c7e2" fill-rule="evenodd" d="M974 1582L972 1582 962 1582 962 1584 956 1584 954 1584 946 1586 918 1594 908 1598 906 1598 872 1616 870 1618 848 1628 824 1634 816 1636 798 1642 788 1648 778 1656 776 1660 776 1664 770 1668 768 1674 766 1684 766 1686 766 1694 764 1696 764 1734 762 1736 762 1938 762 1938 762 2048 764 2048 764 2072 764 2074 766 2098 766 2098 766 2104 770 2112 776 2118 776 2122 780 2128 788 2136 796 2140 808 2146 838 2152 852 2158 904 2184 906 2184 910 2186 932 2194 936 2194 940 2196 944 2196 948 2198 952 2198 954 2200 968 2200 970 2202 998 2202 1000 2200 1008 2200 1008 2200 1020 2198 1048 2190 1062 2184 1064 2184 1086 2172 1106 2158 1124 2142 1146 2120 1166 2094 1182 2070 1192 2048 1192 2046 1202 2026 1214 1994 1214 1990 1220 1970 1220 1966 1220 1964 1220 1960 1222 1954 1222 1950 1224 1948 1224 1936 1226 1934 1226 1912 1228 1912 1228 1872 1226 1872 1226 1858 1226 1858 1224 1842 1224 1840 1224 1834 1222 1834 1222 1828 1222 1828 1220 1814 1218 1812 1214 1794 1212 1790 1212 1786 1204 1760 1196 1746 1196 1744 1182 1716 1164 1686 1146 1662 1130 1646 1112 1630 1088 1612 1062 1598 1034 1588 1032 1588 1022 1586 1018 1586 1018 1584 1014 1584 1012 1584 996 1582 994 1582Z"/>
<path fill="#67c8dd" fill-rule="evenodd" d="M962 1588L960 1590 954 1590 952 1590 948 1590 946 1592 930 1594 894 1608 876 1618 874 1618 860 1624 858 1624 850 1628 830 1634 826 1634 824 1636 810 1638 798 1642 786 1650 780 1656 776 1664 772 1666 770 1670 766 1680 766 1686 766 1688 764 1712 764 1714 764 1740 762 1740 762 2042 764 2042 764 2070 764 2070 766 2094 766 2096 766 2102 768 2102 768 2110 770 2114 776 2118 776 2120 780 2128 794 2138 812 2146 840 2152 854 2156 898 2178 928 2188 932 2188 940 2192 944 2192 946 2192 958 2194 958 2194 986 2196 988 2194 1006 2194 1008 2192 1012 2192 1012 2192 1016 2192 1018 2190 1022 2190 1030 2188 1032 2188 1052 2180 1056 2178 1058 2178 1078 2168 1094 2156 1114 2142 1138 2116 1152 2100 1164 2082 1166 2080 1176 2064 1180 2056 1182 2054 1194 2026 1206 1992 1206 1988 1208 1984 1208 1982 1212 1972 1212 1968 1214 1964 1216 1948 1216 1948 1216 1942 1218 1940 1218 1934 1218 1934 1220 1912 1220 1910 1220 1874 1220 1872 1220 1860 1218 1858 1218 1842 1216 1842 1214 1820 1212 1818 1208 1796 1206 1792 1206 1788 1194 1756 1176 1720 1168 1706 1152 1682 1136 1664 1116 1644 1096 1628 1074 1614 1054 1604 1032 1596 1028 1596 1016 1592 1012 1592 1010 1590 1006 1590 1004 1590 998 1590 996 1588Z"/>
<path fill="#69c6d7" fill-rule="evenodd" d="M958 1596L958 1596 942 1598 942 1598 938 1598 936 1600 932 1600 932 1600 920 1602 888 1614 882 1618 880 1618 876 1620 874 1620 854 1630 832 1636 828 1636 828 1636 812 1640 800 1644 788 1650 778 1660 778 1664 774 1666 770 1672 768 1678 768 1682 766 1684 766 1690 766 1690 764 1716 764 1718 764 1748 762 1748 762 2034 764 2036 764 2064 764 2066 766 2092 766 2094 766 2100 768 2100 768 2104 770 2112 778 2118 780 2124 786 2132 792 2136 812 2144 842 2150 858 2156 878 2164 880 2164 884 2168 886 2168 892 2170 920 2180 922 2180 932 2184 936 2184 936 2184 940 2184 942 2186 956 2186 956 2188 990 2188 990 2186 998 2186 998 2186 1014 2184 1034 2178 1038 2176 1050 2172 1078 2156 1098 2142 1112 2130 1136 2106 1152 2084 1170 2056 1184 2028 1184 2026 1190 2012 1200 1980 1200 1978 1204 1964 1206 1950 1208 1950 1210 1930 1210 1928 1212 1896 1212 1896 1212 1866 1210 1864 1210 1856 1210 1854 1210 1848 1208 1846 1206 1828 1206 1828 1206 1824 1204 1818 1204 1814 1202 1814 1200 1802 1192 1774 1182 1754 1182 1752 1170 1728 1158 1708 1144 1688 1126 1666 1106 1648 1088 1634 1070 1622 1046 1610 1028 1604 1024 1604 1012 1600 1004 1598 1002 1598 988 1596 986 1596Z"/>
<path fill="#6bc6d2" fill-rule="evenodd" d="M950 1602L948 1604 934 1604 934 1606 924 1606 912 1610 910 1610 850 1632 812 1642 800 1646 786 1654 780 1660 778 1664 772 1670 768 1676 768 1684 766 1686 766 1692 766 1694 766 1704 764 1706 764 1756 762 1756 762 2026 764 2028 764 2060 764 2062 766 2090 766 2090 766 2098 768 2098 768 2102 770 2110 772 2114 778 2118 780 2124 794 2134 810 2142 852 2152 862 2156 870 2158 878 2162 882 2162 886 2164 890 2166 894 2168 916 2174 932 2178 934 2178 938 2178 940 2180 970 2182 970 2180 994 2180 994 2178 1004 2178 1006 2176 1016 2174 1040 2166 1064 2154 1080 2144 1104 2126 1124 2104 1138 2088 1154 2064 1162 2050 1164 2048 1180 2014 1192 1982 1192 1978 1196 1962 1198 1948 1200 1946 1200 1934 1202 1934 1202 1926 1202 1924 1202 1914 1204 1914 1204 1870 1202 1870 1202 1858 1202 1858 1202 1850 1200 1850 1200 1844 1200 1842 1200 1836 1198 1836 1196 1822 1196 1820 1192 1806 1190 1802 1190 1798 1178 1762 1166 1740 1164 1738 1162 1730 1152 1716 1150 1712 1138 1694 1122 1676 1106 1660 1080 1640 1062 1628 1036 1616 1016 1608 998 1606 998 1604 992 1604 992 1604 984 1604 982 1602Z"/>
<path fill="#6cc5cc" fill-rule="evenodd" d="M946 1608L946 1610 936 1610 936 1610 930 1610 928 1612 910 1614 906 1616 896 1618 876 1626 872 1628 858 1632 854 1632 850 1634 848 1634 834 1638 822 1640 802 1646 792 1650 782 1658 778 1664 772 1668 770 1674 768 1682 768 1686 766 1688 766 1708 764 1708 764 1764 762 1766 762 2018 764 2018 764 2056 764 2058 766 2086 766 2088 766 2094 768 2096 768 2100 768 2102 770 2108 772 2112 778 2118 780 2122 790 2130 806 2138 852 2150 896 2164 898 2164 914 2170 918 2170 918 2170 922 2170 928 2172 934 2172 934 2174 942 2174 944 2174 976 2174 978 2174 986 2174 986 2172 1002 2170 1022 2164 1026 2162 1038 2158 1062 2146 1078 2136 1098 2118 1116 2100 1138 2074 1152 2052 1168 2020 1168 2018 1176 2004 1184 1980 1184 1976 1186 1972 1188 1960 1190 1956 1190 1952 1190 1950 1192 1932 1194 1932 1194 1924 1194 1924 1194 1912 1196 1912 1196 1872 1194 1870 1194 1860 1194 1858 1192 1844 1192 1844 1190 1832 1186 1818 1186 1814 1184 1810 1184 1804 1176 1782 1174 1780 1170 1768 1158 1740 1156 1738 1148 1724 1128 1696 1114 1680 1102 1668 1078 1648 1052 1632 1032 1622 1028 1622 1024 1620 1012 1616 1010 1616 1000 1612 996 1612 996 1612 992 1612 990 1610 974 1610 974 1608Z"/>
<path fill="#6dc4c6" fill-rule="evenodd" d="M938 1614L936 1616 922 1616 920 1618 912 1618 906 1620 902 1620 888 1626 884 1626 874 1630 872 1630 862 1634 858 1634 854 1636 806 1646 792 1652 782 1660 772 1670 770 1676 770 1678 768 1684 768 1690 766 1690 766 1710 764 1712 764 1774 762 1774 762 2008 764 2010 764 2052 764 2054 764 2070 766 2072 766 2084 766 2084 768 2098 772 2112 784 2126 800 2134 820 2140 824 2140 828 2142 832 2142 842 2146 850 2146 854 2148 864 2150 898 2162 914 2164 916 2166 920 2166 920 2166 934 2168 936 2168 972 2168 974 2168 980 2168 982 2166 992 2166 994 2164 1004 2162 1012 2160 1014 2160 1018 2158 1022 2156 1032 2152 1034 2152 1058 2138 1070 2130 1090 2116 1114 2092 1132 2068 1146 2046 1160 2018 1160 2016 1164 2010 1168 2000 1170 1996 1178 1972 1178 1968 1180 1960 1180 1956 1182 1950 1182 1946 1184 1944 1184 1940 1186 1932 1186 1926 1186 1924 1186 1914 1188 1914 1188 1870 1186 1868 1186 1852 1184 1850 1184 1844 1184 1844 1184 1838 1182 1838 1180 1824 1180 1822 1178 1812 1174 1804 1174 1802 1164 1772 1152 1746 1150 1744 1144 1732 1132 1714 1112 1690 1092 1670 1068 1650 1052 1640 1030 1630 1008 1622 1004 1622 992 1618 980 1616 980 1616 972 1616 970 1614Z"/>
<path fill="#6dc4c0" fill-rule="evenodd" d="M936 1620L934 1620 918 1622 916 1622 912 1622 910 1624 902 1624 896 1626 892 1626 884 1630 878 1630 874 1632 866 1634 862 1636 860 1636 846 1640 838 1640 832 1642 824 1644 818 1646 814 1646 810 1648 802 1650 790 1654 780 1662 778 1664 774 1668 770 1676 768 1684 768 1686 768 1692 766 1692 766 1714 764 1716 764 1734 764 1734 764 1784 762 1786 762 1998 764 1998 764 2048 764 2048 764 2068 766 2068 766 2080 766 2082 768 2096 772 2110 784 2124 800 2132 814 2138 832 2140 836 2142 840 2142 846 2144 850 2144 862 2148 868 2150 872 2152 884 2154 888 2156 904 2158 906 2160 910 2160 910 2160 922 2162 924 2162 932 2162 932 2164 964 2164 964 2162 980 2162 980 2160 990 2160 1002 2156 1004 2156 1024 2148 1046 2138 1068 2122 1084 2110 1106 2088 1120 2070 1130 2056 1132 2054 1142 2038 1146 2030 1148 2028 1158 2004 1166 1982 1166 1978 1170 1972 1170 1968 1174 1956 1174 1952 1174 1950 1174 1946 1176 1940 1178 1928 1178 1926 1180 1902 1180 1900 1180 1882 1180 1882 1180 1866 1178 1866 1178 1856 1178 1856 1176 1838 1174 1836 1174 1832 1174 1832 1174 1828 1172 1826 1170 1816 1162 1788 1154 1772 1154 1770 1136 1734 1126 1720 1106 1694 1086 1676 1066 1658 1044 1644 1028 1636 1000 1626 998 1626 988 1624 984 1624 984 1622 972 1622 970 1620 962 1620 960 1620Z"/>
<path fill="#6dc3b9" fill-rule="evenodd" d="M932 1622L930 1624 920 1624 920 1624 902 1626 900 1628 892 1628 892 1630 888 1630 888 1630 884 1630 884 1632 880 1632 852 1640 848 1640 842 1642 838 1642 838 1642 834 1642 832 1644 828 1644 828 1644 810 1648 798 1652 782 1660 772 1670 770 1674 768 1682 768 1686 768 1688 768 1694 766 1694 766 1716 764 1718 764 1736 764 1738 764 1792 762 1792 762 1990 764 1992 764 2046 764 2046 764 2066 766 2066 766 2088 768 2090 768 2096 768 2096 768 2100 770 2108 774 2114 778 2116 780 2120 794 2130 796 2130 802 2132 810 2136 814 2136 822 2138 826 2138 828 2140 832 2140 832 2140 836 2140 842 2142 846 2142 850 2144 854 2144 856 2146 858 2146 860 2146 862 2146 864 2148 866 2148 896 2156 904 2156 906 2158 918 2158 920 2160 928 2160 928 2160 960 2160 960 2160 970 2160 970 2158 976 2158 976 2158 982 2158 986 2156 990 2156 1012 2148 1016 2146 1022 2144 1050 2130 1070 2116 1084 2104 1100 2088 1122 2062 1138 2036 1146 2020 1146 2018 1156 1996 1166 1966 1168 1954 1170 1948 1170 1944 1172 1942 1172 1932 1174 1930 1174 1924 1174 1922 1174 1912 1176 1912 1176 1872 1174 1870 1174 1852 1172 1852 1172 1840 1170 1840 1170 1836 1170 1834 1166 1818 1158 1790 1150 1774 1150 1772 1138 1748 1130 1734 1118 1718 1098 1694 1078 1674 1056 1658 1036 1646 1020 1638 1000 1630 998 1630 994 1628 986 1628 980 1626 968 1624 968 1624 958 1624 958 1622Z"/>
<path fill="#6ec2b3" fill-rule="evenodd" d="M926 1626L924 1626 916 1626 914 1628 896 1630 896 1630 882 1632 882 1634 878 1634 870 1636 866 1636 852 1640 848 1640 848 1642 844 1642 842 1642 838 1642 838 1644 834 1644 832 1644 828 1644 828 1646 810 1648 792 1656 780 1662 774 1670 770 1676 768 1682 768 1688 768 1688 768 1694 766 1696 766 1718 764 1718 764 1740 764 1740 764 1800 762 1800 762 1982 764 1984 764 2042 764 2044 764 2064 766 2064 766 2078 766 2078 768 2094 768 2096 768 2100 772 2110 782 2122 796 2130 822 2138 846 2142 852 2144 856 2144 864 2146 868 2146 870 2148 872 2148 882 2150 886 2150 890 2152 900 2154 900 2154 912 2156 914 2156 922 2156 924 2158 958 2158 960 2156 974 2156 974 2154 992 2152 1020 2142 1038 2132 1056 2120 1074 2108 1096 2086 1112 2068 1128 2044 1136 2028 1138 2026 1148 2004 1158 1978 1158 1974 1160 1970 1160 1968 1164 1956 1164 1952 1166 1950 1166 1946 1168 1940 1168 1936 1168 1934 1168 1928 1170 1928 1170 1906 1172 1906 1172 1878 1170 1878 1170 1864 1170 1864 1168 1848 1168 1848 1168 1842 1166 1842 1166 1832 1164 1828 1164 1824 1154 1792 1152 1788 1148 1776 1134 1750 1126 1736 1108 1710 1092 1692 1076 1678 1060 1666 1034 1648 1014 1640 1010 1638 998 1634 994 1634 982 1630 974 1628 972 1628 956 1626 956 1626Z"/>
<path fill="#6fc2ae" fill-rule="evenodd" d="M918 1628L918 1630 910 1630 908 1630 896 1632 896 1632 876 1636 872 1638 868 1638 862 1640 854 1640 848 1642 838 1644 838 1644 834 1644 832 1646 828 1646 828 1646 824 1646 822 1648 818 1648 818 1648 806 1650 796 1654 782 1662 774 1668 772 1674 768 1684 768 1696 766 1698 766 1720 764 1720 764 1742 764 1744 764 1808 762 1808 762 1974 764 1976 764 2040 764 2040 764 2062 766 2062 766 2076 766 2076 768 2094 768 2094 770 2106 774 2112 780 2120 786 2124 798 2130 810 2134 814 2134 822 2136 826 2136 828 2138 832 2138 832 2138 836 2138 838 2140 842 2140 842 2140 846 2140 848 2142 852 2142 852 2142 856 2142 858 2144 866 2144 876 2148 880 2148 884 2150 906 2152 908 2154 916 2154 916 2154 942 2156 944 2154 966 2154 966 2152 972 2152 972 2152 976 2152 978 2150 992 2148 1014 2140 1036 2128 1056 2116 1080 2096 1100 2076 1116 2054 1128 2034 1142 2010 1142 2008 1146 2000 1148 1990 1150 1988 1158 1966 1158 1962 1160 1954 1160 1950 1162 1948 1162 1944 1162 1944 1162 1940 1164 1938 1164 1926 1166 1924 1166 1916 1166 1916 1168 1888 1166 1886 1166 1858 1164 1858 1164 1852 1164 1850 1164 1844 1162 1844 1160 1830 1160 1828 1158 1818 1154 1810 1154 1808 1144 1780 1134 1758 1132 1756 1126 1744 1108 1718 1088 1694 1072 1680 1054 1666 1032 1652 1006 1640 988 1634 972 1632 970 1630 964 1630 964 1630 956 1630 956 1628Z"/>
<path fill="#71c2a9" fill-rule="evenodd" d="M924 1630L922 1632 910 1632 910 1632 890 1634 888 1636 884 1636 884 1636 880 1636 878 1638 874 1638 874 1638 870 1638 868 1640 864 1640 864 1640 860 1640 858 1642 854 1642 854 1642 850 1642 848 1644 844 1644 838 1646 834 1646 832 1646 828 1646 828 1648 824 1648 822 1648 818 1648 818 1650 814 1650 810 1652 806 1652 798 1654 792 1658 790 1658 788 1660 778 1664 776 1668 772 1674 768 1684 768 1698 766 1698 766 1722 764 1722 764 1746 764 1746 762 1964 764 1966 764 2036 764 2036 764 2060 766 2060 766 2084 768 2086 768 2098 770 2098 770 2102 772 2108 774 2114 778 2118 788 2124 800 2130 810 2132 814 2134 818 2134 822 2136 826 2136 828 2136 832 2136 838 2138 842 2138 844 2140 848 2140 848 2140 852 2140 854 2142 858 2142 858 2142 862 2142 864 2144 868 2144 868 2144 872 2144 874 2146 878 2146 878 2146 882 2146 888 2148 894 2148 900 2150 908 2150 908 2152 918 2152 920 2152 946 2152 948 2152 964 2150 966 2150 970 2150 970 2148 974 2148 976 2148 980 2148 988 2144 990 2144 1002 2140 1008 2138 1028 2128 1050 2116 1066 2102 1090 2080 1102 2066 1116 2048 1116 2044 1126 2030 1130 2020 1132 2018 1142 1996 1150 1974 1150 1972 1152 1968 1152 1964 1154 1960 1156 1952 1158 1948 1160 1932 1160 1930 1160 1924 1162 1922 1162 1914 1162 1912 1162 1872 1162 1870 1162 1860 1160 1860 1160 1854 1160 1852 1160 1846 1158 1846 1156 1832 1156 1830 1152 1816 1140 1780 1120 1744 1104 1720 1088 1700 1068 1682 1054 1670 1034 1658 1010 1646 986 1638 984 1638 974 1634 970 1634 970 1634 956 1632 956 1632 944 1632 944 1630Z"/>
<path fill="#72c2a5" fill-rule="evenodd" d="M912 1634L910 1634 902 1634 902 1636 894 1636 894 1636 876 1638 876 1640 872 1640 870 1640 866 1640 860 1642 856 1642 854 1644 850 1644 844 1646 840 1646 838 1646 834 1646 828 1648 818 1650 806 1654 802 1654 796 1656 794 1656 778 1666 772 1672 772 1674 770 1678 770 1680 768 1686 768 1692 768 1692 766 1710 766 1710 764 1750 764 1750 762 1954 764 1954 764 2032 764 2034 766 2072 766 2074 766 2082 768 2084 768 2090 768 2092 770 2102 774 2112 778 2118 798 2128 818 2134 822 2134 822 2134 826 2134 832 2136 838 2136 844 2138 848 2138 850 2140 854 2140 860 2142 864 2142 866 2142 870 2142 876 2144 880 2144 886 2146 892 2146 894 2148 900 2148 900 2148 908 2148 910 2150 950 2150 950 2148 958 2148 958 2148 970 2146 970 2146 986 2142 1008 2134 1012 2132 1014 2132 1032 2122 1048 2112 1068 2096 1088 2076 1102 2058 1124 2026 1136 2002 1148 1966 1148 1964 1152 1950 1154 1936 1156 1936 1156 1922 1158 1920 1158 1910 1158 1910 1158 1874 1158 1872 1158 1862 1156 1862 1156 1854 1156 1854 1154 1842 1154 1842 1154 1838 1152 1836 1152 1832 1152 1832 1150 1820 1142 1796 1134 1780 1134 1778 1120 1752 1108 1732 1086 1706 1070 1690 1050 1672 1030 1660 1010 1650 994 1644 992 1642 988 1642 978 1638 974 1638 972 1638 964 1636 962 1636 958 1636 956 1634 948 1634 948 1634Z"/>
<path fill="#74c3a1" fill-rule="evenodd" d="M914 1636L912 1636 902 1636 900 1638 880 1640 874 1642 868 1642 868 1642 862 1642 856 1644 828 1648 826 1650 822 1650 822 1650 818 1650 816 1652 806 1654 792 1658 780 1664 774 1670 772 1676 770 1682 770 1686 768 1688 768 1692 768 1694 768 1700 766 1702 766 1726 764 1726 764 1752 764 1754 762 1940 764 1942 764 2030 764 2030 764 2056 766 2058 766 2082 768 2082 768 2090 768 2090 770 2100 774 2112 778 2118 802 2128 806 2128 818 2132 832 2134 832 2136 850 2138 850 2138 866 2140 868 2142 884 2144 884 2144 898 2146 900 2146 910 2146 910 2148 942 2148 942 2146 958 2146 960 2144 964 2144 964 2144 968 2144 970 2142 980 2140 998 2134 1018 2126 1020 2124 1032 2118 1062 2096 1094 2064 1106 2048 1120 2024 1134 1996 1144 1966 1144 1962 1148 1950 1150 1936 1152 1934 1152 1920 1154 1920 1154 1908 1154 1908 1154 1876 1154 1874 1152 1856 1152 1854 1150 1844 1150 1842 1150 1838 1148 1838 1148 1834 1148 1832 1146 1822 1138 1796 1130 1780 1130 1778 1118 1754 1102 1732 1086 1712 1064 1688 1036 1668 1026 1662 996 1648 984 1644 980 1644 976 1642 958 1638 958 1638 940 1636 938 1636Z"/>
<path fill="#76c39c" fill-rule="evenodd" d="M916 1638L916 1638 900 1638 900 1640 876 1642 876 1642 870 1642 870 1644 864 1644 864 1644 858 1644 858 1646 840 1648 838 1648 834 1648 832 1650 828 1650 826 1650 812 1652 798 1656 778 1666 772 1674 770 1684 768 1694 768 1694 768 1702 766 1702 766 1728 764 1728 764 1756 764 1758 764 1860 762 1862 764 2026 764 2026 766 2068 766 2070 766 2080 768 2080 768 2094 770 2096 770 2100 772 2106 776 2114 780 2118 796 2126 806 2128 808 2128 818 2132 822 2132 822 2132 826 2132 828 2134 832 2134 832 2134 844 2136 846 2136 850 2136 852 2138 856 2138 858 2138 862 2138 864 2140 868 2140 876 2142 882 2142 882 2142 888 2142 890 2144 898 2144 898 2144 932 2146 934 2144 952 2144 954 2142 958 2142 960 2142 976 2138 1000 2130 1018 2122 1042 2106 1064 2090 1088 2064 1098 2050 1114 2028 1128 2000 1128 1998 1130 1994 1134 1984 1136 1980 1138 1972 1138 1968 1140 1964 1140 1962 1142 1958 1144 1950 1146 1940 1146 1934 1148 1934 1148 1920 1150 1918 1150 1908 1150 1906 1150 1876 1150 1876 1150 1864 1148 1864 1148 1856 1148 1856 1148 1850 1146 1848 1146 1838 1144 1838 1140 1818 1130 1788 1118 1764 1116 1762 1110 1750 1092 1724 1080 1710 1066 1696 1044 1678 1024 1664 1002 1654 980 1646 976 1646 964 1642 958 1642 952 1640 944 1640 944 1638Z"/>
<path fill="#7ac495" fill-rule="evenodd" d="M804 1656L792 1660 782 1664 778 1666 774 1670 770 1684 768 1694 768 1696 768 1704 766 1704 766 1714 766 1716 764 1760 764 1760 764 2022 764 2024 764 2052 766 2054 766 2078 768 2080 768 2094 770 2094 770 2098 772 2106 776 2114 778 2116 802 2126 804 2126 808 2128 820 2130 822 2132 826 2132 828 2132 832 2132 834 2134 838 2134 846 2136 852 2136 858 2138 864 2138 872 2140 878 2140 878 2140 896 2142 896 2142 924 2144 924 2142 940 2142 940 2142 954 2140 956 2140 972 2136 1000 2126 1018 2118 1040 2104 1056 2092 1074 2074 1088 2058 1106 2032 1124 1998 1124 1996 1130 1982 1136 1964 1136 1962 1140 1948 1142 1934 1144 1934 1144 1920 1146 1918 1146 1908 1146 1906 1146 1876 1146 1876 1146 1864 1144 1864 1144 1856 1144 1856 1144 1850 1142 1848 1140 1834 1140 1834 1138 1822 1136 1818 1136 1816 1126 1790 1114 1764 1112 1762 1106 1752 1096 1736 1082 1718 1056 1692 1042 1680 1016 1664 996 1654 976 1648 972 1648 964 1644 960 1644 958 1644 954 1644 954 1642 940 1642 938 1640 898 1640 898 1642 888 1642 888 1642 880 1642 880 1644 860 1646 852 1648 846 1648 840 1650 834 1650 832 1650 822 1652 820 1652 816 1652 816 1654Z"/>
<path fill="#80c48c" fill-rule="evenodd" d="M804 1656L792 1660 786 1664 778 1666 776 1670 772 1678 772 1680 770 1686 768 1696 768 1698 768 1704 766 1706 766 1716 766 1716 764 1764 764 1764 764 2018 764 2020 764 2050 766 2052 766 2076 768 2078 768 2092 770 2094 770 2098 772 2108 778 2116 804 2126 808 2126 816 2130 820 2130 822 2130 838 2132 840 2134 846 2134 846 2134 852 2134 854 2136 860 2136 860 2136 866 2136 868 2138 874 2138 874 2138 882 2138 884 2140 892 2140 894 2140 934 2140 936 2140 944 2140 944 2138 950 2138 952 2138 960 2136 984 2130 1000 2122 1002 2122 1018 2114 1032 2106 1054 2088 1078 2064 1092 2046 1108 2022 1122 1994 1132 1968 1132 1964 1134 1960 1134 1958 1136 1948 1136 1944 1138 1944 1138 1940 1140 1934 1140 1920 1142 1920 1142 1908 1142 1908 1142 1876 1142 1874 1142 1864 1140 1864 1140 1850 1138 1848 1138 1844 1138 1844 1138 1840 1136 1838 1136 1834 1136 1834 1134 1822 1126 1798 1120 1788 1120 1786 1102 1752 1092 1738 1076 1718 1054 1696 1036 1680 1018 1670 994 1658 972 1650 968 1650 960 1646 956 1646 950 1644 944 1644 942 1644 934 1644 934 1642 896 1642 894 1644 886 1644 884 1644 876 1644 876 1646 868 1646 868 1646 862 1646 860 1648 834 1650 832 1652 822 1652 820 1654Z"/>
<path fill="#85c682" fill-rule="evenodd" d="M806 1656L782 1666 778 1666 774 1672 770 1682 770 1686 768 1692 768 1706 766 1708 766 1718 766 1718 764 1768 764 1768 764 2014 764 2016 766 2064 766 2066 766 2076 768 2076 768 2092 770 2092 772 2104 778 2116 786 2118 790 2120 804 2126 820 2128 822 2130 826 2130 826 2130 832 2130 834 2132 846 2132 848 2134 854 2134 854 2134 862 2134 862 2136 870 2136 870 2136 878 2136 878 2138 888 2138 890 2138 932 2138 932 2138 940 2138 940 2136 946 2136 948 2136 962 2134 966 2132 978 2128 982 2126 992 2124 998 2120 1000 2120 1016 2112 1032 2100 1052 2086 1074 2064 1086 2048 1102 2024 1116 1996 1116 1994 1120 1990 1122 1980 1124 1976 1126 1968 1130 1960 1130 1958 1134 1944 1134 1940 1134 1940 1134 1934 1136 1928 1136 1920 1138 1920 1138 1910 1138 1910 1138 1874 1138 1872 1136 1856 1136 1854 1134 1844 1132 1838 1132 1834 1132 1834 1130 1822 1122 1802 1116 1786 1116 1784 1098 1752 1082 1730 1072 1718 1052 1698 1036 1686 1014 1670 994 1660 968 1652 966 1652 956 1648 952 1648 952 1648 940 1646 938 1646 930 1646 930 1644 892 1644 892 1646 880 1646 880 1646 872 1646 870 1648 864 1648 862 1648 856 1648 854 1650 848 1650 848 1650 834 1652 832 1652 828 1652 826 1654 822 1654 820 1654 816 1654 810 1656Z"/>
<path fill="#8bc678" fill-rule="evenodd" d="M798 1660L784 1666 780 1666 776 1668 772 1676 770 1682 770 1692 768 1692 768 1698 768 1700 766 1720 766 1720 766 1736 764 1738 764 1772 764 1772 764 2010 764 2010 764 2046 766 2046 766 2074 768 2076 770 2096 770 2096 772 2106 778 2116 782 2116 786 2118 806 2126 820 2128 820 2128 826 2128 826 2130 846 2132 848 2132 856 2132 856 2134 872 2134 874 2136 884 2136 884 2136 928 2136 930 2136 944 2134 944 2134 948 2134 950 2132 954 2132 954 2132 966 2130 988 2122 1012 2110 1030 2098 1048 2084 1070 2062 1094 2030 1104 2012 1106 2010 1118 1982 1128 1954 1130 1936 1132 1934 1132 1930 1132 1928 1134 1912 1134 1912 1134 1872 1134 1870 1134 1862 1132 1860 1132 1854 1132 1854 1130 1838 1128 1838 1126 1822 1114 1792 1098 1758 1086 1740 1068 1720 1050 1700 1034 1688 1010 1672 990 1662 962 1652 950 1650 948 1650 944 1650 942 1648 928 1648 926 1646 886 1646 886 1648 866 1648 864 1650 858 1650 856 1650 826 1654 826 1654 820 1654 820 1656 816 1656 814 1656 810 1656 810 1658Z"/>
<path fill="#91c86f" fill-rule="evenodd" d="M810 1658L778 1668 774 1674 770 1684 770 1688 768 1694 768 1700 768 1702 768 1710 766 1710 766 1720 766 1722 764 1776 764 1778 764 2006 764 2006 764 2044 766 2044 766 2072 768 2074 768 2082 768 2082 770 2094 770 2096 772 2106 780 2116 784 2116 802 2124 820 2126 820 2128 826 2128 826 2128 848 2130 850 2132 858 2132 858 2132 868 2132 868 2134 878 2134 880 2134 924 2134 926 2134 934 2134 934 2132 950 2130 978 2122 988 2118 990 2118 1012 2106 1028 2096 1048 2078 1070 2056 1086 2034 1100 2012 1112 1988 1120 1964 1120 1960 1122 1956 1122 1954 1126 1944 1128 1928 1128 1928 1128 1922 1130 1920 1130 1912 1130 1910 1130 1872 1130 1872 1130 1862 1128 1862 1128 1856 1128 1854 1128 1850 1126 1848 1126 1844 1124 1838 1124 1834 1116 1808 1114 1804 1110 1792 1106 1786 1106 1784 1094 1760 1078 1738 1062 1718 1042 1698 1028 1688 1010 1676 992 1666 990 1666 974 1660 966 1658 962 1656 958 1656 950 1652 946 1652 944 1652 940 1652 932 1650 924 1650 922 1648 882 1648 882 1650 870 1650 868 1650 850 1652 850 1652 842 1652 842 1654 834 1654 834 1654 826 1654 826 1656Z"/>
<path fill="#98c965" fill-rule="evenodd" d="M778 1666L772 1680 770 1688 770 1690 770 1694 768 1696 768 1702 768 1702 766 1722 766 1724 766 1742 764 1742 764 1782 764 1782 764 2000 764 2002 764 2040 766 2042 766 2060 766 2060 768 2080 768 2082 770 2094 774 2108 778 2116 786 2116 802 2122 810 2124 814 2126 820 2126 826 2128 834 2128 834 2128 842 2128 842 2130 850 2130 852 2130 872 2132 874 2132 894 2132 894 2134 922 2132 922 2132 936 2130 938 2130 942 2130 942 2128 946 2128 948 2128 952 2128 960 2124 962 2124 974 2120 980 2118 984 2116 986 2116 1002 2108 1024 2094 1038 2082 1058 2064 1074 2044 1088 2024 1094 2014 1096 2012 1110 1980 1120 1952 1122 1934 1124 1934 1124 1928 1124 1928 1126 1912 1126 1910 1126 1872 1126 1872 1126 1862 1124 1862 1124 1850 1122 1848 1122 1844 1122 1844 1122 1840 1120 1838 1118 1824 1104 1788 1092 1766 1078 1742 1066 1728 1050 1712 1034 1696 1016 1684 1000 1676 998 1674 976 1664 958 1658 956 1658 946 1654 942 1654 942 1654 930 1652 928 1652 920 1652 920 1650 876 1650 874 1652 864 1652 862 1652 852 1652 852 1654 826 1656 826 1656 820 1656 820 1658 814 1658 814 1658 800 1660 784 1666Z"/>
<path fill="#a0cb5c" fill-rule="evenodd" d="M778 1666L774 1676 772 1682 770 1690 770 1690 770 1696 768 1696 768 1702 768 1704 766 1724 766 1726 766 1744 764 1744 764 1788 764 1788 764 1994 764 1996 764 2038 766 2040 766 2058 766 2058 766 2070 768 2070 768 2086 770 2088 770 2092 774 2106 778 2116 784 2116 788 2118 790 2118 798 2120 800 2120 810 2124 826 2126 826 2126 834 2126 834 2128 842 2128 844 2128 866 2130 866 2130 882 2130 884 2132 920 2130 920 2130 928 2130 928 2128 940 2128 940 2126 960 2122 972 2118 976 2116 982 2114 984 2114 1000 2106 1018 2094 1036 2080 1054 2064 1068 2048 1086 2020 1098 1998 1098 1996 1108 1978 1114 1960 1114 1956 1118 1944 1118 1934 1120 1934 1120 1928 1120 1928 1122 1912 1122 1912 1122 1872 1122 1872 1122 1862 1120 1862 1120 1850 1118 1848 1118 1844 1118 1844 1118 1840 1116 1838 1114 1828 1102 1794 1090 1770 1076 1748 1062 1728 1036 1704 1022 1692 1004 1680 974 1666 956 1660 952 1660 944 1656 940 1656 938 1656 934 1656 934 1654 918 1654 918 1652 888 1652 888 1652 868 1652 868 1654 856 1654 854 1654 844 1654 844 1656 826 1656 826 1658 820 1658 818 1658 808 1660 808 1660 796 1662 792 1664 790 1664 786 1666Z"/>
<path fill="#a8ce52" fill-rule="evenodd" d="M778 1668L774 1676 772 1682 770 1690 770 1692 770 1696 768 1698 768 1704 768 1706 766 1726 766 1726 766 1746 764 1748 764 1792 764 1794 764 1990 764 1990 764 2036 766 2036 766 2056 766 2056 766 2068 768 2070 768 2086 770 2086 770 2096 774 2108 778 2116 786 2116 790 2118 792 2118 796 2120 800 2120 808 2122 826 2124 828 2126 834 2126 836 2126 856 2128 858 2128 872 2128 874 2130 906 2130 906 2128 918 2128 918 2128 932 2126 932 2126 936 2126 938 2124 942 2124 942 2124 954 2122 980 2112 1004 2100 1018 2090 1032 2078 1050 2062 1064 2046 1082 2022 1098 1990 1098 1988 1104 1974 1112 1948 1112 1944 1114 1944 1114 1936 1116 1934 1116 1930 1116 1928 1116 1922 1118 1922 1118 1914 1118 1912 1118 1870 1118 1870 1118 1862 1116 1860 1116 1854 1114 1848 1114 1844 1114 1842 1110 1828 1108 1824 1108 1820 1104 1808 1098 1794 1098 1792 1088 1774 1070 1746 1058 1730 1034 1706 1016 1692 1002 1682 980 1672 978 1672 966 1666 946 1660 942 1660 940 1658 932 1658 930 1656 926 1656 924 1656 904 1654 904 1654 876 1654 874 1654 858 1654 858 1656 846 1656 846 1656 836 1656 834 1658 820 1658 818 1660 804 1662 802 1662 792 1664 788 1666Z"/>
<path fill="#b0d049" fill-rule="evenodd" d="M778 1668L774 1674 772 1684 770 1692 770 1692 770 1698 768 1698 768 1706 768 1706 766 1728 766 1728 766 1750 764 1750 764 1798 764 1800 764 1984 764 1984 764 2032 766 2034 766 2054 766 2056 768 2076 768 2078 770 2096 774 2106 778 2114 784 2114 796 2118 812 2122 814 2122 818 2122 820 2124 836 2124 836 2126 846 2126 848 2126 860 2126 862 2128 906 2128 908 2126 916 2126 918 2126 924 2126 924 2124 930 2124 930 2124 948 2120 974 2112 996 2100 1012 2090 1028 2078 1050 2058 1062 2044 1078 2020 1094 1992 1094 1990 1100 1974 1108 1952 1110 1936 1112 1934 1112 1930 1112 1930 1114 1916 1114 1914 1116 1884 1114 1884 1114 1860 1112 1860 1112 1854 1112 1852 1110 1838 1106 1826 1106 1824 1096 1798 1086 1778 1084 1776 1076 1760 1064 1744 1048 1724 1030 1706 1016 1696 996 1682 976 1672 944 1662 940 1662 938 1660 930 1660 930 1658 924 1658 924 1658 906 1656 904 1656 864 1656 862 1656 836 1658 836 1658 826 1658 826 1660 812 1660 812 1662 802 1662 786 1668Z"/>
<path fill="#b8d240" fill-rule="evenodd" d="M812 1662L810 1662 802 1664 800 1664 792 1666 782 1668 778 1668 774 1678 772 1688 770 1688 768 1706 768 1708 768 1716 766 1718 766 1752 764 1754 764 1806 764 1806 764 1976 764 1978 766 2052 766 2054 766 2066 768 2066 768 2082 770 2084 772 2098 778 2114 786 2114 802 2120 806 2120 812 2122 818 2122 820 2122 826 2122 828 2124 848 2124 850 2126 868 2126 870 2126 892 2126 892 2126 908 2126 908 2124 922 2124 924 2122 928 2122 930 2122 934 2122 934 2120 946 2118 968 2110 990 2100 1004 2092 1032 2070 1054 2046 1066 2032 1084 2004 1090 1992 1090 1990 1092 1984 1098 1970 1100 1966 1100 1964 1106 1946 1106 1942 1106 1940 1106 1936 1108 1930 1108 1926 1110 1924 1110 1918 1110 1916 1110 1906 1112 1904 1110 1866 1110 1866 1108 1852 1108 1852 1108 1848 1106 1846 1106 1842 1106 1842 1102 1826 1096 1808 1084 1782 1082 1780 1074 1762 1058 1742 1048 1728 1024 1706 1012 1696 988 1682 968 1672 948 1666 946 1666 938 1662 928 1662 928 1660 916 1660 916 1658 874 1656 872 1658 836 1658 836 1660 826 1660 826 1660Z"/>
<path fill="#bfd439" fill-rule="evenodd" d="M778 1668L774 1678 772 1688 770 1690 770 1700 768 1702 768 1708 768 1710 768 1718 766 1718 766 1756 764 1756 764 1812 764 1814 764 1970 764 1970 764 2026 766 2028 766 2050 766 2052 768 2074 768 2074 768 2082 770 2082 770 2094 774 2106 778 2114 788 2114 802 2118 818 2120 818 2122 836 2122 838 2124 852 2124 852 2124 896 2124 898 2124 916 2122 916 2122 922 2122 922 2120 926 2120 928 2120 932 2120 932 2118 944 2116 966 2108 984 2100 1010 2084 1026 2072 1048 2050 1060 2034 1076 2010 1086 1990 1086 1988 1094 1972 1098 1958 1100 1950 1102 1946 1102 1942 1102 1942 1104 1932 1106 1926 1106 1910 1108 1908 1108 1874 1106 1874 1106 1864 1106 1864 1106 1858 1104 1856 1102 1842 1102 1840 1100 1830 1098 1826 1098 1822 1090 1800 1080 1782 1078 1780 1072 1768 1062 1752 1046 1732 1026 1712 1008 1698 990 1686 968 1676 944 1666 940 1666 932 1664 928 1664 922 1662 916 1662 914 1660 908 1660 906 1660 896 1660 894 1658 854 1658 854 1660 838 1660 836 1660 826 1660 826 1662 818 1662 816 1662 806 1664 804 1664 796 1666 786 1668Z"/>
<path fill="#c4d635" fill-rule="evenodd" d="M778 1670L774 1676 770 1690 770 1696 768 1702 768 1710 768 1710 768 1720 766 1720 766 1758 764 1760 764 1822 764 1822 764 2024 766 2024 766 2048 766 2050 768 2072 768 2074 768 2080 770 2082 770 2086 770 2088 770 2092 772 2092 772 2096 774 2104 778 2114 786 2114 796 2116 812 2118 812 2120 818 2120 820 2120 840 2122 840 2122 866 2122 866 2124 896 2122 898 2122 906 2122 908 2120 920 2120 920 2118 938 2116 964 2106 980 2098 1008 2082 1024 2068 1042 2050 1066 2020 1074 2004 1076 2002 1086 1982 1098 1946 1098 1942 1100 1932 1100 1926 1102 1924 1102 1918 1102 1918 1102 1908 1104 1906 1104 1876 1102 1876 1102 1866 1102 1864 1100 1846 1098 1846 1094 1826 1086 1802 1076 1780 1074 1778 1068 1768 1058 1754 1042 1732 1024 1716 1004 1700 988 1688 966 1678 940 1668 938 1668 924 1664 906 1662 906 1662 896 1662 896 1660 840 1660 840 1662 828 1662 826 1662 810 1664 810 1664 804 1664 804 1666 800 1666 798 1666 794 1666 788 1668Z"/>
<path fill="#c9d832" fill-rule="evenodd" d="M778 1670L774 1678 770 1692 770 1696 768 1704 768 1712 768 1712 768 1722 766 1722 766 1762 764 1764 764 1832 764 1834 764 1950 764 1950 764 2020 766 2020 766 2046 766 2048 766 2060 768 2062 768 2070 768 2072 770 2086 770 2086 772 2100 776 2106 776 2108 778 2112 790 2114 790 2114 794 2114 796 2116 800 2116 806 2118 810 2118 812 2118 828 2120 830 2120 844 2120 846 2122 884 2122 884 2120 896 2120 898 2120 906 2120 906 2118 922 2116 924 2116 938 2112 958 2106 980 2096 994 2086 1020 2066 1038 2048 1052 2032 1070 2006 1080 1984 1080 1982 1088 1962 1088 1960 1092 1952 1092 1950 1094 1940 1096 1926 1098 1924 1098 1918 1098 1916 1098 1906 1100 1906 1100 1878 1098 1876 1098 1866 1098 1866 1096 1852 1096 1852 1096 1848 1094 1846 1094 1842 1094 1842 1092 1830 1082 1804 1070 1780 1062 1764 1048 1746 1038 1734 1022 1718 1002 1702 984 1690 968 1682 966 1682 950 1674 922 1666 912 1666 912 1664 906 1664 904 1664 896 1664 896 1662 884 1662 882 1662 828 1662 828 1664 810 1664 810 1666 798 1666 798 1668 788 1668 786 1670Z"/>
<path fill="#cfd92e" fill-rule="evenodd" d="M778 1670L776 1676 770 1692 768 1712 768 1714 768 1722 766 1724 766 1766 764 1768 764 1844 764 1846 764 1938 764 1938 764 2016 766 2016 766 2044 766 2044 766 2058 768 2060 768 2070 768 2070 770 2084 770 2086 772 2094 774 2104 778 2112 788 2112 788 2114 794 2114 794 2114 810 2116 812 2118 830 2118 832 2120 886 2120 888 2118 898 2118 898 2118 904 2118 906 2116 910 2116 912 2116 916 2116 922 2114 926 2114 954 2104 978 2092 988 2086 1006 2074 1018 2064 1036 2046 1052 2026 1064 2006 1078 1980 1086 1956 1086 1952 1090 1940 1092 1926 1094 1924 1094 1918 1094 1916 1094 1906 1096 1906 1096 1878 1094 1876 1094 1866 1094 1866 1092 1852 1092 1852 1090 1842 1086 1830 1086 1828 1078 1802 1062 1772 1052 1756 1034 1736 1018 1720 1002 1706 978 1690 960 1682 958 1682 940 1674 936 1674 932 1672 930 1672 920 1668 906 1666 904 1666 898 1666 896 1664 886 1664 886 1664 830 1664 830 1664 818 1664 818 1666 810 1666 810 1666 804 1666 802 1668 798 1668 790 1670Z"/>
<path fill="#d4db2a" fill-rule="evenodd" d="M778 1670L774 1682 774 1684 772 1690 772 1694 770 1700 770 1706 768 1706 768 1714 768 1714 768 1724 766 1726 766 1770 764 1772 764 1862 764 1864 766 2042 766 2042 766 2058 768 2058 768 2068 768 2068 770 2082 770 2084 770 2088 772 2090 772 2094 774 2104 778 2112 786 2112 786 2112 792 2112 792 2114 798 2114 804 2116 820 2116 820 2118 832 2118 834 2118 876 2118 878 2118 898 2116 898 2116 904 2116 906 2114 920 2112 944 2106 958 2098 960 2098 980 2088 994 2080 1012 2064 1034 2044 1048 2024 1058 2010 1072 1982 1072 1980 1078 1970 1084 1948 1088 1932 1088 1930 1090 1918 1090 1918 1090 1908 1092 1906 1092 1876 1090 1876 1090 1858 1088 1858 1088 1852 1088 1852 1084 1834 1076 1808 1062 1780 1048 1758 1032 1738 1014 1720 1002 1710 982 1696 962 1686 960 1686 954 1682 944 1678 940 1676 928 1674 924 1672 910 1670 910 1668 904 1668 904 1668 890 1666 888 1666 876 1666 876 1664 832 1664 832 1666 810 1666 808 1668 802 1668 802 1668 790 1670 788 1670Z"/>
<path fill="#d9dd27" fill-rule="evenodd" d="M778 1672L774 1682 772 1694 770 1696 770 1700 770 1702 770 1708 768 1708 768 1726 766 1728 766 1742 766 1744 766 1774 764 1776 764 2008 766 2008 766 2038 766 2040 766 2056 768 2056 768 2066 768 2068 770 2082 770 2082 772 2092 776 2106 778 2112 790 2112 790 2112 796 2112 798 2114 810 2114 810 2116 820 2116 820 2116 864 2118 866 2116 880 2116 882 2116 890 2116 892 2114 910 2112 942 2104 960 2094 962 2094 966 2092 974 2088 990 2078 1008 2064 1032 2040 1044 2026 1060 2000 1068 1982 1080 1952 1080 1950 1084 1936 1084 1932 1084 1932 1086 1920 1086 1918 1086 1910 1088 1908 1088 1874 1086 1874 1086 1864 1086 1864 1086 1858 1084 1856 1082 1842 1074 1816 1068 1800 1068 1798 1056 1778 1046 1760 1032 1742 1008 1720 994 1708 974 1694 952 1684 932 1676 930 1676 926 1674 922 1674 914 1672 898 1670 898 1668 882 1668 880 1666 836 1666 834 1666 818 1666 818 1668 808 1668 808 1668 802 1668 800 1670 794 1670 794 1670 788 1670 786 1672Z"/>
<path fill="#ddde26" fill-rule="evenodd" d="M778 1672L774 1684 772 1696 770 1696 770 1702 770 1702 770 1708 768 1710 768 1728 766 1728 766 1746 766 1746 766 1778 764 1780 764 2004 766 2004 766 2036 766 2038 766 2054 768 2054 768 2064 768 2066 770 2080 770 2082 772 2092 776 2104 778 2110 788 2110 788 2112 810 2114 810 2114 820 2114 820 2116 872 2116 874 2114 884 2114 884 2114 892 2114 892 2112 898 2112 900 2112 908 2110 940 2102 942 2100 950 2098 976 2084 996 2070 1010 2058 1024 2044 1038 2026 1052 2006 1064 1982 1076 1950 1078 1938 1080 1932 1082 1912 1084 1912 1084 1872 1082 1872 1082 1864 1082 1862 1082 1856 1080 1856 1078 1838 1070 1812 1058 1786 1046 1766 1034 1752 1022 1738 1002 1718 986 1706 970 1696 950 1686 924 1676 922 1676 908 1672 892 1670 892 1670 884 1670 884 1668 874 1668 872 1668 818 1668 818 1668 808 1668 806 1670 800 1670 798 1670 792 1670 792 1672Z"/>
<path fill="#e1df25" fill-rule="evenodd" d="M778 1672L774 1684 772 1696 770 1698 770 1702 770 1704 770 1710 768 1710 768 1730 766 1730 766 1748 766 1748 766 1784 764 1784 764 1998 766 2000 766 2034 766 2034 766 2052 768 2054 768 2072 770 2074 770 2086 772 2086 772 2090 772 2092 774 2102 778 2110 792 2110 794 2112 800 2112 802 2112 808 2112 810 2114 820 2114 820 2114 866 2114 866 2114 878 2114 878 2112 898 2110 900 2110 916 2106 920 2104 924 2104 936 2100 968 2086 978 2078 980 2078 1002 2060 1024 2038 1036 2024 1052 1998 1062 1980 1062 1978 1068 1966 1074 1942 1074 1938 1076 1938 1076 1928 1078 1928 1078 1922 1078 1922 1080 1902 1080 1900 1080 1882 1080 1882 1078 1862 1078 1860 1078 1856 1076 1854 1076 1850 1074 1844 1074 1840 1072 1836 1072 1830 1068 1818 1060 1802 1060 1800 1050 1780 1038 1762 1024 1744 996 1718 968 1698 946 1686 924 1678 920 1678 916 1676 908 1676 904 1674 894 1672 892 1672 886 1672 886 1670 866 1670 864 1668 818 1668 818 1670 806 1670 806 1670 798 1670 798 1672 790 1672 790 1672Z"/>
<path fill="#e5e024" fill-rule="evenodd" d="M778 1672L774 1686 772 1698 770 1698 770 1704 770 1704 770 1710 768 1712 768 1732 766 1732 766 1750 766 1752 766 1788 764 1790 764 1994 766 1994 766 2032 766 2032 766 2050 768 2052 768 2070 770 2072 772 2090 776 2104 778 2110 790 2110 792 2110 808 2112 808 2112 820 2112 820 2114 858 2114 858 2112 872 2112 872 2112 880 2112 882 2110 894 2110 894 2108 898 2108 900 2108 904 2108 904 2106 916 2104 920 2102 922 2102 932 2100 948 2092 950 2092 970 2080 990 2066 1004 2056 1018 2042 1034 2020 1048 1998 1058 1978 1070 1948 1072 1930 1074 1930 1074 1918 1076 1916 1076 1908 1076 1906 1076 1878 1076 1876 1074 1860 1074 1858 1074 1854 1070 1844 1070 1840 1062 1814 1058 1804 1058 1802 1042 1774 1032 1758 1016 1740 990 1716 970 1702 956 1696 954 1694 922 1680 920 1680 916 1678 912 1678 904 1676 888 1674 888 1672 882 1672 880 1672 858 1670 858 1670 818 1670 816 1670 806 1670 804 1672 786 1672 784 1674 780 1674Z"/>
<path fill="#e9e123" fill-rule="evenodd" d="M778 1674L774 1682 774 1686 772 1694 772 1698 770 1700 770 1712 768 1714 768 1734 766 1734 766 1754 766 1754 766 1794 764 1794 764 1988 766 1990 766 2028 766 2030 766 2048 768 2050 768 2070 770 2070 772 2088 776 2102 778 2108 806 2110 808 2112 820 2112 820 2112 850 2112 852 2112 866 2112 866 2110 876 2110 876 2110 894 2108 896 2106 900 2106 928 2098 930 2096 942 2092 958 2084 980 2070 994 2060 1018 2036 1028 2024 1040 2006 1052 1986 1052 1984 1058 1970 1066 1948 1066 1946 1068 1936 1068 1932 1070 1932 1070 1926 1072 1920 1072 1912 1072 1910 1072 1872 1072 1872 1072 1864 1070 1862 1070 1852 1068 1850 1068 1846 1068 1846 1066 1834 1060 1816 1044 1784 1032 1766 1018 1748 990 1720 980 1712 956 1698 938 1688 918 1682 916 1682 912 1680 908 1680 900 1676 884 1674 882 1674 876 1674 876 1672 852 1672 852 1670 818 1670 816 1672 804 1672 802 1672 794 1672 792 1674Z"/>
<path fill="#ede321" fill-rule="evenodd" d="M778 1674L776 1680 774 1686 772 1690 772 1694 770 1700 770 1706 770 1708 770 1714 768 1714 768 1736 766 1736 766 1756 766 1758 766 1798 764 1800 764 1984 766 1984 766 2026 766 2026 766 2046 768 2048 768 2068 770 2070 772 2088 776 2104 778 2108 794 2108 796 2110 820 2110 820 2112 844 2112 846 2110 860 2110 862 2110 870 2110 872 2108 878 2108 880 2108 890 2106 926 2096 958 2082 978 2068 994 2056 1014 2036 1026 2020 1038 2002 1052 1978 1056 1962 1058 1960 1064 1938 1066 1924 1068 1922 1068 1916 1068 1914 1068 1904 1070 1904 1070 1880 1068 1878 1068 1860 1066 1860 1066 1854 1064 1844 1064 1840 1056 1816 1050 1806 1050 1804 1036 1778 1028 1766 1014 1746 988 1722 958 1702 926 1686 914 1682 912 1682 908 1680 896 1678 890 1676 880 1676 878 1674 862 1674 860 1672 846 1672 846 1672 816 1672 816 1672 802 1672 800 1674 790 1674 790 1674Z"/>
<path fill="#f2e520" fill-rule="evenodd" d="M778 1674L772 1692 772 1696 770 1702 770 1708 770 1708 770 1714 768 1716 768 1724 768 1724 766 1760 766 1760 766 1804 764 1806 764 1978 766 1978 766 2022 766 2024 768 2058 768 2058 770 2074 770 2076 770 2080 772 2082 772 2086 772 2088 774 2094 778 2108 790 2108 792 2108 802 2108 804 2110 820 2110 820 2110 838 2110 840 2110 866 2108 868 2108 874 2108 876 2106 886 2106 888 2104 892 2104 892 2104 908 2100 930 2092 954 2082 972 2070 992 2054 1016 2030 1026 2016 1042 1990 1050 1974 1058 1952 1058 1948 1062 1936 1062 1926 1064 1926 1064 1912 1066 1910 1066 1872 1064 1872 1064 1864 1064 1864 1064 1858 1062 1856 1062 1848 1060 1846 1058 1836 1056 1832 1056 1828 1050 1810 1044 1800 1042 1794 1040 1792 1032 1776 1016 1754 1008 1746 986 1724 970 1712 952 1700 930 1690 908 1682 904 1682 892 1678 888 1678 886 1678 876 1676 874 1676 858 1674 856 1674 842 1674 842 1672 814 1672 814 1674 800 1674 798 1674Z"/>
<path fill="#f7e71e" fill-rule="evenodd" d="M778 1676L772 1692 770 1708 770 1710 770 1716 768 1718 768 1726 768 1726 766 1762 766 1764 766 1810 764 1812 764 1970 766 1972 766 2020 766 2020 766 2042 768 2044 768 2066 770 2066 770 2074 770 2074 772 2086 772 2086 774 2098 778 2108 784 2106 786 2108 818 2108 820 2110 862 2108 864 2106 870 2106 872 2106 882 2104 884 2104 892 2102 904 2098 908 2098 930 2090 946 2082 966 2070 990 2052 1012 2030 1024 2012 1034 1996 1050 1964 1056 1942 1056 1938 1058 1938 1058 1930 1060 1928 1060 1924 1060 1922 1060 1916 1062 1916 1062 1906 1062 1904 1062 1878 1062 1878 1062 1868 1060 1866 1060 1854 1058 1854 1058 1850 1058 1848 1054 1834 1046 1808 1034 1786 1016 1758 1004 1746 984 1726 970 1716 954 1704 936 1696 934 1696 920 1688 892 1680 878 1678 876 1678 872 1678 870 1676 854 1676 854 1674 838 1674 838 1674 814 1674 812 1674 796 1674 796 1676Z"/>
<path fill="#fae61c" fill-rule="evenodd" d="M778 1676L772 1694 770 1710 770 1710 770 1718 768 1718 768 1726 768 1728 766 1766 766 1766 766 1818 764 1818 764 1964 766 1966 766 2016 766 2018 766 2040 768 2042 768 2064 770 2066 770 2078 772 2080 774 2096 778 2106 798 2106 798 2108 818 2108 818 2108 850 2108 850 2106 868 2106 868 2104 884 2102 886 2102 900 2098 904 2096 908 2096 926 2090 944 2082 968 2066 988 2050 1008 2028 1022 2012 1032 1996 1042 1976 1042 1974 1044 1968 1046 1964 1050 1952 1050 1948 1054 1936 1054 1932 1056 1926 1056 1920 1058 1920 1058 1912 1058 1912 1058 1898 1060 1896 1058 1872 1058 1870 1056 1856 1056 1856 1054 1846 1050 1834 1050 1832 1046 1820 1044 1814 1032 1790 1012 1760 1002 1746 980 1726 968 1716 950 1706 936 1698 934 1698 926 1694 916 1690 914 1688 884 1680 880 1680 880 1680 874 1680 868 1678 860 1678 860 1676 850 1676 850 1676 836 1676 834 1674 810 1674 810 1676 792 1676 790 1676 780 1676Z"/>
<path fill="#fce31c" fill-rule="evenodd" d="M778 1676L772 1694 770 1710 770 1712 770 1718 768 1720 768 1728 768 1730 766 1768 766 1770 766 1826 764 1826 766 2014 766 2014 766 2038 768 2040 768 2064 770 2064 770 2078 772 2078 774 2096 778 2106 816 2106 816 2108 856 2106 856 2104 870 2104 872 2102 876 2102 876 2102 880 2102 882 2100 886 2100 886 2100 898 2098 918 2090 948 2076 972 2060 986 2048 998 2036 1010 2022 1026 2000 1038 1976 1038 1974 1042 1964 1048 1946 1048 1944 1052 1934 1052 1930 1052 1930 1052 1924 1054 1924 1054 1908 1056 1908 1056 1876 1054 1874 1054 1860 1052 1858 1052 1854 1050 1848 1050 1840 1042 1818 1038 1808 1038 1806 1030 1790 1016 1768 1006 1756 986 1734 972 1724 952 1710 918 1692 898 1686 894 1686 886 1682 882 1682 880 1682 876 1682 876 1680 872 1680 870 1680 864 1680 864 1678 858 1678 856 1678 848 1678 846 1676 832 1676 832 1676Z"/>
<path fill="#fddc18" fill-rule="evenodd" d="M778 1678L772 1696 772 1706 770 1706 770 1712 770 1714 770 1720 768 1720 768 1730 768 1730 766 1772 766 1774 766 1834 764 1836 764 1948 766 1948 766 2036 768 2038 768 2052 768 2052 770 2070 770 2070 770 2076 772 2078 774 2094 778 2106 812 2106 814 2106 854 2104 854 2104 868 2102 868 2102 872 2102 874 2100 878 2100 878 2100 882 2100 884 2098 894 2096 922 2086 944 2076 970 2058 982 2048 996 2034 1006 2022 1022 1998 1034 1976 1034 1974 1040 1960 1044 1948 1044 1946 1048 1932 1048 1928 1050 1928 1050 1922 1050 1922 1052 1902 1052 1902 1052 1882 1052 1880 1050 1862 1050 1860 1048 1850 1048 1850 1046 1838 1044 1834 1044 1832 1040 1822 1034 1808 1034 1806 1024 1786 1012 1770 996 1748 982 1736 970 1724 950 1710 922 1696 920 1696 912 1692 894 1686 892 1686 882 1684 878 1684 878 1682 874 1682 872 1682 868 1682 868 1680 854 1680 854 1678 846 1678 844 1678 830 1678 830 1676Z"/>
<path fill="#fed313" fill-rule="evenodd" d="M778 1678L772 1696 772 1706 770 1708 770 1714 770 1714 770 1722 768 1722 768 1732 768 1732 766 1776 766 1776 766 1844 764 1846 764 1938 766 1938 766 2006 766 2008 766 2034 768 2036 768 2060 770 2062 770 2068 770 2070 770 2076 772 2076 774 2090 778 2104 808 2104 808 2106 840 2104 842 2104 850 2104 852 2102 864 2102 866 2100 870 2100 870 2100 874 2100 876 2098 880 2098 880 2098 892 2096 912 2088 928 2080 930 2080 932 2078 946 2072 966 2058 978 2048 994 2032 1008 2016 1020 1998 1034 1968 1036 1962 1040 1950 1040 1948 1044 1936 1046 1926 1046 1926 1048 1912 1048 1910 1048 1872 1048 1872 1046 1858 1046 1856 1042 1840 1040 1836 1040 1832 1038 1824 1030 1808 1030 1806 1024 1792 1010 1770 994 1750 978 1736 966 1726 946 1712 912 1694 892 1688 888 1688 876 1684 860 1682 858 1680 852 1680 852 1680 828 1678 828 1678 798 1678 796 1678 780 1678Z"/>
<path fill="#feca11" fill-rule="evenodd" d="M778 1678L774 1690 772 1702 772 1702 770 1722 768 1724 768 1734 768 1734 766 1780 766 1780 766 1860 764 1860 764 1922 766 1924 766 2002 766 2004 766 2032 768 2032 768 2060 770 2060 770 2068 770 2068 770 2074 772 2074 774 2090 778 2104 822 2104 824 2104 848 2102 850 2102 856 2102 856 2100 872 2098 874 2098 888 2094 892 2092 896 2092 914 2086 932 2078 954 2064 974 2048 992 2030 1014 2002 1020 1992 1032 1966 1032 1962 1038 1950 1038 1946 1040 1942 1040 1934 1042 1930 1044 1918 1044 1916 1044 1908 1046 1908 1046 1876 1044 1874 1044 1866 1044 1866 1044 1860 1042 1858 1040 1844 1038 1840 1038 1838 1036 1834 1034 1824 1032 1822 1028 1810 1020 1792 1008 1772 992 1752 974 1736 948 1716 934 1708 932 1706 914 1698 896 1690 892 1690 888 1688 886 1688 882 1686 878 1686 872 1684 858 1682 856 1682 840 1680 840 1680 828 1680 826 1678Z"/>
<path fill="#fdc314" fill-rule="evenodd" d="M778 1680L772 1698 772 1708 770 1710 770 1716 770 1716 770 1724 768 1724 768 1752 766 1754 766 1784 766 1784 766 1998 766 2000 768 2046 768 2048 770 2066 770 2068 770 2072 772 2074 774 2088 778 2104 786 2104 788 2102 790 2102 792 2104 836 2102 838 2102 846 2102 848 2100 854 2100 854 2100 860 2100 860 2098 874 2096 886 2092 890 2092 916 2082 932 2074 954 2060 970 2048 990 2028 1008 2006 1008 2002 1016 1992 1026 1970 1038 1938 1038 1934 1038 1932 1038 1928 1040 1922 1040 1916 1042 1916 1042 1906 1042 1904 1042 1878 1042 1878 1042 1868 1040 1866 1040 1860 1040 1860 1038 1850 1038 1850 1034 1834 1026 1812 1016 1790 1002 1770 990 1756 970 1734 954 1722 932 1708 910 1698 890 1690 886 1690 882 1688 880 1688 870 1686 854 1684 854 1682 848 1682 846 1682 840 1682 838 1680 826 1680 826 1680Z"/>
<path fill="#fcbc16" fill-rule="evenodd" d="M778 1680L772 1700 772 1710 770 1710 770 1716 770 1718 768 1736 768 1738 768 1754 766 1756 766 1788 766 1788 766 1994 766 1996 768 2046 768 2046 768 2056 770 2058 770 2064 770 2066 770 2072 772 2072 774 2088 778 2102 822 2102 824 2102 836 2102 836 2100 852 2100 852 2098 858 2098 858 2098 868 2096 872 2094 876 2094 890 2090 894 2090 896 2088 912 2082 932 2072 950 2060 964 2050 982 2032 994 2018 1008 1998 1014 1988 1016 1986 1026 1962 1032 1944 1036 1928 1036 1926 1036 1922 1038 1922 1038 1904 1040 1902 1040 1880 1038 1880 1038 1870 1038 1868 1038 1862 1036 1862 1034 1846 1026 1820 1020 1808 1020 1806 1012 1790 1000 1772 990 1758 974 1742 958 1728 938 1714 904 1698 900 1696 890 1692 888 1692 884 1690 880 1690 876 1688 868 1688 864 1686 858 1686 858 1684 852 1684 846 1682 838 1682 836 1682 826 1682 826 1680 780 1680Z"/>
<path fill="#fcb418" fill-rule="evenodd" d="M778 1680L772 1700 772 1706 772 1706 772 1712 770 1718 768 1738 768 1740 768 1758 766 1758 766 1792 766 1792 766 1990 766 1990 768 2044 768 2044 768 2056 770 2056 772 2076 772 2078 774 2090 778 2102 822 2102 824 2100 834 2100 836 2100 856 2098 856 2096 860 2096 862 2096 866 2096 866 2094 882 2092 900 2086 910 2080 912 2080 938 2066 966 2046 984 2028 998 2008 1010 1990 1020 1972 1020 1970 1022 1964 1024 1960 1028 1950 1028 1948 1030 1944 1030 1940 1032 1932 1034 1922 1034 1920 1034 1914 1036 1912 1036 1902 1036 1900 1036 1882 1036 1882 1036 1870 1034 1870 1034 1856 1032 1856 1032 1852 1032 1850 1030 1840 1028 1836 1028 1832 1024 1824 1022 1818 1010 1794 1004 1784 992 1766 982 1754 966 1738 946 1722 932 1714 912 1702 910 1702 900 1698 874 1690 866 1688 862 1686 852 1686 850 1684 836 1684 836 1682 826 1682 826 1682 788 1682 788 1680Z"/>
<path fill="#faad19" fill-rule="evenodd" d="M778 1682L772 1702 770 1720 770 1720 770 1728 768 1728 768 1760 766 1762 766 1796 766 1798 766 1986 766 1986 768 2042 768 2042 768 2054 770 2054 770 2062 770 2064 772 2076 772 2076 776 2094 778 2100 778 2102 784 2102 784 2100 822 2100 824 2100 834 2100 834 2098 848 2098 850 2096 854 2096 854 2096 858 2096 860 2094 864 2094 864 2094 876 2092 880 2090 882 2090 894 2086 928 2070 942 2060 960 2048 988 2018 1002 1998 1008 1988 1010 1986 1018 1966 1026 1944 1030 1926 1030 1926 1030 1920 1032 1920 1032 1900 1034 1898 1034 1884 1032 1884 1032 1872 1032 1870 1030 1858 1030 1856 1028 1844 1020 1822 1016 1812 1016 1810 1002 1786 984 1760 960 1736 942 1722 916 1706 914 1706 894 1698 872 1690 864 1690 854 1686 850 1686 842 1684 836 1684 834 1684 826 1684 824 1682Z"/>
<path fill="#faa61a" fill-rule="evenodd" d="M778 1682L772 1702 770 1720 770 1722 770 1730 768 1730 768 1762 766 1764 766 1802 766 1802 766 1980 766 1982 768 2040 768 2040 768 2052 770 2054 770 2068 772 2070 774 2084 778 2100 822 2100 824 2098 840 2098 842 2096 858 2094 858 2094 874 2090 878 2088 880 2088 892 2084 898 2082 922 2070 942 2058 960 2044 984 2020 1000 1996 1006 1984 1008 1982 1014 1968 1022 1946 1022 1944 1026 1936 1026 1926 1028 1926 1028 1912 1030 1912 1030 1900 1030 1898 1030 1884 1030 1884 1028 1864 1028 1862 1028 1858 1026 1856 1026 1852 1026 1852 1022 1836 1018 1824 1016 1822 1014 1814 1000 1788 990 1772 978 1756 960 1740 942 1724 922 1712 904 1704 902 1704 892 1698 870 1692 854 1688 852 1688 848 1688 848 1686 836 1686 834 1684 810 1684 810 1682 780 1682Z"/>
<path fill="#f89f1b" fill-rule="evenodd" d="M778 1682L772 1704 770 1722 770 1722 770 1730 768 1732 768 1766 766 1766 766 1806 766 1808 766 1976 766 1976 768 2038 768 2038 768 2052 770 2052 770 2068 772 2068 774 2084 778 2100 806 2100 806 2098 822 2098 824 2098 840 2096 840 2096 846 2096 846 2094 860 2092 888 2084 890 2082 902 2078 926 2066 948 2050 964 2038 986 2012 1002 1988 1012 1968 1022 1940 1024 1926 1024 1926 1024 1920 1026 1920 1026 1900 1028 1898 1028 1884 1026 1884 1026 1864 1024 1862 1024 1858 1024 1856 1024 1852 1022 1852 1020 1836 1016 1824 1014 1822 1012 1814 996 1784 986 1772 970 1752 954 1736 940 1726 926 1716 902 1704 868 1692 866 1692 856 1690 852 1690 852 1688 848 1688 846 1688 834 1686 834 1686 814 1684 812 1684 786 1684 784 1682Z"/>
<path fill="#f8981c" fill-rule="evenodd" d="M778 1684L774 1700 772 1716 770 1716 770 1722 770 1724 768 1746 768 1746 768 1768 766 1770 766 1812 766 1812 766 1970 766 1972 766 2014 768 2014 768 2036 768 2036 770 2060 770 2060 772 2078 778 2100 784 2100 784 2098 810 2098 812 2098 832 2096 834 2096 840 2096 846 2094 850 2094 852 2092 870 2088 898 2078 918 2068 934 2058 952 2046 964 2034 976 2022 986 2008 1002 1984 1010 1966 1016 1948 1016 1944 1018 1940 1020 1928 1022 1928 1022 1916 1024 1914 1024 1906 1024 1904 1024 1878 1024 1878 1024 1868 1022 1868 1022 1862 1022 1860 1022 1856 1020 1850 1020 1846 1014 1826 1006 1812 1006 1810 998 1792 986 1776 976 1762 964 1750 942 1730 918 1714 898 1704 868 1694 864 1694 856 1690 852 1690 850 1690 846 1690 846 1688 840 1688 834 1686 826 1686 826 1686Z"/>
<path fill="#f7911e" fill-rule="evenodd" d="M778 1684L774 1700 774 1704 772 1710 772 1716 770 1718 770 1724 770 1724 768 1748 768 1748 768 1770 766 1772 766 1816 766 1818 766 1966 766 1966 766 2012 768 2012 768 2034 768 2036 770 2058 770 2060 770 2066 772 2066 772 2072 772 2072 772 2078 774 2082 774 2086 778 2098 824 2096 826 2096 832 2096 834 2094 844 2094 846 2092 850 2092 850 2092 870 2088 884 2082 910 2072 912 2070 924 2064 940 2052 962 2034 974 2020 986 2004 996 1988 1006 1968 1014 1948 1014 1946 1018 1934 1020 1918 1020 1918 1020 1910 1022 1910 1022 1874 1020 1874 1020 1866 1020 1864 1018 1850 1012 1828 1010 1826 1006 1814 996 1796 986 1780 974 1762 944 1734 924 1720 912 1714 910 1712 884 1700 866 1694 864 1694 850 1690 834 1688 834 1688 828 1688 826 1686 802 1686 802 1684 780 1684Z"/>
<path fill="#f68b1f" fill-rule="evenodd" d="M786 1684L778 1684 774 1702 772 1710 772 1712 772 1718 770 1718 770 1724 770 1726 770 1734 768 1736 768 1750 768 1750 766 1822 766 1822 766 1960 766 1962 768 2032 768 2034 768 2048 770 2048 770 2064 772 2066 774 2082 778 2098 780 2098 800 2098 802 2096 826 2096 826 2094 844 2092 846 2092 854 2090 866 2086 868 2086 890 2078 912 2068 942 2048 958 2034 972 2020 986 2000 996 1984 1006 1964 1006 1958 1012 1946 1012 1944 1014 1936 1016 1922 1018 1920 1018 1902 1020 1902 1020 1882 1018 1880 1018 1870 1018 1870 1016 1858 1016 1856 1016 1852 1014 1852 1014 1848 1012 1840 1012 1836 1004 1818 996 1798 982 1776 970 1762 958 1748 946 1738 926 1724 912 1714 884 1702 866 1696 862 1696 850 1692 840 1690 840 1690 820 1688 818 1686 786 1686Z"/>
<path fill="#f58520" fill-rule="evenodd" d="M792 1686L778 1686 776 1690 776 1694 774 1702 774 1706 772 1708 772 1712 772 1712 770 1726 770 1726 768 1752 768 1752 768 1776 766 1778 766 1828 766 1830 766 1954 766 1954 766 2006 768 2006 768 2030 768 2032 770 2056 770 2058 770 2064 772 2064 774 2080 778 2098 786 2098 786 2096 806 2096 806 2096 826 2094 826 2094 832 2094 834 2092 848 2090 850 2090 860 2088 864 2086 868 2086 880 2080 884 2080 890 2076 892 2076 914 2066 938 2048 954 2036 970 2018 980 2006 996 1980 1002 1966 1010 1944 1010 1942 1014 1928 1014 1924 1016 1916 1016 1908 1016 1908 1016 1876 1016 1874 1016 1866 1014 1866 1012 1850 1006 1826 996 1808 996 1806 994 1804 988 1790 974 1770 954 1748 938 1734 918 1720 900 1710 898 1710 880 1702 864 1696 862 1696 844 1692 840 1692 840 1690 834 1690 828 1688 820 1688 820 1688 810 1688 810 1686 794 1686Z"/>
<path fill="#f47f22" fill-rule="evenodd" d="M778 1686L774 1698 774 1702 774 1704 774 1708 772 1714 772 1718 770 1720 770 1738 768 1738 768 1754 768 1754 768 1780 766 1780 766 1836 766 1836 766 2002 768 2004 768 2028 768 2030 770 2056 770 2056 772 2070 772 2070 772 2074 774 2076 774 2080 774 2080 776 2092 778 2096 792 2096 794 2096 808 2096 810 2094 818 2094 820 2094 826 2094 828 2092 838 2092 840 2090 844 2090 844 2090 860 2086 880 2080 890 2074 892 2074 918 2060 936 2048 950 2036 960 2026 978 2004 988 1988 1002 1960 1008 1942 1008 1940 1010 1930 1010 1926 1012 1926 1012 1912 1014 1912 1014 1900 1014 1900 1014 1884 1014 1882 1012 1864 1012 1862 1012 1858 1010 1856 1010 1852 1010 1852 1008 1840 998 1816 990 1798 978 1778 960 1758 942 1740 924 1726 908 1716 884 1704 878 1704 876 1702 864 1698 860 1698 856 1696 854 1696 844 1692 828 1690 828 1690 822 1690 820 1688 800 1688 798 1686 782 1686 782 1686Z"/>
<path fill="#f37923" fill-rule="evenodd" d="M786 1686L778 1686 774 1704 772 1720 770 1720 770 1728 770 1728 770 1738 768 1740 768 1782 766 1784 766 1940 766 1940 768 2026 768 2028 768 2042 770 2044 770 2054 770 2054 772 2068 772 2070 774 2084 776 2088 778 2096 782 2096 782 2096 798 2096 798 2094 820 2094 822 2092 828 2092 828 2092 844 2090 844 2088 856 2086 860 2084 862 2084 884 2076 894 2072 900 2070 902 2068 914 2062 938 2044 944 2038 966 2016 976 2004 988 1984 996 1968 996 1966 998 1962 1000 1956 1004 1948 1004 1944 1008 1932 1008 1924 1010 1922 1010 1908 1012 1906 1012 1876 1010 1876 1010 1860 1008 1860 1006 1842 998 1822 988 1798 976 1780 960 1760 944 1744 918 1724 904 1716 902 1714 874 1702 860 1698 856 1698 840 1692 836 1692 834 1692 814 1690 814 1688 804 1688 802 1688 788 1688Z"/>
<path fill="#f37324" fill-rule="evenodd" d="M778 1686L774 1704 772 1720 770 1722 770 1740 768 1742 768 1758 768 1758 768 1786 766 1786 766 1852 766 1854 766 1996 768 1998 768 2024 768 2026 770 2052 770 2054 770 2060 772 2062 772 2068 772 2068 774 2082 778 2096 786 2096 788 2094 802 2094 802 2094 812 2094 814 2092 822 2092 822 2092 834 2090 834 2090 838 2090 870 2080 874 2078 886 2074 910 2062 926 2052 940 2040 960 2020 972 2006 982 1990 992 1970 1002 1942 1002 1940 1006 1930 1006 1926 1006 1926 1008 1914 1008 1912 1008 1902 1010 1900 1010 1882 1008 1882 1008 1870 1008 1870 1008 1864 1006 1862 1006 1852 1004 1852 1002 1840 992 1814 982 1792 972 1778 960 1762 940 1744 926 1732 906 1718 874 1704 852 1696 848 1696 840 1694 836 1694 834 1692 816 1690 816 1690 794 1688 792 1688 780 1688Z"/>
<path fill="#f26e25" fill-rule="evenodd" d="M782 1688L778 1688 776 1694 776 1696 774 1706 774 1710 772 1710 772 1716 770 1722 770 1730 770 1730 768 1760 768 1760 768 1788 766 1790 766 1864 766 1866 768 2022 768 2024 768 2040 770 2040 770 2052 770 2052 772 2066 772 2068 774 2078 778 2096 780 2094 806 2094 806 2092 814 2092 816 2092 828 2090 830 2090 838 2088 840 2088 850 2086 854 2084 858 2084 880 2076 900 2066 930 2046 958 2018 972 2000 984 1982 990 1968 990 1966 994 1962 994 1956 998 1948 998 1944 1000 1940 1000 1938 1004 1928 1004 1924 1006 1916 1006 1910 1006 1908 1006 1876 1006 1874 1006 1866 1004 1866 1004 1854 1002 1854 1000 1842 994 1822 984 1800 970 1778 958 1764 936 1742 908 1722 884 1710 882 1710 872 1704 848 1696 840 1696 830 1692 810 1690 808 1690 784 1688Z"/>
<path fill="#f16826" fill-rule="evenodd" d="M788 1688L778 1688 774 1702 772 1716 772 1718 772 1722 770 1724 770 1732 770 1732 768 1762 768 1762 768 1792 766 1794 766 1990 768 1990 768 2020 768 2022 768 2038 770 2040 770 2050 770 2052 772 2066 772 2066 774 2076 778 2094 808 2092 808 2092 816 2092 818 2090 828 2090 830 2088 846 2086 868 2078 884 2072 886 2072 902 2062 920 2052 942 2034 958 2016 968 2002 980 1984 988 1968 998 1942 998 1940 1000 1936 1000 1932 1002 1926 1002 1914 1004 1914 1004 1904 1004 1904 1004 1880 1004 1880 1002 1862 1002 1862 1002 1858 1000 1856 1000 1852 1000 1852 1000 1848 998 1844 998 1840 988 1816 980 1800 968 1780 958 1768 940 1748 922 1734 904 1722 884 1710 882 1710 872 1706 866 1704 858 1700 854 1700 850 1698 848 1698 844 1696 840 1696 834 1694 830 1694 824 1692 818 1692 818 1692 812 1692 810 1690 788 1690Z"/>
<path fill="#f06226" fill-rule="evenodd" d="M778 1688L774 1702 772 1718 772 1718 772 1724 770 1724 770 1744 768 1746 768 1764 768 1764 768 1796 766 1796 766 1986 768 1988 768 2036 770 2038 770 2050 770 2050 772 2070 774 2072 776 2084 778 2094 788 2094 788 2092 800 2092 802 2092 818 2090 818 2090 824 2090 824 2088 838 2086 870 2076 890 2068 892 2066 910 2056 936 2036 952 2020 964 2004 974 1990 986 1966 996 1942 996 1938 998 1930 1000 1920 1000 1918 1000 1912 1002 1910 1002 1888 1002 1888 1002 1872 1000 1872 1000 1866 1000 1864 998 1850 986 1816 974 1794 964 1778 952 1762 934 1746 916 1730 902 1722 884 1712 882 1712 866 1704 850 1700 848 1700 834 1696 826 1694 824 1694 804 1692 804 1690 780 1690Z"/>
<path fill="#ef5d27" fill-rule="evenodd" d="M784 1690L778 1690 774 1704 772 1718 772 1718 770 1734 770 1734 770 1746 768 1748 768 1798 766 1800 766 1982 768 1984 768 2016 768 2016 768 2036 770 2036 770 2058 772 2058 772 2064 772 2064 774 2080 778 2094 780 2092 792 2092 792 2092 802 2092 804 2090 812 2090 812 2090 824 2088 826 2088 842 2084 864 2078 896 2062 912 2052 930 2038 952 2016 964 2002 976 1984 984 1966 992 1944 992 1940 994 1936 994 1932 996 1928 996 1924 998 1922 998 1908 1000 1906 1000 1876 998 1876 998 1868 998 1866 998 1860 994 1850 994 1846 992 1842 992 1840 988 1828 976 1800 964 1780 952 1766 930 1744 920 1736 904 1724 884 1714 882 1714 864 1706 830 1696 814 1694 814 1692 806 1692 806 1692 784 1690Z"/>
<path fill="#ef5727" fill-rule="evenodd" d="M788 1690L778 1690 774 1708 774 1712 772 1714 772 1726 770 1726 770 1734 770 1736 770 1748 768 1748 768 1802 766 1804 766 1980 768 1980 768 2014 768 2014 768 2034 770 2034 770 2056 772 2058 772 2062 772 2064 774 2078 778 2092 820 2088 820 2088 838 2084 864 2076 866 2074 874 2072 900 2058 912 2050 932 2034 946 2022 960 2004 972 1984 982 1964 990 1942 990 1940 994 1930 994 1926 996 1920 996 1914 996 1914 996 1904 998 1902 998 1880 996 1880 996 1862 994 1862 994 1858 994 1856 994 1852 992 1852 990 1840 986 1828 984 1826 982 1818 966 1788 956 1774 946 1762 932 1748 916 1734 896 1722 872 1710 850 1702 846 1702 842 1700 840 1700 830 1696 816 1694 814 1694 808 1694 808 1692 800 1692 800 1692 790 1692Z"/>
<path fill="#ee5127" fill-rule="evenodd" d="M778 1690L778 1696 776 1700 774 1708 774 1710 772 1720 772 1720 772 1726 770 1728 770 1750 768 1750 768 1770 768 1772 768 1808 766 1808 766 1974 768 1976 768 2032 770 2032 770 2046 770 2046 770 2054 772 2056 772 2068 774 2068 774 2078 778 2092 786 2092 788 2090 806 2090 808 2088 814 2088 814 2088 830 2086 862 2076 874 2070 876 2070 896 2060 914 2048 930 2034 942 2022 954 2008 966 1992 978 1968 978 1966 984 1952 992 1928 992 1922 994 1916 994 1908 994 1906 994 1876 994 1876 994 1868 992 1866 992 1856 990 1854 988 1844 986 1840 986 1836 982 1828 982 1822 972 1804 960 1782 944 1762 922 1742 910 1732 888 1720 872 1712 870 1712 858 1706 846 1702 842 1702 838 1700 822 1696 820 1696 816 1696 808 1694 802 1694 800 1692 780 1692Z"/>
<path fill="#ee4a26" fill-rule="evenodd" d="M778 1692L778 1698 776 1702 774 1710 774 1710 772 1720 772 1722 772 1728 770 1728 770 1752 768 1752 768 1774 768 1774 768 1812 766 1814 766 1970 768 1970 768 2008 768 2010 768 2030 770 2030 770 2054 772 2054 774 2072 774 2074 778 2088 778 2090 790 2090 790 2090 800 2090 800 2088 808 2088 808 2088 824 2086 826 2084 840 2082 868 2072 890 2060 908 2050 928 2034 940 2020 952 2008 962 1994 978 1964 980 1954 982 1950 986 1938 988 1934 990 1918 990 1918 990 1910 992 1910 992 1874 990 1872 990 1866 990 1864 988 1854 988 1854 986 1842 984 1838 984 1836 980 1830 978 1820 968 1800 960 1786 948 1770 940 1762 920 1744 910 1736 890 1722 878 1716 876 1716 866 1710 856 1708 854 1706 844 1702 842 1702 838 1700 834 1700 826 1698 822 1698 820 1696 816 1696 816 1696Z"/>
<path fill="#ed4426" fill-rule="evenodd" d="M784 1692L778 1692 774 1706 772 1722 772 1722 770 1740 770 1740 770 1754 768 1754 768 1818 766 1820 766 1964 768 1964 768 2006 768 2006 768 2028 770 2028 770 2052 772 2054 774 2072 774 2072 776 2080 778 2084 778 2090 782 2090 800 2088 802 2088 808 2088 808 2086 824 2084 858 2074 868 2070 870 2070 896 2056 912 2044 924 2034 938 2020 952 2002 962 1988 974 1966 984 1938 986 1926 986 1926 986 1920 988 1914 988 1904 990 1902 988 1870 988 1870 988 1864 986 1862 986 1852 980 1832 978 1828 974 1816 962 1796 952 1780 940 1764 924 1750 904 1734 886 1722 868 1712 866 1712 852 1706 826 1698 810 1696 810 1696 804 1696 802 1694 786 1694Z"/>
<path fill="#ec3e26" fill-rule="evenodd" d="M778 1694L774 1708 772 1722 772 1724 770 1742 770 1742 770 1756 768 1756 768 1824 766 1824 766 1958 768 1960 768 2002 768 2004 768 2026 770 2026 770 2052 772 2052 774 2070 774 2072 776 2080 778 2084 778 2090 784 2090 784 2088 794 2088 794 2088 808 2086 810 2086 814 2086 824 2082 828 2082 832 2080 836 2080 840 2078 848 2076 852 2074 862 2072 870 2066 872 2066 896 2054 910 2044 920 2034 938 2018 948 2006 958 1990 968 1972 968 1970 976 1952 980 1944 980 1940 984 1928 984 1924 984 1922 984 1918 986 1916 986 1908 986 1908 986 1876 986 1874 984 1860 984 1860 984 1856 982 1854 980 1840 966 1808 964 1806 958 1794 948 1778 938 1766 920 1748 902 1734 888 1724 868 1714 866 1714 852 1708 836 1702 834 1702 820 1698 812 1698 810 1696 804 1696 804 1696 798 1696 796 1694 788 1694 788 1694Z"/>
<path fill="#ec3826" fill-rule="evenodd" d="M778 1694L776 1708 774 1708 772 1724 772 1724 770 1742 770 1744 770 1758 768 1760 768 1830 766 1832 766 1952 768 1952 768 2000 768 2000 768 2024 770 2024 770 2050 772 2052 772 2058 772 2058 774 2074 778 2088 786 2088 786 2088 796 2088 796 2086 802 2086 804 2086 810 2086 810 2084 820 2084 820 2082 832 2080 836 2078 838 2078 850 2074 856 2072 860 2070 862 2070 882 2060 902 2046 918 2034 936 2016 946 2004 960 1984 974 1954 978 1942 978 1938 980 1930 980 1926 982 1924 982 1920 982 1918 984 1900 984 1900 984 1884 984 1882 984 1872 982 1870 982 1864 982 1864 980 1854 980 1852 978 1842 970 1820 960 1800 948 1782 936 1768 916 1748 892 1730 876 1720 874 1718 854 1710 820 1700 806 1698 804 1696 790 1696 790 1694 780 1694Z"/>
<path fill="#eb3326" fill-rule="evenodd" d="M782 1694L778 1694 778 1700 774 1710 774 1714 774 1714 774 1718 772 1720 772 1732 770 1734 770 1760 768 1762 768 1786 768 1786 768 1838 766 1838 766 1944 768 1946 768 2022 770 2022 770 2038 770 2038 770 2048 772 2050 772 2064 774 2064 774 2074 778 2086 778 2088 780 2088 788 2088 790 2086 796 2086 798 2086 804 2086 804 2084 820 2082 850 2074 860 2068 862 2068 884 2056 896 2050 914 2036 940 2008 958 1980 966 1964 976 1940 978 1922 980 1922 980 1916 980 1916 980 1908 982 1906 982 1876 980 1876 980 1868 980 1866 980 1862 978 1860 976 1844 970 1828 968 1826 966 1818 954 1796 936 1770 912 1746 902 1738 880 1724 860 1714 858 1714 852 1710 848 1710 836 1704 832 1704 828 1702 826 1702 816 1700 800 1698 800 1696 792 1696 792 1696 782 1696Z"/>
<path fill="#ea2d26" fill-rule="evenodd" d="M784 1696L778 1696 776 1710 774 1710 772 1726 772 1726 770 1746 770 1746 770 1762 768 1764 768 1846 766 1846 766 1936 768 1938 768 2020 770 2020 770 2036 770 2036 770 2048 772 2048 772 2062 774 2064 774 2072 776 2074 778 2088 816 2082 816 2082 828 2080 832 2078 834 2078 854 2070 874 2060 876 2058 886 2054 904 2042 918 2030 934 2012 944 1998 952 1986 964 1966 964 1964 970 1950 976 1930 976 1920 978 1918 978 1912 978 1912 978 1900 980 1900 980 1884 978 1882 978 1872 978 1870 976 1858 976 1858 976 1854 972 1842 972 1838 968 1830 966 1824 952 1796 938 1776 928 1764 916 1752 896 1736 876 1724 856 1714 828 1704 826 1704 816 1700 812 1700 812 1700 808 1700 806 1698 794 1698 794 1696 786 1696Z"/>
<path fill="#ea2725" fill-rule="evenodd" d="M778 1696L776 1706 776 1710 774 1712 774 1716 772 1722 772 1726 772 1728 770 1748 770 1748 770 1764 768 1766 768 1856 766 1858 766 1926 768 1926 768 1990 768 1990 768 2016 770 2018 770 2046 772 2048 772 2062 774 2062 774 2066 774 2068 774 2072 776 2072 778 2086 784 2086 784 2086 792 2086 794 2084 806 2084 806 2082 810 2082 812 2082 816 2082 816 2080 828 2078 850 2070 858 2066 860 2066 878 2056 892 2048 912 2032 928 2016 940 2000 950 1986 962 1964 962 1962 966 1954 970 1940 970 1936 974 1928 974 1916 976 1916 976 1908 976 1908 976 1876 976 1874 976 1868 974 1866 974 1856 972 1854 970 1844 962 1818 954 1804 938 1778 928 1768 912 1750 896 1738 880 1728 856 1714 854 1714 840 1708 816 1702 812 1702 812 1700 802 1700 802 1698 796 1698 794 1698Z"/>
<path fill="#e92225" fill-rule="evenodd" d="M778 1698L776 1708 776 1708 776 1712 774 1718 772 1730 772 1730 770 1752 770 1752 770 1770 768 1770 768 1800 768 1802 768 1982 768 1982 770 2030 770 2032 770 2044 772 2044 772 2060 774 2060 776 2074 778 2084 788 2084 788 2084 794 2084 796 2082 802 2082 802 2082 812 2080 824 2076 826 2076 848 2068 864 2062 866 2060 878 2054 898 2040 926 2012 946 1984 954 1970 954 1968 962 1952 964 1942 964 1940 966 1936 968 1922 970 1922 970 1916 970 1916 970 1908 972 1906 972 1876 970 1876 970 1868 970 1866 970 1862 968 1860 966 1848 964 1844 964 1840 962 1832 954 1814 954 1812 946 1800 934 1782 914 1758 890 1738 874 1728 854 1716 820 1704 804 1702 802 1700Z"/>
<path fill="#e91f25" fill-rule="evenodd" d="M784 1700L778 1700 776 1714 774 1714 774 1724 772 1726 772 1742 770 1742 770 1754 770 1756 768 1810 768 1810 768 1972 768 1974 768 2006 770 2008 770 2026 770 2028 772 2050 772 2052 772 2058 774 2058 774 2062 774 2064 774 2068 776 2068 776 2072 776 2074 778 2084 808 2080 808 2078 820 2076 844 2068 854 2062 858 2062 860 2060 876 2050 902 2032 924 2008 942 1982 952 1962 960 1942 960 1940 962 1932 964 1916 966 1916 966 1908 966 1908 966 1876 966 1874 966 1868 964 1866 962 1852 956 1832 942 1802 932 1784 920 1770 900 1750 890 1742 862 1724 842 1714 824 1708 820 1708 808 1704 794 1702 792 1700 786 1700Z"/>
<path d="M196.2 1521.8L200.4 1586.1 205.9 1647.4 227.3 1824.6 229.6 1856.0 230.3 1886.0 229.3 1918.9 226.3 1954.8 209.9 2082.8 202.8 2148.4 198.0 2205.2 194.3 2265.1M671.4 2234.3L664.2 2183.9 654.7 2139.9 642.8 2101.2 627.7 2065.3 610.3 2033.8 589.9 2004.1 571.0 1980.8 528.8 1934.0 514.8 1916.5 505.9 1900.9 503.7 1893.7 502.9 1886.3 503.7 1878.8 505.9 1871.7 514.8 1856.1 529.0 1838.6 571.3 1792.0 590.3 1768.7 610.9 1739.2 627.7 1709.1 642.6 1674.7 654.8 1636.1 664.3 1593.7 671.4 1546.2M287.2 1521.4L298.8 1560.2 312.4 1595.1 328.3 1627.4 345.8 1655.4 364.5 1678.8 385.2 1698.4 406.2 1712.7 417.0 1718.0 428.3 1721.9 438.6 1724.2 453.5 1725.3 470.0 1725.0 486.4 1723.5 515.7 1717.1 529.9 1712.2 545.0 1705.6 570.9 1690.4 594.2 1671.6 615.4 1648.4 633.2 1622.4M657.6 2265.5L638.7 2248.4 623.3 2236.4 606.9 2225.9 589.5 2217.2 571.2 2210.2 552.4 2205.3 533.1 2202.2 512.2 2201.1 494.2 2201.9 474.9 2204.4 455.9 2208.8 438.8 2214.4 425.1 2223.6 411.6 2235.4 399.5 2248.8 387.9 2264.4M323.5 1520.6L334.9 1548.3 347.9 1573.7 362.5 1596.4 377.6 1615.1 394.8 1631.7 411.8 1644.0 432.0 1653.9 448.1 1657.6 478.0 1659.7 506.4 1657.6 534.2 1651.6 560.8 1641.5 585.6 1627.6 606.9 1611.0 626.6 1590.4 644.2 1566.1M634.0 2214.1L615.7 2194.2 596.1 2178.0 574.4 2164.6 551.1 2154.2 526.7 2147.1 500.0 2143.1 474.5 2142.6 447.7 2145.4 433.2 2149.1 415.7 2157.7 399.8 2169.0 384.4 2183.3 369.9 2200.4 357.1 2218.9 344.6 2241.1 333.9 2264.3M231.1 1520.9L241.2 1586.1 254.4 1646.2 263.0 1678.0 273.3 1711.0 305.8 1801.3 314.6 1828.4 321.6 1859.1 323.6 1886.0 321.3 1912.9 314.1 1943.5 305.6 1969.1 271.6 2062.1 261.3 2095.0 252.1 2128.3 237.7 2194.2 226.9 2265.4M635.9 2165.6L618.0 2138.0 597.3 2114.3 585.0 2103.2 573.2 2094.0 547.5 2078.5 533.9 2072.2 518.4 2066.6 503.9 2062.6 487.7 2059.5 471.3 2057.8 454.8 2057.4 439.9 2058.3 428.1 2060.6 416.8 2064.5 405.9 2069.6 394.4 2076.6 383.5 2084.6 362.8 2104.2 343.2 2128.7 325.7 2156.7 309.8 2189.0 295.7 2225.4 284.1 2264.1M525.0 1966.2L503.3 1952.8 481.7 1942.5 463.1 1936.7 445.3 1934.2 433.3 1934.9 420.6 1939.3 406.6 1947.9 390.5 1961.4 369.7 1983.0 348.1 2009.9 328.8 2038.5 310.9 2069.7 295.3 2102.2 281.4 2137.0 269.3 2174.0 259.0 2213.2M261.7 1521.6L271.7 1565.4 284.1 1607.1 299.0 1646.4 315.8 1681.6 334.9 1713.8 356.2 1742.8 378.8 1766.9 390.1 1776.6 401.1 1784.5 419.7 1794.2 429.7 1797.2 438.6 1798.6 464.1 1797.8 489.0 1792.7 514.3 1783.4 540.7 1769.1 565.0 1751.6 587.1 1731.2M374.5 1521.4L384.9 1537.8 395.9 1552.1 408.1 1565.3 420.6 1576.1 439.6 1588.0 455.5 1592.5 471.7 1595.8 491.0 1598.0 510.5 1598.3 530.0 1596.8 549.1 1593.3 567.9 1587.9 585.9 1580.5 601.8 1572.1 618.0 1561.2M658.0 2072.8L648.5 2027.3 625.7 1935.6 621.7 1910.4 620.4 1886.5 621.7 1862.5 625.8 1837.3 648.8 1745.7 658.1 1701.7M444.8 1521.0L467.9 1531.9 492.1 1539.9 517.1 1544.7 542.5 1546.3 567.9 1544.5 591.4 1539.7 614.2 1532.1 638.6 1520.6M297.1 1697.9L310.4 1726.4 325.8 1755.6 377.5 1841.8 384.7 1856.6 389.1 1869.3 390.9 1878.2 391.3 1887.1 390.4 1896.1 387.9 1906.3 378.9 1926.9 362.1 1955.3M598.0 1975.1L581.2 1943.2 572.2 1922.6 566.9 1903.9 565.1 1886.0 567.0 1868.1 572.5 1849.4 581.6 1828.9 597.9 1798.4M400.9 1833.5L413.0 1844.7 423.8 1852.8 433.3 1857.2 440.7 1858.4 452.6 1857.2 466.9 1852.7 481.8 1845.7 499.8 1834.9M599.9 2249.9L581.0 2245.2 561.7 2242.4 542.3 2241.5 522.8 2242.5 503.5 2245.4 484.6 2250.2 466.3 2256.7 448.6 2264.9M603.1 2070.8L588.3 2053.9 573.1 2039.4 556.7 2026.4 539.1 2014.9 520.5 2005.1 502.4 1997.8 483.7 1992.5 466.0 1989.4 451.0 1988.3 436.0 1988.8 424.3 1991.1 411.6 1995.9 398.5 2003.0 383.9 2013.6 369.4 2026.6 356.1 2040.8" fill="none" stroke="#cfc8e0" stroke-width="1.3" stroke-dasharray="2.2 1.4" opacity="0.8"/><path d="M578.5 1330.1L581.0 1347.9 584.8 1363.9 590.1 1379.5 597.0 1394.5 605.5 1408.7 615.5 1421.8 625.9 1432.5 638.6 1443.0 652.5 1452.0 667.2 1459.5 711.9 1476.8 763.5 1492.9 817.5 1505.3M283.5 1330.9L285.4 1375.8 290.1 1420.6 297.3 1463.5 307.1 1504.3M624.1 1505.4L638.9 1503.2 671.2 1496.4 681.6 1495.6 693.6 1495.9M409.7 1330.9L411.9 1356.3 416.0 1381.4 422.2 1406.2 429.9 1428.9 439.6 1450.8 450.6 1470.4 463.6 1488.8 477.5 1504.5M457.0 1330.9L460.6 1360.6 467.6 1389.8 477.5 1416.5 490.8 1441.7 506.8 1463.4 524.8 1481.4 544.4 1495.2 566.2 1505.1M874.7 1330.7L862.4 1349.5 852.6 1369.7 846.1 1389.6 842.3 1410.3 841.5 1429.8 843.1 1449.2 846.7 1466.8 856.3 1501.5 858.1 1516.4 855.7 1541.7 845.6 1593.2M845.5 2193.5L854.8 2246.7 856.0 2260.1 855.8 2270.6 852.5 2285.2 839.9 2317.3 834.1 2335.9 830.3 2355.0 828.9 2374.5M232.3 1329.6L233.3 1374.6 235.7 1419.5 239.5 1462.8 244.7 1504.5M488.8 2280.0L469.9 2299.3 453.9 2321.0 439.2 2347.2 427.7 2374.8M506.3 1330.5L510.5 1358.7 517.7 1384.7 527.8 1408.1 541.0 1429.9 556.5 1448.2 574.9 1463.6 594.4 1474.8 615.6 1482.3M402.2 2279.8L390.8 2300.8 380.4 2324.1 371.8 2348.1 364.4 2374.1M796.8 2279.5L758.3 2285.7 693.5 2298.1 638.4 2304.6 625.2 2307.4 612.3 2311.4 590.6 2321.6 571.1 2335.5 553.2 2353.6 538.4 2374.4M267.5 2279.8L259.6 2325.6 253.6 2374.8M328.7 2280.8L315.0 2326.8 305.2 2375.3M689.5 2323.2L666.8 2334.9 649.4 2346.5 633.6 2360.4 620.8 2375.0M768.6 1329.9L765.5 1350.7 765.1 1370.2 767.3 1389.5 772.5 1409.9 779.9 1427.9 790.2 1446.2 802.8 1463.0 819.1 1480.5M716.5 1330.7L716.4 1348.7 718.1 1365.1 721.6 1381.2 726.9 1396.9 733.9 1411.8 743.3 1427.1 754.4 1441.3 766.7 1454.4M963.5 1330.3L944.6 1342.5 927.2 1356.6 912.5 1371.6 899.6 1388.2 888.9 1406.2 881.0 1424.1 875.1 1444.2 871.7 1464.9M631.1 2281.3L608.6 2280.0 586.3 2282.7 564.9 2289.5 545.0 2299.9 525.9 2314.4 509.3 2331.7 494.4 2352.4 482.2 2374.8M802.3 2303.1L780.8 2319.4 762.2 2336.8 746.7 2355.1 733.8 2375.3M188.6 1329.5L189.7 1419.5 192.4 1505.0M342.6 1330.6L346.0 1377.0 354.0 1422.8 359.6 1444.5 366.4 1466.0 374.0 1485.6 382.7 1504.7M628.8 1329.7L630.7 1346.1 634.2 1362.2 639.4 1377.9 646.2 1392.9 654.7 1407.0 663.7 1419.0 675.0 1431.0 687.5 1441.7M1254.9 1378.3L1241.3 1364.3 1226.7 1351.4 1212.3 1340.7 1195.8 1330.3M214.9 2280.1L208.6 2374.3" fill="none" stroke="#a8a2bc" stroke-width="1.3" stroke-dasharray="2.2 1.4" opacity="0.7"/>
<path d="M682.3 1521.0 L719.0 1520.0 L751.0 1522.6 L783.0 1521.0 L790.0 1526.0M721.0 1603.6 L712.0 1624.0 L716.6 1647.0 L725.8 1674.5M741.8 1711.0 L737.0 1811.7 L739.5 1903.0 L741.8 1994.7M716.6 1949.0 L709.8 1994.7 L712.0 2031.0 L696.0 2063.0 L682.0 2059.0M705.0 2122.8 L691.5 2132.0 L691.5 2168.5 L698.0 2200.6 L709.8 2218.8 L737.0 2228.0 L773.8 2232.6 L805.9 2237.0 L815.0 2246.0 L808.0 2255.4" fill="none" stroke="#d4d2ec" stroke-width="1.3" stroke-linejoin="round" opacity="0.8"/>
<path d="M780.5 1924.3L778.5 1924.2 778.1 1891.5 778.5 1858.4 780.5 1858.3 786.5 1860.6 790.5 1865.6 791.9 1871.5 791.6 1880.5 793.9 1891.5 791.6 1902.5 792.0 1910.5 790.7 1916.5 786.5 1922.2Z" fill="none" stroke="#111" stroke-width="1.6"/>
<path d="M778.5 1962.3L777.3 1891.5 778.5 1820.3 785.7 1821.5 790.2 1825.5 799.1 1844.5 804.1 1868.5 805.7 1891.5 804.1 1914.5 799.3 1937.5 790.0 1957.5 786.5 1960.8Z" fill="none" stroke="#111" stroke-width="1.6"/>
<path d="M782.5 1987.2L778.5 1987.2 776.7 1937.5 776.4 1867.5 778.5 1795.4 786.5 1796.3 792.5 1800.3 805.2 1822.5 812.4 1840.5 816.8 1855.5 819.7 1871.5 821.0 1888.5 820.5 1903.5 818.6 1918.5 814.9 1934.5 809.7 1949.5 804.1 1962.5 794.5 1979.9 788.5 1985.5Z" fill="none" stroke="#111" stroke-width="1.6"/>
<path d="M778.5 2007.7L777.0 1982.5 775.2 1891.5 776.9 1800.5 778.5 1774.9 788.5 1776.6 794.9 1781.5 809.2 1800.5 821.3 1821.5 828.6 1838.5 833.8 1855.5 837.1 1873.5 838.2 1891.5 837.1 1909.5 834.0 1926.5 828.9 1943.5 821.7 1960.5 809.0 1982.5 794.7 2001.5 788.5 2006.1Z" fill="none" stroke="#111" stroke-width="1.6"/>
<path d="M778.5 2023.2L776.9 2004.5 774.9 1958.5 774.1 1891.5 774.9 1823.5 777.0 1777.5 778.5 1759.6 787.5 1760.4 791.5 1762.3 804.5 1773.5 822.3 1794.5 836.2 1815.5 845.0 1833.5 851.5 1852.5 855.4 1871.5 856.8 1891.5 855.4 1911.5 851.4 1930.5 844.9 1949.5 836.0 1967.5 822.1 1988.5 805.1 2008.5 791.5 2020.3 786.9 2022.5Z" fill="none" stroke="#111" stroke-width="1.6"/>
<path d="M778.5 2037.1L775.4 2002.5 773.6 1958.5 772.8 1891.5 773.6 1824.5 775.4 1779.5 778.5 1745.5 788.5 1746.2 794.5 1748.4 810.2 1760.5 833.5 1782.5 851.7 1805.5 863.3 1825.5 871.9 1846.5 877.1 1868.5 879.0 1891.5 877.3 1913.5 872.1 1935.5 863.7 1956.5 851.5 1977.5 833.2 2000.5 808.7 2023.5 793.5 2034.7 787.5 2036.7Z" fill="none" stroke="#111" stroke-width="1.6"/>
<path d="M778.5 2049.1L774.1 2004.5 772.4 1958.5 771.7 1891.5 772.5 1823.5 774.2 1777.5 778.5 1733.6 788.5 1734.3 794.5 1736.3 824.3 1755.5 848.4 1775.5 868.2 1797.5 882.6 1819.5 892.9 1842.5 899.4 1867.5 901.3 1891.5 899.3 1915.5 893.2 1939.5 883.0 1962.5 868.0 1985.5 848.1 2007.5 823.9 2027.5 794.5 2046.3 788.5 2048.4Z" fill="none" stroke="#111" stroke-width="1.6"/>
<path d="M784.5 2057.6L778.5 2057.5 776.6 2047.5 773.1 2008.5 771.3 1956.5 770.7 1870.5 771.9 1801.5 774.4 1754.5 778.5 1725.1 788.5 1725.3 796.5 1727.2 831.5 1745.1 846.3 1754.5 859.7 1764.5 872.3 1775.5 883.5 1787.0 892.9 1798.5 901.2 1810.5 908.5 1823.5 914.0 1835.5 918.6 1848.5 921.9 1861.5 924.0 1874.5 924.9 1888.5 924.6 1901.5 923.0 1915.5 920.2 1928.5 916.2 1941.5 910.9 1954.5 904.7 1966.5 897.1 1978.5 888.0 1990.5 878.2 2001.5 866.5 2012.6 854.2 2022.5 839.9 2032.5 822.9 2042.5 800.5 2053.7 792.5 2056.6Z" fill="none" stroke="#111" stroke-width="1.6"/>
<path d="M778.5 2065.3L775.9 2053.5 772.6 2021.5 770.3 1962.5 769.6 1891.5 770.3 1819.5 772.6 1761.5 776.0 1728.5 778.5 1717.4 793.5 1718.3 806.5 1721.5 825.9 1728.5 845.5 1737.4 862.0 1746.5 877.3 1756.5 891.3 1767.5 903.5 1778.8 914.8 1791.5 924.4 1804.5 932.3 1817.5 939.0 1831.5 944.5 1846.5 948.3 1861.5 950.5 1876.5 951.3 1891.5 950.4 1907.5 948.1 1922.5 944.1 1937.5 939.0 1951.5 932.2 1965.5 923.6 1979.5 913.9 1992.5 903.5 2004.0 891.1 2015.5 877.0 2026.5 861.6 2036.5 845.2 2045.5 825.5 2054.4 806.5 2061.2 793.5 2064.3Z" fill="none" stroke="#111" stroke-width="1.6"/>
<path d="M778.5 2077.1L774.9 2061.5 771.1 2028.5 769.0 1976.5 768.1 1891.5 769.0 1806.5 771.0 1754.5 774.8 1721.5 778.5 1705.6 799.5 1706.6 819.5 1709.8 841.5 1715.1 863.9 1722.5 883.1 1730.5 901.5 1740.1 918.5 1751.0 933.5 1762.8 946.8 1775.5 958.8 1789.5 969.1 1804.5 978.3 1821.5 985.1 1838.5 989.9 1855.5 992.9 1873.5 993.9 1891.5 992.9 1909.5 990.1 1926.5 985.4 1943.5 978.5 1960.9 969.7 1977.5 959.4 1992.5 947.6 2006.5 934.1 2019.5 918.5 2031.8 901.9 2042.5 883.5 2052.1 864.5 2060.1 842.5 2067.3 820.5 2072.7 799.5 2076.0Z" fill="none" stroke="#111" stroke-width="1.6"/>
<path d="M880.5 2075.7L849.5 2082.4 817.5 2086.3 778.5 2087.5 771.7 2055.5 769.1 2023.5 767.4 1960.5 766.9 1871.5 767.8 1799.5 769.6 1750.5 772.5 1722.1 778.5 1695.2 803.5 1695.6 824.5 1697.1 846.5 1699.9 868.5 1704.2 888.7 1709.5 907.5 1715.9 925.5 1723.6 942.5 1732.7 958.5 1743.2 972.5 1754.4 985.1 1766.5 997.2 1780.5 1007.5 1795.3 1016.0 1810.5 1023.5 1827.5 1029.0 1844.5 1033.0 1863.5 1034.9 1882.5 1034.9 1901.5 1033.0 1919.5 1029.2 1937.5 1023.1 1956.5 1015.5 1973.5 1006.3 1989.5 995.5 2004.5 983.1 2018.5 969.5 2031.1 954.5 2042.5 938.5 2052.5 920.5 2061.6 901.5 2069.2Z" fill="none" stroke="#111" stroke-width="1.6"/>
<path d="M984.5 2073.7L965.5 2082.6 944.5 2090.0 922.5 2095.5 898.5 2099.5 873.5 2101.7 845.5 2102.6 778.5 2099.8 774.9 2088.5 772.0 2074.5 768.1 2040.5 766.2 1983.5 765.5 1891.5 766.1 1799.5 768.1 1742.5 772.0 1708.5 775.1 1693.5 778.5 1682.8 838.5 1680.3 884.5 1682.0 905.5 1684.5 924.5 1687.9 942.8 1692.5 960.5 1698.4 977.5 1705.7 993.9 1714.5 1009.1 1724.5 1023.5 1736.0 1036.6 1748.5 1048.5 1762.3 1058.7 1776.5 1068.1 1792.5 1076.6 1810.5 1083.3 1829.5 1088.2 1849.5 1091.3 1870.5 1092.3 1891.5 1091.3 1912.5 1088.4 1932.5 1083.6 1952.5 1077.0 1971.5 1068.1 1990.5 1058.1 2007.5 1046.3 2023.5 1032.7 2038.5 1018.2 2051.5 1001.8 2063.5Z" fill="none" stroke="#111" stroke-width="1.6"/>
<path d="M1029.5 2084.2L1006.5 2096.4 982.6 2105.5 956.5 2112.1 929.5 2115.9 900.5 2117.1 865.5 2116.0 832.5 2113.3 790.5 2107.5 778.5 2106.7 774.7 2096.5 771.7 2083.5 767.2 2046.5 765.3 1987.5 764.6 1891.5 765.2 1795.5 767.2 1736.5 771.6 1699.5 774.6 1686.5 778.5 1675.8 789.5 1675.2 844.5 1668.5 898.5 1665.9 919.5 1666.4 939.5 1668.2 958.5 1671.3 976.5 1675.7 994.5 1681.7 1012.6 1689.5 1029.5 1698.8 1045.5 1709.7 1060.5 1722.2 1073.7 1735.5 1086.1 1750.5 1097.0 1766.5 1107.4 1785.5 1116.3 1806.5 1123.0 1827.5 1127.9 1850.5 1130.6 1873.5 1131.2 1897.5 1129.6 1920.5 1125.8 1943.5 1120.1 1965.5 1112.4 1986.5 1102.8 2006.5 1091.1 2025.5 1078.1 2042.5 1063.5 2058.0 1047.5 2071.8Z" fill="none" stroke="#111" stroke-width="1.6"/>
<path d="M1050.5 2092.4L1026.5 2105.7 1000.5 2115.9 973.5 2122.7 943.5 2126.4 913.5 2126.8 878.5 2124.4 832.5 2118.8 789.5 2110.8 778.5 2109.9 774.5 2100.2 771.4 2087.5 766.8 2049.5 764.8 1990.5 764.2 1891.5 764.8 1791.5 766.8 1732.5 771.5 1694.5 774.5 1682.5 778.5 1672.6 788.5 1671.9 844.5 1662.6 907.5 1656.5 928.5 1656.1 948.5 1657.1 967.5 1659.4 985.5 1663.0 1004.6 1668.5 1023.5 1676.0 1041.5 1685.2 1057.6 1695.5 1072.9 1707.5 1087.6 1721.5 1100.6 1736.5 1112.5 1753.1 1124.2 1773.5 1134.0 1795.5 1141.7 1818.5 1147.2 1842.5 1150.5 1867.5 1151.6 1892.5 1150.5 1916.5 1147.0 1941.5 1141.7 1964.5 1134.0 1987.5 1124.2 2009.5 1112.8 2029.5 1099.9 2047.5 1084.8 2064.5 1068.2 2079.5Z" fill="none" stroke="#111" stroke-width="1.6"/>
<path d="M1070.5 2103.0L1045.2 2117.5 1017.3 2128.5 987.5 2135.6 956.5 2138.7 927.5 2138.2 894.5 2134.6 828.5 2123.5 787.5 2113.7 778.5 2112.7 774.2 2103.5 771.0 2091.5 766.3 2052.5 764.4 1995.5 763.8 1891.5 764.4 1787.5 766.3 1730.5 770.9 1691.5 774.1 1679.5 778.5 1669.7 787.5 1668.7 813.5 1662.4 890.5 1649.1 917.5 1645.7 938.5 1644.4 957.5 1644.5 976.5 1645.9 994.5 1648.8 1014.5 1653.7 1034.5 1660.8 1052.8 1669.5 1070.5 1680.1 1087.1 1692.5 1102.3 1706.5 1115.8 1721.5 1128.5 1738.5 1141.0 1759.5 1151.8 1782.5 1160.2 1806.5 1166.7 1832.5 1170.8 1859.5 1172.5 1886.5 1171.7 1913.5 1168.7 1939.5 1163.6 1964.5 1156.0 1989.5 1146.5 2012.6 1134.9 2034.5 1121.4 2054.5 1106.3 2072.5 1089.5 2088.6Z" fill="none" stroke="#111" stroke-width="1.6"/>
<path d="M1094.5 2118.9L1080.5 2127.8 1066.5 2135.3 1051.5 2141.9 1035.5 2147.4 1019.5 2151.5 1003.5 2154.2 986.5 2155.9 969.5 2156.3 940.5 2154.3 908.5 2148.9 819.5 2128.0 784.5 2116.6 778.4 2115.5 773.6 2106.5 770.4 2095.5 767.8 2078.5 765.7 2056.5 763.9 2000.5 763.3 1889.5 763.9 1780.5 765.8 1725.5 767.8 1703.5 770.5 1686.5 773.8 1675.5 778.5 1666.6 784.5 1665.8 819.5 1654.9 904.5 1635.2 927.5 1630.7 948.5 1628.0 967.5 1626.9 985.5 1627.2 1004.5 1629.0 1025.5 1633.1 1046.5 1639.4 1066.5 1647.8 1085.5 1658.3 1102.9 1670.5 1119.5 1684.9 1134.5 1700.8 1148.2 1718.5 1162.4 1741.5 1174.0 1765.5 1183.6 1791.5 1191.0 1819.5 1195.9 1848.5 1198.3 1878.5 1198.2 1907.5 1195.5 1937.5 1190.3 1966.5 1183.0 1993.5 1173.2 2019.5 1161.4 2043.5 1147.6 2065.5 1131.8 2085.5 1113.9 2103.5Z" fill="none" stroke="#111" stroke-width="1.6"/>
<path d="M1256.5 1935.5L1252.9 1966.5 1247.3 1996.5 1239.9 2025.5 1230.3 2053.5 1219.5 2078.5 1207.1 2101.5 1192.5 2123.3 1176.8 2142.5 1159.5 2159.6 1140.5 2174.6 1120.5 2187.1 1099.5 2197.0 1077.5 2204.5 1054.5 2209.3 1031.5 2211.5 1006.5 2210.9 987.5 2208.4 969.5 2204.5 950.5 2198.8 932.5 2192.0 911.5 2182.3 858.5 2155.5 843.5 2149.8 811.5 2140.1 799.5 2135.2 784.5 2125.6 772.9 2113.5 769.5 2106.5 767.3 2096.5 763.9 2057.5 762.7 2001.5 762.2 1891.5 762.7 1780.5 764.0 1724.5 767.4 1685.5 769.6 1675.5 773.2 1668.5 784.5 1656.9 798.5 1648.2 811.5 1643.0 842.5 1633.9 858.5 1627.9 911.5 1600.9 933.5 1590.9 952.5 1583.8 969.5 1578.7 987.5 1574.9 1004.5 1572.6 1028.5 1571.8 1052.5 1573.7 1075.5 1578.4 1097.5 1585.5 1118.5 1595.2 1139.5 1608.0 1158.5 1622.9 1176.5 1640.5 1192.5 1659.9 1206.9 1681.5 1219.5 1704.8 1230.5 1730.1 1239.8 1757.5 1247.1 1785.5 1252.7 1815.5 1256.5 1847.6" fill="none" stroke="#111" stroke-width="1.6"/>
<path d="M1256.5 2094.3L1246.4 2117.5 1234.5 2139.9 1221.5 2160.3 1207.5 2178.6 1191.9 2195.5 1175.1 2210.5 1157.5 2223.3 1138.5 2234.2 1118.5 2243.1 1097.5 2249.7 1076.5 2253.9 1055.5 2255.7 1033.5 2255.2 1012.5 2252.5 991.5 2247.5 970.5 2240.1 948.5 2229.7 925.5 2215.9 904.5 2200.9 868.5 2172.9 854.5 2163.7 839.5 2156.9 805.5 2146.3 792.5 2139.7 786.5 2135.3 780.5 2129.2 776.9 2123.5 775.7 2118.5 769.5 2112.5 767.0 2105.5 765.4 2095.5 762.9 2056.5 761.6 1891.5 763.0 1725.5 765.5 1686.3 767.4 1675.5 769.7 1669.5 775.9 1663.5 777.2 1658.5 780.5 1653.5 786.5 1647.5 792.5 1643.2 805.5 1636.9 839.5 1626.6 854.5 1619.9 868.7 1610.5 905.5 1581.7 925.5 1567.4 948.5 1553.7 969.5 1543.8 990.5 1536.3 1011.5 1531.2 1033.5 1528.3 1054.5 1527.8 1076.5 1529.7 1097.5 1533.9 1118.5 1540.5 1138.5 1549.4 1157.5 1560.3 1174.5 1572.6 1191.5 1587.6 1207.2 1604.5 1221.5 1623.1 1234.5 1643.4 1246.2 1665.5 1256.5 1689.0" fill="none" stroke="#111" stroke-width="1.6"/>
<path d="M1256.5 2183.5L1244.2 2203.5 1230.5 2222.3 1215.5 2239.4 1199.5 2254.7 1182.5 2268.0 1164.5 2279.5 1145.5 2289.0 1126.5 2296.2 1106.5 2301.5 1085.5 2304.7 1064.5 2305.7 1043.5 2304.3 1023.5 2300.9 1002.5 2295.0 983.5 2287.3 965.5 2277.8 943.5 2262.9 921.5 2244.1 900.5 2222.6 865.0 2182.5 853.4 2171.5 846.5 2166.8 838.5 2163.1 807.5 2154.3 795.5 2149.5 784.1 2141.5 775.5 2130.4 773.0 2124.5 772.2 2118.5 768.3 2114.5 766.1 2109.5 763.4 2086.5 761.7 2028.5 761.2 1891.5 761.7 1753.5 763.4 1695.5 766.2 1672.5 768.4 1667.5 772.4 1663.5 773.0 1658.5 775.5 1652.3 783.5 1642.0 794.5 1634.3 807.5 1629.1 838.5 1620.6 846.5 1616.9 853.0 1612.5 864.6 1601.5 900.5 1560.8 921.5 1539.3 943.5 1520.6 965.5 1505.8 983.5 1496.5 1002.5 1488.9 1023.5 1483.0 1043.5 1479.7 1064.5 1478.4 1085.5 1479.3 1106.5 1482.6 1126.5 1487.8 1145.5 1495.0 1164.5 1504.5 1182.5 1515.9 1199.5 1529.1 1215.5 1544.3 1230.5 1561.4 1243.8 1579.5 1256.5 1600.0" fill="none" stroke="#111" stroke-width="1.6"/>
<path d="M909.6 2376.5L896.8 2354.5 887.6 2331.5 882.0 2310.5 874.8 2269.5 870.1 2249.5 854.6 2201.5 845.0 2178.5 841.5 2174.4 836.5 2171.9 799.5 2165.8 790.5 2163.3 783.5 2160.1 777.3 2155.5 772.5 2149.5 768.5 2141.3 765.7 2131.5 761.9 2101.5 760.7 2039.5 760.6 1749.5 761.4 1694.5 762.7 1671.5 764.6 1663.5 765.5 1652.5 768.2 1642.5 772.6 1633.5 778.9 1626.5 786.5 1621.9 795.5 1618.8 836.5 1612.0 841.5 1609.5 845.5 1604.5 855.1 1580.5 869.9 1534.5 874.5 1515.5 882.2 1473.5 888.8 1450.5 894.5 1436.5 901.5 1423.1 909.5 1410.5 919.5 1397.6 931.5 1384.8 945.5 1372.5 960.5 1361.7 977.5 1351.8 994.5 1343.9 1013.5 1337.0 1033.5 1331.8 1052.7 1328.5M1110.7 1328.5L1131.5 1332.1 1151.5 1337.6 1171.5 1345.1 1190.5 1354.5 1208.5 1365.6 1225.5 1378.4 1241.5 1393.0 1256.5 1409.3" fill="none" stroke="#111" stroke-width="1.6"/>
<path d="M811.9 2376.5L815.7 2355.5 822.5 2334.5 829.3 2319.5 846.5 2288.5 850.9 2278.5 853.1 2268.5 853.1 2254.5 845.5 2199.5 842.2 2182.5 840.1 2176.5 838.5 2175.3 832.5 2174.3 792.5 2170.9 777.5 2166.8 771.5 2162.7 767.7 2157.5 764.8 2150.5 762.5 2140.0 761.0 2123.5 760.0 2026.5 760.0 1758.5 761.0 1658.5 762.3 1644.5 764.9 1632.5 768.5 1624.5 773.5 1619.2 780.5 1615.6 790.5 1613.2 838.5 1608.7 840.7 1606.5 843.1 1597.5 852.2 1538.5 853.3 1523.5 852.8 1513.5 848.5 1499.4 830.9 1466.5 822.9 1447.5 817.1 1426.5 814.4 1404.5 814.9 1384.5 817.8 1365.5 823.3 1346.5 831.0 1328.5" fill="none" stroke="#3c3f4c" stroke-width="1.4" stroke-dasharray="200 90 120 110" opacity="0.75"/>
<path d="M973.5 2376.5L956.5 2364.6 940.5 2350.4 926.5 2334.8 914.5 2318.0 899.5 2290.1 877.0 2237.5 858.7 2197.5 852.0 2184.5 846.7 2176.5 842.3 2172.5 836.5 2169.7 801.5 2162.5 786.5 2156.7 780.5 2152.3 775.5 2146.7 771.5 2139.8 768.4 2131.5 766.6 2118.5 764.5 2114.1 763.2 2107.5 761.6 2077.5 760.6 1840.5 761.0 1738.5 762.1 1689.5 763.5 1672.5 766.7 1663.5 769.0 1649.5 772.3 1641.5 776.5 1635.1 781.5 1630.1 787.5 1626.2 801.5 1621.1 836.5 1614.1 841.5 1611.9 845.6 1608.5 851.8 1599.5 860.4 1582.5 902.5 1487.5 911.5 1471.2 922.1 1455.5 939.5 1435.7 960.5 1417.8 983.5 1403.4 1008.5 1392.3 1024.5 1387.1 1041.5 1383.2 1058.5 1380.7 1075.5 1379.6 1093.5 1379.9 1110.5 1381.6 1127.5 1384.7 1143.5 1389.0 1159.5 1394.7 1175.5 1401.8 1190.5 1410.1 1205.5 1419.9 1219.5 1430.8 1232.5 1442.6 1244.5 1455.2 1256.5 1469.6M1256.5 2314.9L1240.9 2333.5 1224.5 2349.8 1207.5 2363.9 1188.7 2376.5" fill="none" stroke="#3c3f4c" stroke-width="1.4" stroke-dasharray="200 90 120 110" opacity="0.75"/>
<path d="M1256.5 2239.1L1243.3 2257.5 1228.5 2275.0 1212.5 2290.7 1195.5 2304.5 1178.5 2315.8 1159.5 2325.9 1140.5 2333.7 1120.5 2339.6 1099.5 2343.4 1079.5 2344.9 1058.5 2344.3 1037.5 2341.4 1018.5 2336.8 998.5 2329.6 979.5 2320.4 962.5 2309.7 940.5 2291.9 919.5 2269.5 899.0 2242.5 860.8 2186.5 850.7 2174.5 844.5 2169.6 837.5 2166.3 805.5 2158.2 792.5 2153.1 781.5 2145.0 773.4 2133.5 770.5 2125.5 769.7 2118.5 766.6 2114.5 764.9 2109.5 762.8 2088.5 761.3 2030.5 761.3 1753.5 762.7 1694.5 765.0 1672.5 766.8 1667.5 769.9 1663.5 770.8 1656.5 773.3 1649.5 781.0 1638.5 792.5 1630.2 805.5 1625.3 836.5 1617.9 843.5 1614.7 849.5 1610.3 860.5 1597.5 898.5 1541.6 917.5 1516.5 938.5 1493.8 961.5 1475.0 979.5 1463.8 997.5 1455.2 1016.5 1448.3 1037.5 1443.2 1058.5 1440.4 1079.5 1439.8 1099.5 1441.3 1120.5 1445.1 1140.5 1450.9 1159.5 1458.5 1178.5 1468.5 1195.5 1479.7 1212.5 1493.4 1228.5 1509.0 1243.4 1526.5 1256.5 1544.7" fill="none" stroke="#3c3f4c" stroke-width="1.4" stroke-dasharray="200 90 120 110" opacity="0.75"/>
<path d="M1256.5 2144.8L1244.8 2166.5 1231.8 2186.5 1217.5 2205.0 1202.5 2221.2 1186.5 2235.6 1168.5 2248.8 1150.2 2259.5 1131.5 2268.0 1111.5 2274.8 1091.5 2279.2 1070.5 2281.6 1048.5 2281.6 1027.5 2279.4 1006.5 2274.8 986.5 2268.1 967.5 2259.5 945.5 2246.7 923.5 2230.6 902.5 2212.4 867.0 2178.5 854.6 2168.5 840.5 2161.1 809.5 2151.8 796.5 2146.4 784.5 2138.0 776.5 2127.9 774.3 2122.5 773.8 2118.5 769.4 2114.5 766.7 2108.5 763.8 2084.5 761.9 2027.5 761.4 1891.5 761.9 1755.5 763.7 1698.5 766.8 1673.5 769.6 1667.5 774.0 1663.5 776.5 1654.8 784.5 1644.9 796.5 1636.7 809.5 1631.6 839.5 1623.0 854.5 1615.1 866.4 1605.5 902.5 1571.0 923.5 1552.8 944.5 1537.4 966.5 1524.5 985.5 1515.9 1006.5 1508.9 1027.5 1504.4 1048.5 1502.2 1070.5 1502.2 1091.5 1504.6 1111.5 1509.1 1131.5 1515.8 1150.5 1524.4 1168.5 1535.0 1186.5 1548.1 1202.6 1562.5 1218.3 1579.5 1232.2 1597.5 1245.1 1617.5 1256.5 1638.6" fill="none" stroke="#3c3f4c" stroke-width="1.4" stroke-dasharray="200 90 120 110" opacity="0.75"/>
<path d="M1256.5 2033.6L1248.4 2059.5 1238.5 2084.8 1227.0 2108.5 1214.5 2129.7 1200.5 2149.2 1185.5 2166.6 1168.5 2182.7 1150.5 2196.5 1131.5 2208.2 1111.5 2217.6 1089.5 2225.0 1068.5 2229.6 1046.5 2231.9 1024.5 2231.7 1002.5 2229.2 979.5 2224.0 956.5 2216.1 931.5 2204.6 908.5 2191.6 870.6 2167.5 854.5 2158.7 840.5 2153.2 809.5 2143.6 797.5 2138.3 783.5 2128.3 778.6 2122.5 776.5 2117.8 770.9 2112.5 768.1 2105.5 766.3 2095.5 763.4 2056.5 761.9 1891.5 762.3 1781.5 763.4 1725.5 766.3 1686.5 768.2 1676.5 771.1 1669.5 776.5 1664.5 779.0 1659.5 782.5 1655.3 788.5 1650.2 796.5 1645.2 809.5 1639.6 840.5 1630.3 854.5 1624.7 869.7 1616.5 907.5 1592.3 929.5 1579.7 954.5 1568.0 977.5 1559.9 1000.5 1554.5 1022.5 1551.8 1044.5 1551.5 1066.5 1553.6 1088.5 1558.2 1109.5 1565.1 1130.5 1574.8 1149.5 1586.2 1167.5 1599.9 1184.5 1615.8 1200.0 1633.5 1214.4 1653.5 1227.4 1675.5 1238.5 1698.5 1248.3 1723.5 1256.5 1749.6" fill="none" stroke="#3c3f4c" stroke-width="1.4" stroke-dasharray="200 90 120 110" opacity="0.75"/>
<path d="M1015.5 2192.4L996.5 2192.1 977.5 2190.1 958.5 2186.6 937.5 2180.9 913.5 2172.5 858.5 2150.0 805.5 2133.6 793.5 2128.0 780.5 2119.6 775.1 2114.5 772.4 2110.5 769.8 2103.5 767.9 2094.5 764.6 2059.5 763.1 2010.5 762.5 1861.5 763.7 1743.5 767.2 1693.5 769.7 1679.5 773.2 1670.5 780.5 1662.7 791.5 1655.8 801.5 1651.0 815.5 1646.0 858.5 1633.4 929.5 1604.9 948.5 1599.1 968.5 1594.6 987.5 1591.9 1006.5 1590.8 1031.5 1591.9 1054.5 1595.7 1076.5 1601.9 1098.5 1610.9 1119.2 1622.5 1138.7 1636.5 1156.5 1652.6 1173.3 1671.5 1188.3 1692.5 1201.1 1714.5 1212.5 1739.2 1222.0 1765.5 1229.7 1793.5 1235.5 1823.5 1239.1 1853.5 1240.6 1884.5 1240.0 1915.5 1237.3 1946.5 1232.3 1977.5 1225.6 2005.5 1217.0 2032.5 1206.1 2058.5 1193.5 2082.3 1179.5 2103.6 1163.5 2123.3 1146.1 2140.5 1127.1 2155.5 1106.5 2168.2 1085.5 2178.1 1062.5 2185.7 1039.5 2190.4Z" fill="none" stroke="#3c3f4c" stroke-width="1.4" stroke-dasharray="200 90 120 110" opacity="0.75"/>
<path d="M1000.5 2172.1L983.5 2172.2 964.5 2170.8 946.5 2168.2 927.5 2164.1 858.5 2143.2 811.5 2130.5 778.5 2116.9 772.6 2107.5 768.9 2093.5 765.8 2066.5 764.2 2034.5 762.9 1893.5 764.1 1751.5 765.3 1722.5 767.7 1697.5 770.5 1681.5 774.2 1671.5 778.5 1665.3 805.5 1654.3 860.5 1639.5 913.5 1622.9 950.5 1614.3 983.5 1611.0 1006.5 1611.5 1030.5 1614.6 1052.5 1619.9 1074.5 1628.0 1095.3 1638.5 1114.5 1651.1 1132.5 1666.0 1148.6 1682.5 1163.6 1701.5 1177.1 1722.5 1188.9 1745.5 1198.6 1769.5 1206.6 1795.5 1212.6 1822.5 1216.6 1850.5 1218.6 1879.5 1218.4 1908.5 1216.1 1937.5 1211.7 1965.5 1205.3 1992.5 1196.8 2018.5 1186.6 2042.5 1174.5 2065.1 1160.5 2086.0 1145.2 2104.5 1127.7 2121.5 1109.5 2135.7 1089.5 2147.9 1068.5 2157.7 1046.5 2165.0 1023.5 2169.8Z" fill="none" stroke="#3c3f4c" stroke-width="1.4" stroke-dasharray="200 90 120 110" opacity="0.75"/>
<path d="M1082.5 2110.1L1055.5 2125.8 1026.5 2137.2 995.5 2144.2 963.5 2146.9 934.5 2145.7 902.5 2141.4 824.5 2125.9 786.5 2115.3 778.5 2114.3 773.7 2104.5 770.7 2093.5 766.0 2054.5 764.2 1998.5 763.5 1891.5 764.2 1784.5 766.0 1728.5 768.2 1705.5 770.9 1688.5 773.9 1677.5 778.5 1668.1 786.5 1667.1 826.5 1656.6 894.5 1643.2 921.5 1638.8 942.5 1636.8 961.5 1636.2 979.5 1637.0 998.5 1639.4 1019.5 1643.9 1039.5 1650.4 1058.5 1658.8 1076.5 1669.1 1093.9 1681.5 1109.8 1695.5 1124.5 1711.3 1137.6 1728.5 1150.6 1749.5 1162.1 1773.5 1171.3 1798.5 1178.3 1825.5 1182.8 1852.5 1184.9 1880.5 1184.6 1909.5 1181.9 1937.5 1176.8 1964.5 1169.3 1990.5 1159.6 2015.5 1147.8 2038.5 1134.1 2059.5 1118.6 2078.5 1101.3 2095.5Z" fill="none" stroke="#3c3f4c" stroke-width="1.4" stroke-dasharray="200 90 120 110" opacity="0.75"/>
<path d="M1007.5 2077.9L986.5 2088.5 964.5 2096.6 940.5 2102.8 914.5 2106.9 886.5 2108.8 855.5 2108.9 828.5 2107.6 778.5 2103.3 775.1 2093.5 772.0 2079.5 767.7 2043.5 765.7 1984.5 765.0 1891.5 765.7 1797.5 767.7 1739.5 771.9 1703.5 775.0 1689.5 778.5 1679.2 842.5 1674.5 890.5 1674.3 911.5 1675.8 931.5 1678.5 950.5 1682.5 968.0 1687.5 985.5 1694.1 1002.9 1702.5 1019.5 1712.5 1034.4 1723.5 1048.5 1736.1 1060.9 1749.5 1072.4 1764.5 1082.0 1779.5 1091.7 1798.5 1099.5 1818.5 1105.2 1838.5 1109.3 1860.5 1111.1 1882.5 1111.0 1903.5 1108.8 1925.5 1104.5 1947.5 1098.5 1967.5 1090.3 1987.5 1080.2 2006.5 1068.8 2023.5 1055.6 2039.5 1041.4 2053.5 1025.2 2066.5Z" fill="none" stroke="#3c3f4c" stroke-width="1.4" stroke-dasharray="200 90 120 110" opacity="0.75"/>
<path d="M943.5 2070.9L926.5 2077.5 909.5 2082.7 890.5 2087.1 870.5 2090.5 829.5 2094.0 778.5 2093.9 772.1 2066.5 768.7 2034.5 766.9 1979.5 766.2 1891.5 766.9 1803.5 768.7 1749.5 772.0 1716.5 778.5 1688.7 830.5 1688.8 874.5 1693.0 895.5 1696.8 914.5 1701.6 932.5 1707.6 949.5 1714.7 965.5 1723.0 980.6 1732.5 995.0 1743.5 1008.1 1755.5 1019.8 1768.5 1031.0 1783.5 1040.1 1798.5 1047.8 1814.5 1054.2 1831.5 1059.2 1850.5 1062.3 1869.5 1063.5 1889.5 1062.7 1909.5 1060.0 1928.5 1055.4 1947.5 1049.0 1965.5 1041.1 1982.5 1031.6 1998.5 1020.6 2013.5 1007.5 2028.0 993.8 2040.5 978.5 2051.9 961.5 2062.2Z" fill="none" stroke="#3c3f4c" stroke-width="1.4" stroke-dasharray="200 90 120 110" opacity="0.75"/>
<path d="M778.5 2082.4L773.5 2060.5 770.2 2028.5 768.3 1978.5 767.5 1869.5 769.1 1777.5 772.3 1730.5 778.5 1700.2 801.5 1701.0 824.5 1703.7 848.5 1708.3 871.5 1714.6 893.2 1722.5 912.5 1731.4 930.5 1741.9 946.7 1753.5 961.4 1766.5 975.1 1781.5 986.5 1797.1 996.0 1813.5 1003.9 1831.5 1009.7 1850.5 1013.2 1869.5 1014.6 1888.5 1013.9 1907.5 1011.0 1926.5 1005.9 1945.5 998.8 1963.5 989.8 1980.5 979.0 1996.5 966.2 2011.5 951.4 2025.5 935.5 2037.7 918.0 2048.5 899.5 2057.7 878.5 2065.9 856.5 2072.5 832.5 2077.7 809.5 2081.0Z" fill="none" stroke="#3c3f4c" stroke-width="1.4" stroke-dasharray="200 90 120 110" opacity="0.75"/>
<path d="M778.5 2070.6L775.5 2057.5 771.9 2025.5 769.6 1966.5 768.9 1891.5 769.6 1817.5 771.9 1757.5 775.4 1725.5 778.5 1712.0 795.5 1713.0 812.5 1716.5 833.5 1722.9 853.5 1730.8 871.4 1739.5 888.3 1749.5 903.7 1760.5 917.5 1772.5 929.9 1785.5 940.1 1798.5 949.0 1812.5 956.6 1827.5 962.3 1842.5 966.9 1859.5 969.3 1875.5 970.1 1891.5 969.3 1907.5 966.6 1924.5 961.9 1941.5 956.1 1956.5 948.3 1971.5 939.2 1985.5 928.9 1998.5 916.5 2011.3 902.1 2023.5 887.5 2033.8 871.0 2043.5 853.5 2052.0 833.5 2059.8 812.5 2066.2 795.5 2069.6Z" fill="none" stroke="#3c3f4c" stroke-width="1.4" stroke-dasharray="200 90 120 110" opacity="0.75"/>
<path d="M778.5 2061.4L776.4 2051.5 772.6 2011.5 770.8 1960.5 770.1 1891.5 770.8 1822.5 772.7 1770.5 776.3 1731.5 778.5 1721.3 791.5 1722.0 801.0 1724.5 820.5 1732.5 839.5 1742.1 855.2 1751.5 868.5 1760.9 881.5 1771.6 893.6 1783.5 903.9 1795.5 913.1 1808.5 920.5 1821.5 926.5 1834.5 931.5 1848.5 934.9 1862.5 937.0 1876.5 937.7 1891.5 937.1 1905.5 934.9 1920.5 931.4 1934.5 926.4 1948.5 920.4 1961.5 912.9 1974.5 904.5 1986.5 894.3 1998.5 882.2 2010.5 869.0 2021.5 854.8 2031.5 839.8 2040.5 821.5 2049.7 801.5 2058.0 791.5 2060.7Z" fill="none" stroke="#3c3f4c" stroke-width="1.4" stroke-dasharray="200 90 120 110" opacity="0.75"/>
<path d="M778.5 2053.7L775.2 2028.5 772.7 1985.5 771.5 1935.5 771.3 1867.5 772.6 1800.5 775.1 1755.5 778.5 1728.9 788.5 1729.5 795.5 1731.5 826.6 1749.5 853.3 1769.5 864.5 1780.0 875.0 1791.5 891.3 1814.5 903.0 1838.5 910.1 1863.5 912.8 1889.5 912.3 1903.5 910.7 1916.5 904.0 1941.5 892.9 1965.5 878.1 1987.5 858.5 2008.6 833.6 2028.5 797.5 2050.3 790.5 2052.8Z" fill="none" stroke="#3c3f4c" stroke-width="1.4" stroke-dasharray="200 90 120 110" opacity="0.75"/>
<path d="M778.5 2043.4L774.7 2003.5 773.0 1958.5 772.3 1891.5 773.0 1823.5 774.8 1778.5 778.5 1739.3 787.5 1739.8 793.5 1741.9 803.1 1747.5 816.8 1757.5 840.7 1778.5 860.3 1801.5 873.2 1822.5 882.6 1844.5 888.4 1867.5 890.4 1891.5 888.5 1914.5 882.9 1937.5 873.1 1960.5 860.1 1981.5 841.4 2003.5 817.7 2024.5 804.1 2034.5 794.5 2040.2 788.5 2042.7Z" fill="none" stroke="#3c3f4c" stroke-width="1.4" stroke-dasharray="200 90 120 110" opacity="0.75"/>
<path d="M778.5 2030.8L775.2 1985.5 773.5 1891.5 775.3 1796.5 778.5 1751.8 787.5 1752.6 793.5 1755.1 808.6 1768.5 828.2 1789.5 843.3 1810.5 853.9 1830.5 861.3 1850.5 865.8 1871.5 867.1 1891.5 865.6 1912.5 860.9 1933.5 853.3 1953.5 843.1 1972.5 834.3 1985.5 823.7 1998.5 797.5 2024.5 789.5 2029.4Z" fill="none" stroke="#3c3f4c" stroke-width="1.4" stroke-dasharray="200 90 120 110" opacity="0.75"/>
<path d="M778.5 2014.4L776.4 1983.5 774.6 1891.5 776.4 1799.5 778.5 1768.2 790.5 1770.1 797.9 1775.5 815.2 1797.5 827.6 1817.5 836.0 1835.5 841.9 1853.5 845.7 1872.5 846.9 1891.5 845.6 1910.5 841.9 1929.5 835.9 1947.5 827.5 1965.5 815.0 1985.5 798.6 2006.5 790.5 2012.6Z" fill="none" stroke="#3c3f4c" stroke-width="1.4" stroke-dasharray="200 90 120 110" opacity="0.75"/>
<path d="M780.5 1997.6L778.5 1997.6 777.5 1981.5 775.7 1891.5 777.5 1800.5 778.5 1785.2 787.5 1786.6 797.5 1794.7 802.2 1801.5 814.2 1823.5 821.1 1840.5 826.0 1857.5 828.9 1874.5 829.9 1891.5 828.9 1908.5 826.0 1925.5 821.4 1941.5 814.5 1958.5 802.0 1981.5 797.5 1987.9 788.5 1995.6Z" fill="none" stroke="#3c3f4c" stroke-width="1.4" stroke-dasharray="200 90 120 110" opacity="0.75"/>
<path d="M780.5 1974.5L778.5 1974.4 776.8 1891.5 778.5 1808.4 785.5 1809.4 790.5 1812.8 795.1 1817.5 798.6 1823.5 806.1 1844.5 809.9 1859.5 812.3 1874.5 813.2 1891.5 812.3 1908.5 809.8 1923.5 806.4 1937.5 798.9 1958.5 795.6 1964.5 791.5 1969.0 786.5 1972.8Z" fill="none" stroke="#3c3f4c" stroke-width="1.4" stroke-dasharray="200 90 120 110" opacity="0.75"/>
<path d="M778.5 1945.5L777.7 1891.5 778.5 1837.1 784.5 1837.7 788.5 1839.7 793.1 1846.5 794.9 1856.5 798.4 1867.5 800.1 1891.5 798.5 1914.5 794.9 1926.5 793.4 1935.5 791.5 1939.5 788.5 1943.0 785.5 1944.7Z" fill="none" stroke="#3c3f4c" stroke-width="1.4" stroke-dasharray="200 90 120 110" opacity="0.75"/>
<path d="M891.5 1522.0 L892.9 1508.1 L901.7 1512.5 Z" fill="#3a3a3a"/><path d="M843.4 1619.5 L855.0 1599.0 L865.7 1611.9 Z" fill="#111"/><path d="M818.9 1654.3 L836.9 1642.7 L840.1 1657.5 Z" fill="#111"/><path d="M1025.5 1464.3 L1035.5 1458.1 L1037.1 1466.3 Z" fill="#444"/><path d="M1151.4 1414.7 L1162.1 1415.0 L1159.3 1422.0 Z" fill="#444"/><path d="M1138.6 1526.8 L1151.3 1528.1 L1147.2 1536.2 Z" fill="#444"/><path d="M1057.4 1598.4 L1073.4 1597.2 L1070.1 1608.2 Z" fill="#111"/><path d="M1038.4 1738.0 L1053.8 1745.5 L1045.0 1753.8 Z" fill="#111"/><path d="M1133.1 1745.9 L1144.7 1755.5 L1135.4 1760.7 Z" fill="#111"/><path d="M909.0 1784.2 L925.5 1794.1 L914.8 1802.6 Z" fill="#111"/><path d="M991.0 1861.7 L999.9 1878.8 L986.3 1880.4 Z" fill="#111"/><path d="M878.0 1875.2 L885.5 1893.0 L871.8 1893.4 Z" fill="#111"/><path d="M904.5 2078.4 L888.7 2089.4 L885.4 2076.1 Z" fill="#111"/><path d="M1051.8 2015.6 L1046.3 2031.9 L1036.9 2024.2 Z" fill="#111"/><path d="M1043.2 2117.9 L1031.6 2129.0 L1027.2 2118.4 Z" fill="#111"/><path d="M1136.5 2099.5 L1130.8 2112.2 L1123.8 2105.1 Z" fill="#111"/><path d="M1075.5 2232.0 L1065.3 2237.8 L1064.0 2229.5 Z" fill="#444"/><path d="M1171.4 2327.3 L1164.1 2335.2 L1160.7 2328.4 Z" fill="#444"/>
<clipPath id="coreB"><rect x="759" y="1664" width="21" height="455"/></clipPath>
<rect x="759.0" y="1664.0" width="21.0" height="455.0" fill="#050505" stroke="none" stroke-width="0.0"/>
<g clip-path="url(#coreB)" fill="none" stroke-width="1.6">
<circle cx="781" cy="1662" r="9" stroke="#30b8e8"/>
<circle cx="781" cy="2121" r="9" stroke="#30b8e8"/>
<circle cx="781" cy="1662" r="14" stroke="#3cc0d8"/>
<circle cx="781" cy="2121" r="14" stroke="#3cc0d8"/>
<circle cx="781" cy="1662" r="19" stroke="#60c090"/>
<circle cx="781" cy="2121" r="19" stroke="#60c090"/>
<circle cx="781" cy="1662" r="24" stroke="#a0cc50"/>
<circle cx="781" cy="2121" r="24" stroke="#a0cc50"/>
<circle cx="781" cy="1662" r="29" stroke="#d8dc30"/>
<circle cx="781" cy="2121" r="29" stroke="#d8dc30"/>
<circle cx="781" cy="1662" r="34" stroke="#f0b020"/>
<circle cx="781" cy="2121" r="34" stroke="#f0b020"/>
<circle cx="781" cy="1662" r="39" stroke="#e86020"/>
<circle cx="781" cy="2121" r="39" stroke="#e86020"/>
<circle cx="781" cy="1662" r="44" stroke="#c02818"/>
<circle cx="781" cy="2121" r="44" stroke="#c02818"/>
</g>
</g>
<line x1="168.6" y1="1328.5" x2="168.6" y2="2376.4" stroke="#808080" stroke-width="2.0"/>
<rect x="170.5" y="1511.5" width="506.5" height="761.1" fill="none" stroke="#231f20" stroke-width="6.2"/>
<path d="M677 1511.8 H839.2 V2272.6 H677" fill="none" stroke="#231f20" stroke-width="4.2"/>
<rect x="758.3" y="1607.6" width="80.7" height="568.4" fill="none" stroke="#000" stroke-width="1.5"/>
<circle cx="789.5" cy="1731.8" r="10" fill="#3a55a7" stroke="#101020" stroke-width="1.5"/>
<circle cx="789.5" cy="1754.6" r="10" fill="#3a55a7" stroke="#101020" stroke-width="1.5"/>
<circle cx="789.5" cy="1777.4" r="10" fill="#3a55a7" stroke="#101020" stroke-width="1.5"/>
<circle cx="789.5" cy="1800.1" r="10" fill="#3a55a7" stroke="#101020" stroke-width="1.5"/>
<circle cx="789.5" cy="1822.9" r="10" fill="#3a55a7" stroke="#101020" stroke-width="1.5"/>
<circle cx="789.5" cy="1845.7" r="10" fill="#3a55a7" stroke="#101020" stroke-width="1.5"/>
<circle cx="789.5" cy="1868.5" r="10" fill="#3a55a7" stroke="#101020" stroke-width="1.5"/>
<circle cx="789.5" cy="1891.3" r="10" fill="#3a55a7" stroke="#101020" stroke-width="1.5"/>
<circle cx="789.5" cy="1914.0" r="10" fill="#3a55a7" stroke="#101020" stroke-width="1.5"/>
<circle cx="789.5" cy="1936.8" r="10" fill="#3a55a7" stroke="#101020" stroke-width="1.5"/>
<circle cx="789.5" cy="1959.6" r="10" fill="#3a55a7" stroke="#101020" stroke-width="1.5"/>
<circle cx="789.5" cy="1982.4" r="10" fill="#3a55a7" stroke="#101020" stroke-width="1.5"/>
<circle cx="789.5" cy="2005.2" r="10" fill="#3a55a7" stroke="#101020" stroke-width="1.5"/>
<circle cx="789.5" cy="2027.9" r="10" fill="#3a55a7" stroke="#101020" stroke-width="1.5"/>
<circle cx="789.5" cy="2050.7" r="10" fill="#3a55a7" stroke="#101020" stroke-width="1.5"/>
<path d="M1090 1328.5 V1387.5 H1258" fill="none" stroke="#fff" stroke-width="3"/>
<line x1="376.3" y1="1329.5" x2="376.3" y2="1339.5" stroke="#26286e" stroke-width="3.5"/>
<line x1="376.3" y1="2365.4" x2="376.3" y2="2375.4" stroke="#26286e" stroke-width="3.5"/>
<line x1="583.6" y1="1329.5" x2="583.6" y2="1339.5" stroke="#26286e" stroke-width="3.5"/>
<line x1="583.6" y1="2365.4" x2="583.6" y2="2375.4" stroke="#26286e" stroke-width="3.5"/>
<line x1="790.9" y1="1329.5" x2="790.9" y2="1339.5" stroke="#26286e" stroke-width="3.5"/>
<line x1="790.9" y1="2365.4" x2="790.9" y2="2375.4" stroke="#26286e" stroke-width="3.5"/>
<line x1="998.2" y1="1329.5" x2="998.2" y2="1339.5" stroke="#26286e" stroke-width="3.5"/>
<line x1="998.2" y1="2365.4" x2="998.2" y2="2375.4" stroke="#26286e" stroke-width="3.5"/>
<line x1="1243.5" y1="2348.0" x2="1255.5" y2="2348.0" stroke="#26286e" stroke-width="3.5"/>
<line x1="1243.5" y1="2272.0" x2="1255.5" y2="2272.0" stroke="#26286e" stroke-width="3.5"/>
<line x1="1243.5" y1="2196.0" x2="1255.5" y2="2196.0" stroke="#26286e" stroke-width="3.5"/>
<line x1="1243.5" y1="2120.0" x2="1255.5" y2="2120.0" stroke="#26286e" stroke-width="3.5"/>
<line x1="1243.5" y1="2044.0" x2="1255.5" y2="2044.0" stroke="#26286e" stroke-width="3.5"/>
<line x1="1243.5" y1="1968.0" x2="1255.5" y2="1968.0" stroke="#26286e" stroke-width="3.5"/>
<line x1="1243.5" y1="1892.0" x2="1255.5" y2="1892.0" stroke="#26286e" stroke-width="3.5"/>
<line x1="1243.5" y1="1816.0" x2="1255.5" y2="1816.0" stroke="#26286e" stroke-width="3.5"/>
<line x1="1243.5" y1="1740.0" x2="1255.5" y2="1740.0" stroke="#26286e" stroke-width="3.5"/>
<line x1="1243.5" y1="1664.0" x2="1255.5" y2="1664.0" stroke="#26286e" stroke-width="3.5"/>
<line x1="1243.5" y1="1588.0" x2="1255.5" y2="1588.0" stroke="#26286e" stroke-width="3.5"/>
<line x1="1243.5" y1="1512.0" x2="1255.5" y2="1512.0" stroke="#26286e" stroke-width="3.5"/>
<line x1="1243.5" y1="1436.0" x2="1255.5" y2="1436.0" stroke="#26286e" stroke-width="3.5"/>
<line x1="1243.5" y1="1360.0" x2="1255.5" y2="1360.0" stroke="#26286e" stroke-width="3.5"/>
<path d="M124.5 1328.5 H1256.5 V2376.4 H124.5 Z" fill="none" stroke="#808080" stroke-width="3"/>
<line x1="124.5" y1="2348.0" x2="136.5" y2="2348.0" stroke="#808080" stroke-width="4.0"/>
<text x="70.2" y="2356.0" font-family='"Liberation Sans", sans-serif' font-size="23.6" fill="#1a1a1a" text-anchor="start" font-weight="normal" textLength="44.4" lengthAdjust="spacingAndGlyphs">-20</text>
<line x1="124.5" y1="2272.0" x2="136.5" y2="2272.0" stroke="#808080" stroke-width="4.0"/>
<text x="97.8" y="2280.0" font-family='"Liberation Sans", sans-serif' font-size="23.6" fill="#1a1a1a" text-anchor="start" font-weight="normal" textLength="16.8" lengthAdjust="spacingAndGlyphs">0</text>
<line x1="124.5" y1="2196.0" x2="136.5" y2="2196.0" stroke="#808080" stroke-width="4.0"/>
<text x="81.0" y="2204.0" font-family='"Liberation Sans", sans-serif' font-size="23.6" fill="#1a1a1a" text-anchor="start" font-weight="normal" textLength="33.6" lengthAdjust="spacingAndGlyphs">20</text>
<line x1="124.5" y1="2120.0" x2="136.5" y2="2120.0" stroke="#808080" stroke-width="4.0"/>
<text x="81.0" y="2128.0" font-family='"Liberation Sans", sans-serif' font-size="23.6" fill="#1a1a1a" text-anchor="start" font-weight="normal" textLength="33.6" lengthAdjust="spacingAndGlyphs">40</text>
<line x1="124.5" y1="2044.0" x2="136.5" y2="2044.0" stroke="#808080" stroke-width="4.0"/>
<text x="81.0" y="2052.0" font-family='"Liberation Sans", sans-serif' font-size="23.6" fill="#1a1a1a" text-anchor="start" font-weight="normal" textLength="33.6" lengthAdjust="spacingAndGlyphs">60</text>
<line x1="124.5" y1="1968.0" x2="136.5" y2="1968.0" stroke="#808080" stroke-width="4.0"/>
<text x="81.0" y="1976.0" font-family='"Liberation Sans", sans-serif' font-size="23.6" fill="#1a1a1a" text-anchor="start" font-weight="normal" textLength="33.6" lengthAdjust="spacingAndGlyphs">80</text>
<line x1="124.5" y1="1892.0" x2="136.5" y2="1892.0" stroke="#808080" stroke-width="4.0"/>
<text x="64.2" y="1900.0" font-family='"Liberation Sans", sans-serif' font-size="23.6" fill="#1a1a1a" text-anchor="start" font-weight="normal" textLength="50.4" lengthAdjust="spacingAndGlyphs">100</text>
<line x1="124.5" y1="1816.0" x2="136.5" y2="1816.0" stroke="#808080" stroke-width="4.0"/>
<text x="64.2" y="1824.0" font-family='"Liberation Sans", sans-serif' font-size="23.6" fill="#1a1a1a" text-anchor="start" font-weight="normal" textLength="50.4" lengthAdjust="spacingAndGlyphs">120</text>
<line x1="124.5" y1="1740.0" x2="136.5" y2="1740.0" stroke="#808080" stroke-width="4.0"/>
<text x="64.2" y="1748.0" font-family='"Liberation Sans", sans-serif' font-size="23.6" fill="#1a1a1a" text-anchor="start" font-weight="normal" textLength="50.4" lengthAdjust="spacingAndGlyphs">140</text>
<line x1="124.5" y1="1664.0" x2="136.5" y2="1664.0" stroke="#808080" stroke-width="4.0"/>
<text x="64.2" y="1672.0" font-family='"Liberation Sans", sans-serif' font-size="23.6" fill="#1a1a1a" text-anchor="start" font-weight="normal" textLength="50.4" lengthAdjust="spacingAndGlyphs">160</text>
<line x1="124.5" y1="1588.0" x2="136.5" y2="1588.0" stroke="#808080" stroke-width="4.0"/>
<text x="64.2" y="1596.0" font-family='"Liberation Sans", sans-serif' font-size="23.6" fill="#1a1a1a" text-anchor="start" font-weight="normal" textLength="50.4" lengthAdjust="spacingAndGlyphs">180</text>
<line x1="124.5" y1="1512.0" x2="136.5" y2="1512.0" stroke="#808080" stroke-width="4.0"/>
<text x="64.2" y="1520.0" font-family='"Liberation Sans", sans-serif' font-size="23.6" fill="#1a1a1a" text-anchor="start" font-weight="normal" textLength="50.4" lengthAdjust="spacingAndGlyphs">200</text>
<line x1="124.5" y1="1436.0" x2="136.5" y2="1436.0" stroke="#808080" stroke-width="4.0"/>
<text x="64.2" y="1444.0" font-family='"Liberation Sans", sans-serif' font-size="23.6" fill="#1a1a1a" text-anchor="start" font-weight="normal" textLength="50.4" lengthAdjust="spacingAndGlyphs">220</text>
<line x1="124.5" y1="1360.0" x2="136.5" y2="1360.0" stroke="#808080" stroke-width="4.0"/>
<text x="64.2" y="1368.0" font-family='"Liberation Sans", sans-serif' font-size="23.6" fill="#1a1a1a" text-anchor="start" font-weight="normal" textLength="50.4" lengthAdjust="spacingAndGlyphs">240</text>
<text x="25.1" y="1338.0" font-family='"Liberation Sans", sans-serif' font-size="21.5" fill="#1a1a1a" text-anchor="start" font-weight="normal" textLength="44.0" lengthAdjust="spacingAndGlyphs">mm</text>
<text x="161.2" y="2412.0" font-family='"Liberation Sans", sans-serif' font-size="24.6" fill="#1a1a1a" text-anchor="start" font-weight="normal" textLength="16.6" lengthAdjust="spacingAndGlyphs">0</text>
<text x="360.2" y="2412.0" font-family='"Liberation Sans", sans-serif' font-size="24.6" fill="#1a1a1a" text-anchor="start" font-weight="normal" textLength="33.2" lengthAdjust="spacingAndGlyphs">50</text>
<text x="559.2" y="2412.0" font-family='"Liberation Sans", sans-serif' font-size="24.6" fill="#1a1a1a" text-anchor="start" font-weight="normal" textLength="49.8" lengthAdjust="spacingAndGlyphs">100</text>
<text x="766.5" y="2412.0" font-family='"Liberation Sans", sans-serif' font-size="24.6" fill="#1a1a1a" text-anchor="start" font-weight="normal" textLength="49.8" lengthAdjust="spacingAndGlyphs">150</text>
<text x="973.8" y="2412.0" font-family='"Liberation Sans", sans-serif' font-size="24.6" fill="#1a1a1a" text-anchor="start" font-weight="normal" textLength="49.8" lengthAdjust="spacingAndGlyphs">200</text>
<text x="1214.0" y="2410.5" font-family='"Liberation Sans", sans-serif' font-size="21.0" fill="#1a1a1a" text-anchor="start" font-weight="normal" textLength="42.0" lengthAdjust="spacingAndGlyphs">mm</text>
<text x="630.9" y="1436.0" font-family='"Liberation Serif", serif' font-size="38.5" fill="#ec1c24" text-anchor="start" font-weight="normal" textLength="95.4" lengthAdjust="spacingAndGlyphs">Water</text>
<text x="682.0" y="1562.4" font-family='"Liberation Serif", serif' font-size="32.0" fill="#ec1c24" text-anchor="start" font-weight="normal" textLength="153.0" lengthAdjust="spacingAndGlyphs">Aluminium</text>
<text x="192.2" y="1881.7" font-family='"Liberation Serif", serif' font-size="38.5" fill="#ec1c24" text-anchor="start" font-weight="normal" textLength="422.5" lengthAdjust="spacingAndGlyphs">Inside of the receiving coil</text>
<text x="336.6" y="1926.0" font-family='"Liberation Serif", serif' font-size="38.5" fill="#ec1c24" text-anchor="start" font-weight="normal" textLength="136.0" lengthAdjust="spacingAndGlyphs">structure</text>
<linearGradient id="cbb" x1="0" y1="0" x2="0" y2="1"><stop offset="0.000" stop-color="#e91f25"/><stop offset="0.050" stop-color="#ec3b26"/><stop offset="0.100" stop-color="#ef5a27"/><stop offset="0.150" stop-color="#f37624"/><stop offset="0.200" stop-color="#f7941d"/><stop offset="0.250" stop-color="#fcb817"/><stop offset="0.280" stop-color="#fece10"/><stop offset="0.300" stop-color="#fde11b"/><stop offset="0.320" stop-color="#f9e81d"/><stop offset="0.350" stop-color="#ebe222"/><stop offset="0.400" stop-color="#d7dc28"/><stop offset="0.450" stop-color="#bcd33b"/><stop offset="0.500" stop-color="#94c86a"/><stop offset="0.550" stop-color="#77c39a"/><stop offset="0.600" stop-color="#6ec2b0"/><stop offset="0.650" stop-color="#6cc5cf"/><stop offset="0.680" stop-color="#66c8e0"/><stop offset="0.700" stop-color="#50c3ea"/><stop offset="0.730" stop-color="#2fc4f0"/><stop offset="0.750" stop-color="#36b2e6"/><stop offset="0.780" stop-color="#3e94d2"/><stop offset="0.800" stop-color="#3f86c8"/><stop offset="0.830" stop-color="#3e78be"/><stop offset="0.850" stop-color="#3c6bb4"/><stop offset="0.880" stop-color="#3b5eac"/><stop offset="0.900" stop-color="#3a59a8"/><stop offset="0.950" stop-color="#3a56a7"/><stop offset="1.000" stop-color="#3a55a7"/></linearGradient>
<rect x="1300.2" y="1426.0" width="33.0" height="904.0" fill="url(#cbb)" stroke="#6a6a6a" stroke-width="2.0"/>
<line x1="1300.2" y1="2239.3" x2="1306.2" y2="2239.3" stroke="#222" stroke-width="2.0"/>
<line x1="1327.2" y1="2239.3" x2="1333.2" y2="2239.3" stroke="#222" stroke-width="2.0"/>
<line x1="1300.2" y1="2149.0" x2="1306.2" y2="2149.0" stroke="#222" stroke-width="2.0"/>
<line x1="1327.2" y1="2149.0" x2="1333.2" y2="2149.0" stroke="#222" stroke-width="2.0"/>
<line x1="1300.2" y1="2058.6" x2="1306.2" y2="2058.6" stroke="#222" stroke-width="2.0"/>
<line x1="1327.2" y1="2058.6" x2="1333.2" y2="2058.6" stroke="#222" stroke-width="2.0"/>
<line x1="1300.2" y1="1968.2" x2="1306.2" y2="1968.2" stroke="#222" stroke-width="2.0"/>
<line x1="1327.2" y1="1968.2" x2="1333.2" y2="1968.2" stroke="#222" stroke-width="2.0"/>
<line x1="1300.2" y1="1877.8" x2="1306.2" y2="1877.8" stroke="#222" stroke-width="2.0"/>
<line x1="1327.2" y1="1877.8" x2="1333.2" y2="1877.8" stroke="#222" stroke-width="2.0"/>
<line x1="1300.2" y1="1787.5" x2="1306.2" y2="1787.5" stroke="#222" stroke-width="2.0"/>
<line x1="1327.2" y1="1787.5" x2="1333.2" y2="1787.5" stroke="#222" stroke-width="2.0"/>
<line x1="1300.2" y1="1697.1" x2="1306.2" y2="1697.1" stroke="#222" stroke-width="2.0"/>
<line x1="1327.2" y1="1697.1" x2="1333.2" y2="1697.1" stroke="#222" stroke-width="2.0"/>
<line x1="1300.2" y1="1606.7" x2="1306.2" y2="1606.7" stroke="#222" stroke-width="2.0"/>
<line x1="1327.2" y1="1606.7" x2="1333.2" y2="1606.7" stroke="#222" stroke-width="2.0"/>
<line x1="1300.2" y1="1516.4" x2="1306.2" y2="1516.4" stroke="#222" stroke-width="2.0"/>
<line x1="1327.2" y1="1516.4" x2="1333.2" y2="1516.4" stroke="#222" stroke-width="2.0"/>
<text x="1351.0" y="2338.2" font-family='"Liberation Sans", sans-serif' font-size="23.2" fill="#1a1a1a" text-anchor="start" font-weight="normal" textLength="15.8" lengthAdjust="spacingAndGlyphs">0</text>
<text x="1351.0" y="2247.8" font-family='"Liberation Sans", sans-serif' font-size="23.2" fill="#1a1a1a" text-anchor="start" font-weight="normal" textLength="31.6" lengthAdjust="spacingAndGlyphs">10</text>
<text x="1351.0" y="2157.5" font-family='"Liberation Sans", sans-serif' font-size="23.2" fill="#1a1a1a" text-anchor="start" font-weight="normal" textLength="31.6" lengthAdjust="spacingAndGlyphs">20</text>
<text x="1351.0" y="2067.1" font-family='"Liberation Sans", sans-serif' font-size="23.2" fill="#1a1a1a" text-anchor="start" font-weight="normal" textLength="31.6" lengthAdjust="spacingAndGlyphs">30</text>
<text x="1351.0" y="1976.7" font-family='"Liberation Sans", sans-serif' font-size="23.2" fill="#1a1a1a" text-anchor="start" font-weight="normal" textLength="31.6" lengthAdjust="spacingAndGlyphs">40</text>
<text x="1351.0" y="1886.3" font-family='"Liberation Sans", sans-serif' font-size="23.2" fill="#1a1a1a" text-anchor="start" font-weight="normal" textLength="31.6" lengthAdjust="spacingAndGlyphs">50</text>
<text x="1351.0" y="1796.0" font-family='"Liberation Sans", sans-serif' font-size="23.2" fill="#1a1a1a" text-anchor="start" font-weight="normal" textLength="31.6" lengthAdjust="spacingAndGlyphs">60</text>
<text x="1351.0" y="1705.6" font-family='"Liberation Sans", sans-serif' font-size="23.2" fill="#1a1a1a" text-anchor="start" font-weight="normal" textLength="31.6" lengthAdjust="spacingAndGlyphs">70</text>
<text x="1351.0" y="1615.2" font-family='"Liberation Sans", sans-serif' font-size="23.2" fill="#1a1a1a" text-anchor="start" font-weight="normal" textLength="31.6" lengthAdjust="spacingAndGlyphs">80</text>
<text x="1351.0" y="1524.9" font-family='"Liberation Sans", sans-serif' font-size="23.2" fill="#1a1a1a" text-anchor="start" font-weight="normal" textLength="31.6" lengthAdjust="spacingAndGlyphs">90</text>
<text x="1351.0" y="1434.5" font-family='"Liberation Sans", sans-serif' font-size="23.2" fill="#1a1a1a" text-anchor="start" font-weight="normal" textLength="47.4" lengthAdjust="spacingAndGlyphs">100</text>
<text x="1290.0" y="1337.8" font-family='"Liberation Serif", serif' font-size="36.5" fill="#1a1a1a" text-anchor="start" font-weight="normal" textLength="67.0" lengthAdjust="spacingAndGlyphs">V/m</text>
<path d="M1272.4 1373.8 L1284.5 1355 L1296.6 1373.8 Z" fill="#000"/>
<text x="1308.0" y="1376.0" font-family='"Liberation Sans", sans-serif' font-size="23.6" fill="#1a1a1a" text-anchor="start" font-weight="normal" textLength="49.0" lengthAdjust="spacingAndGlyphs">226</text>
<path d="M1273 2357 L1296 2357 L1284.5 2375 Z" fill="#000"/>
<text x="1308.0" y="2375.0" font-family='"Liberation Sans", sans-serif' font-size="23.6" fill="#1a1a1a" text-anchor="start" font-weight="normal" textLength="15.0" lengthAdjust="spacingAndGlyphs">0</text>
<text x="675.5" y="2513.0" font-family='"Liberation Serif", serif' font-size="69.5" fill="#000" text-anchor="start" font-weight="normal" textLength="80.0" lengthAdjust="spacingAndGlyphs">(<tspan font-weight="bold">b</tspan>)</text>
</svg>
</body></html>
